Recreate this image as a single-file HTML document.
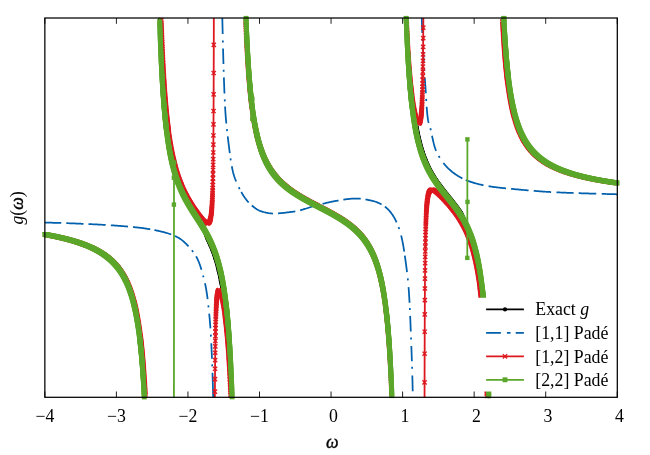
<!DOCTYPE html>
<html><head><meta charset="utf-8"><title>g(ω) Padé</title>
<style>html,body{margin:0;padding:0;background:#fff;}body{width:650px;height:455px;overflow:hidden;font-family:"Liberation Serif",serif;}svg{display:block;will-change:transform;}</style></head>
<body>
<svg width="650" height="455" viewBox="0 0 650 455">
<defs>
<clipPath id="box"><rect x="44.85" y="18.0" width="572.4499999999999" height="379.3"/></clipPath>
<marker id="mg" markerWidth="8" markerHeight="8" refX="4" refY="4" markerUnits="userSpaceOnUse"><rect x="1.5499999999999998" y="1.5499999999999998" width="4.9" height="4.9" fill="#5ba72b"/></marker>
<marker id="mr" markerWidth="8" markerHeight="8" refX="4" refY="4" markerUnits="userSpaceOnUse"><path d="M1.9,1.9L6.1,6.1M1.9,6.1L6.1,1.9" stroke="#dd181f" stroke-width="1.4" fill="none"/></marker>
<marker id="mk" markerWidth="8" markerHeight="8" refX="4" refY="4" markerUnits="userSpaceOnUse"><circle cx="4" cy="4" r="1.85" fill="#000000"/></marker>
</defs>
<rect width="650" height="455" fill="#fff"/>
<g clip-path="url(#box)"><path d="M44.85,234.43 45.28,234.51 45.71,234.58 46.14,234.66 46.57,234.74 47,234.82 47.43,234.89 47.86,234.97 48.28,235.05 48.71,235.13 49.14,235.21 49.57,235.29 50,235.38 50.43,235.46 50.86,235.54 51.29,235.63 51.72,235.71 52.15,235.79 52.58,235.88 53.01,235.96 53.44,236.05 53.87,236.14 54.29,236.23 54.72,236.31 55.15,236.4 55.58,236.49 56.01,236.58 56.44,236.67 56.87,236.77 57.3,236.86 57.73,236.95 58.16,237.05 58.59,237.14 59.02,237.24 59.45,237.33 59.88,237.43 60.3,237.53 60.73,237.62 61.16,237.72 61.59,237.82 62.02,237.92 62.45,238.03 62.88,238.13 63.31,238.23 63.74,238.34 64.17,238.44 64.6,238.55 65.03,238.65 65.46,238.76 65.89,238.87 66.31,238.98 66.74,239.09 67.17,239.2 67.6,239.31 68.03,239.42 68.46,239.54 68.89,239.65 69.32,239.77 69.75,239.89 70.18,240.01 70.61,240.12 71.04,240.24 71.47,240.37 71.9,240.49 72.33,240.61 72.75,240.74 73.18,240.86 73.61,240.99 74.04,241.12 74.47,241.25 74.9,241.38 75.33,241.51 75.76,241.64 76.19,241.78 76.62,241.91 77.05,242.05 77.48,242.19 77.91,242.33 78.34,242.47 78.76,242.61 79.19,242.76 79.62,242.9 80.05,243.05 80.48,243.2 80.91,243.35 81.34,243.5 81.77,243.65 82.2,243.81 82.63,243.96 83.06,244.12 83.49,244.28 83.92,244.44 84.35,244.61 84.77,244.77 85.2,244.94 85.63,245.11 86.06,245.28 86.49,245.45 86.92,245.63 87.35,245.8 87.78,245.98 88.21,246.16 88.64,246.35 89.07,246.53 89.5,246.72 89.93,246.91 90.36,247.1 90.79,247.29 91.21,247.49 91.64,247.69 92.07,247.89 92.5,248.09 92.93,248.3 93.36,248.51 93.79,248.72 94.22,248.94 94.58,249.12 94.94,249.3 95.29,249.48 95.65,249.67 96.01,249.86 96.37,250.05 96.72,250.24 97.08,250.44 97.44,250.64 97.8,250.84 98.15,251.04 98.51,251.25 98.87,251.45 99.23,251.66 99.59,251.87 99.94,252.09 100.3,252.31 100.66,252.53 101.02,252.75 101.37,252.97 101.73,253.2 102.09,253.43 102.45,253.67 102.81,253.91 103.16,254.15 103.52,254.39 103.88,254.64 104.24,254.89 104.59,255.14 104.95,255.4 105.31,255.66 105.67,255.92 106.03,256.19 106.38,256.46 106.74,256.73 107.1,257.01 107.46,257.29 107.81,257.58 108.17,257.87 108.53,258.17 108.89,258.47 109.25,258.77 109.6,259.08 109.96,259.39 110.32,259.71 110.68,260.03 111.03,260.36 111.39,260.69 111.75,261.03 112.11,261.38 112.46,261.73 112.75,262.01 113.04,262.3 113.32,262.59 113.61,262.88 113.9,263.18 114.18,263.49 114.47,263.79 114.75,264.1 115.04,264.42 115.33,264.74 115.61,265.07 115.9,265.4 116.19,265.73 116.47,266.07 116.76,266.41 117.04,266.76 117.33,267.12 117.62,267.48 117.9,267.84 118.19,268.21 118.47,268.59 118.76,268.97 119.05,269.36 119.33,269.76 119.62,270.16 119.91,270.57 120.19,270.98 120.48,271.4 120.76,271.83 121.05,272.27 121.34,272.71 121.62,273.16 121.84,273.5 122.05,273.85 122.27,274.2 122.48,274.56 122.7,274.92 122.91,275.28 123.13,275.66 123.34,276.03 123.56,276.41 123.77,276.8 123.98,277.19 124.2,277.59 124.41,277.99 124.63,278.4 124.84,278.82 125.06,279.24 125.27,279.67 125.49,280.1 125.7,280.54 125.92,280.99 126.13,281.44 126.35,281.9 126.56,282.37 126.77,282.84 126.99,283.33 127.2,283.82 127.42,284.31 127.63,284.82 127.85,285.34 128.06,285.86 128.28,286.39 128.49,286.93 128.71,287.48 128.92,288.04 129.06,288.42 129.21,288.8 129.35,289.19 129.49,289.58 129.64,289.97 129.78,290.37 129.92,290.78 130.07,291.19 130.21,291.6 130.35,292.02 130.5,292.45 130.64,292.88 130.78,293.32 130.92,293.76 131.07,294.2 131.21,294.66 131.35,295.12 131.5,295.58 131.64,296.05 131.78,296.53 131.93,297.01 132.07,297.5 132.21,297.99 132.36,298.5 132.5,299 132.64,299.52 132.78,300.04 132.93,300.57 133.07,301.11 133.21,301.66 133.36,302.21 133.5,302.77 133.64,303.34 133.79,303.92 133.93,304.5 134.07,305.1 134.22,305.7 134.36,306.31 134.5,306.93 134.65,307.56 134.79,308.2 134.93,308.85 135.07,309.51 135.22,310.18 135.36,310.87 135.5,311.56 135.65,312.26 135.79,312.98 135.93,313.7 136.08,314.44 136.22,315.19 136.36,315.95 136.51,316.73 136.65,317.52 136.72,317.92 136.79,318.32 136.86,318.73 136.93,319.14 137.01,319.55 137.08,319.97 137.15,320.39 137.22,320.82 137.29,321.25 137.36,321.68 137.44,322.12 137.51,322.56 137.58,323 137.65,323.45 137.72,323.9 137.79,324.36 137.87,324.82 137.94,325.29 138.01,325.76 138.08,326.23 138.15,326.71 138.22,327.19 138.29,327.68 138.37,328.17 138.44,328.67 138.51,329.17 138.58,329.68 138.65,330.19 138.72,330.71 138.8,331.23 138.87,331.76 138.94,332.29 139.01,332.83 139.08,333.38 139.15,333.93 139.22,334.48 139.3,335.04 139.37,335.61 139.44,336.18 139.51,336.76 139.58,337.34 139.65,337.93 139.73,338.53 139.8,339.13 139.87,339.74 139.94,340.36 140.01,340.98 140.08,341.61 140.15,342.25 140.23,342.89 140.3,343.54 140.37,344.2 140.44,344.87 140.51,345.54 140.58,346.22 140.66,346.91 140.73,347.61 140.8,348.31 140.87,349.03 140.94,349.75 141.01,350.48 141.08,351.22 141.16,351.96 141.23,352.72 141.3,353.49 141.37,354.26 141.44,355.05 141.51,355.84 141.59,356.64 141.66,357.46 141.73,358.28 141.8,359.12 141.87,359.96 141.94,360.82 142.01,361.69 142.09,362.57 142.16,363.46 142.23,364.36 142.3,365.27 142.37,366.2 142.44,367.14 142.52,368.09 142.59,369.05 142.66,370.03 142.73,371.02 142.8,372.03 142.87,373.05 142.95,374.08 143.02,375.13 143.09,376.19 143.16,377.27 143.23,378.37 143.3,379.48 143.37,380.6 143.45,381.75 143.52,382.91 143.59,384.09 143.66,385.28 143.73,386.5 143.8,387.73 143.88,388.99 143.95,390.26 144.02,391.55 144.09,392.87 144.16,394.2 144.23,395.56 144.3,396.94 144.38,398.34 144.45,399.77 144.52,401.22 144.59,402.69 144.66,404.19 144.73,405.72 144.81,407.27 144.88,408.85 144.95,410.46 145.02,412.1 145.09,413.77 145.16,415.46 145.23,417.19 145.31,418.95 145.38,420.75 145.45,422.57 145.52,424.44 145.59,426.33 145.66,428.27M158.76,-12.34 158.83,-9.34 158.9,-6.4 158.97,-3.54 159.04,-0.74 159.12,1.99 159.19,4.66 159.26,7.27 159.33,9.82 159.4,12.32 159.47,14.76 159.54,17.15 159.62,19.49 159.69,21.78 159.76,24.02 159.83,26.22 159.9,28.37 159.97,30.48 160.05,32.54 160.12,34.57 160.19,36.56 160.26,38.5 160.33,40.41 160.4,42.29 160.47,44.13 160.55,45.93 160.62,47.7 160.69,49.44 160.76,51.15 160.83,52.82 160.9,54.47 160.98,56.09 161.05,57.68 161.12,59.24 161.19,60.78 161.26,62.29 161.33,63.77 161.4,65.23 161.48,66.67 161.55,68.08 161.62,69.47 161.69,70.84 161.76,72.18 161.83,73.51 161.91,74.81 161.98,76.09 162.05,77.35 162.12,78.6 162.19,79.82 162.26,81.03 162.34,82.22 162.41,83.39 162.48,84.54 162.55,85.68 162.62,86.8 162.69,87.9 162.76,88.99 162.84,90.06 162.91,91.12 162.98,92.16 163.05,93.19 163.12,94.21 163.19,95.21 163.27,96.19 163.34,97.17 163.41,98.13 163.48,99.07 163.55,100.01 163.62,100.93 163.69,101.84 163.77,102.74 163.84,103.63 163.91,104.51 163.98,105.37 164.05,106.23 164.12,107.07 164.2,107.91 164.27,108.73 164.34,109.54 164.41,110.35 164.48,111.14 164.55,111.92 164.62,112.7 164.7,113.47 164.77,114.22 164.84,114.97 164.91,115.71 164.98,116.44 165.05,117.16 165.13,117.88 165.2,118.58 165.27,119.28 165.34,119.97 165.41,120.66 165.48,121.33 165.55,122 165.63,122.66 165.7,123.31 165.77,123.96 165.84,124.6 165.91,125.23 165.98,125.86 166.06,126.48 166.13,127.09 166.2,127.7 166.27,128.3 166.34,128.89 166.41,129.48 166.49,130.06 166.56,130.64 166.63,131.21 166.7,131.78 166.77,132.33 166.84,132.89 166.91,133.44 166.99,133.98 167.06,134.52 167.13,135.05 167.2,135.58 167.27,136.1 167.34,136.62 167.42,137.13 167.49,137.64 167.56,138.14 167.63,138.64 167.7,139.14 167.77,139.63 167.84,140.11 167.92,140.59 167.99,141.07 168.06,141.54 168.13,142.01 168.2,142.47 168.27,142.93 168.35,143.39 168.42,143.84 168.49,144.29 168.56,144.73 168.63,145.17 168.7,145.61 168.77,146.04 168.85,146.47 168.92,146.9 168.99,147.32 169.06,147.74 169.13,148.15 169.2,148.56 169.28,148.97 169.35,149.38 169.42,149.78 169.49,150.18 169.56,150.57 169.7,151.35 169.85,152.12 169.99,152.88 170.13,153.62 170.28,154.36 170.42,155.08 170.56,155.79 170.71,156.49 170.85,157.18 170.99,157.86 171.14,158.53 171.28,159.2 171.42,159.85 171.57,160.49 171.71,161.13 171.85,161.75 171.99,162.37 172.14,162.98 172.28,163.58 172.42,164.17 172.57,164.76 172.71,165.33 172.85,165.9 173,166.47 173.14,167.02 173.28,167.57 173.43,168.11 173.57,168.65 173.71,169.18 173.85,169.7 174,170.22 174.14,170.73 174.28,171.23 174.43,171.73 174.57,172.22 174.71,172.71 174.86,173.19 175,173.67 175.14,174.14 175.29,174.61 175.43,175.07 175.57,175.52 175.71,175.97 175.86,176.42 176,176.86 176.14,177.3 176.29,177.73 176.43,178.16 176.57,178.59 176.72,179.01 176.86,179.42 177,179.83 177.15,180.24 177.29,180.64 177.43,181.04 177.58,181.44 177.72,181.83 177.86,182.22 178,182.61 178.15,182.99 178.29,183.37 178.43,183.74 178.65,184.3 178.86,184.85 179.08,185.39 179.29,185.93 179.51,186.46 179.72,186.98 179.94,187.5 180.15,188.01 180.37,188.51 180.58,189.01 180.8,189.5 181.01,189.99 181.22,190.47 181.44,190.95 181.65,191.42 181.87,191.89 182.08,192.35 182.3,192.81 182.51,193.26 182.73,193.71 182.94,194.15 183.16,194.59 183.37,195.03 183.59,195.46 183.8,195.89 184.01,196.32 184.23,196.74 184.44,197.15 184.66,197.57 184.87,197.98 185.09,198.39 185.3,198.79 185.52,199.19 185.73,199.59 185.95,199.99 186.16,200.38 186.38,200.77 186.59,201.15 186.81,201.54 187.02,201.92 187.23,202.3 187.45,202.68 187.66,203.05 187.88,203.42 188.09,203.79 188.31,204.16 188.52,204.53 188.74,204.89 188.95,205.26 189.17,205.62 189.38,205.97 189.6,206.33 189.81,206.69 190.02,207.04 190.24,207.39 190.45,207.74 190.67,208.09 190.88,208.44 191.1,208.79 191.31,209.13 191.53,209.48 191.74,209.82 191.96,210.16 192.17,210.51 192.39,210.85 192.6,211.19 192.82,211.52 193.03,211.86 193.32,212.31 193.6,212.76 193.89,213.21 194.17,213.65 194.46,214.1 194.75,214.54 195.03,214.98 195.32,215.43 195.61,215.87 195.89,216.31 196.18,216.75 196.46,217.19 196.75,217.64 197.04,218.08 197.32,218.52 197.61,218.96 197.9,219.41 198.18,219.85 198.47,220.29 198.75,220.74 199.04,221.19 199.33,221.63 199.61,222.08 199.9,222.53 200.11,222.87 200.33,223.21 200.54,223.55 200.76,223.89 200.97,224.23 201.19,224.58 201.4,224.92 201.62,225.27 201.83,225.61 202.05,225.96 202.26,226.31 202.47,226.66 202.69,227.01 202.9,227.37 203.12,227.72 203.32,228.09 203.48,228.48 203.64,228.87 203.8,229.27 203.96,229.66 204.11,230.06 204.27,230.46 204.43,230.86 204.58,231.27 204.74,231.68 204.89,232.09 205.05,232.5 205.2,232.91 205.35,233.33 205.51,233.74 205.66,234.17 205.81,234.59 205.96,235.01 206.11,235.44 206.26,235.88 206.41,236.31 206.55,236.75 206.7,237.19 206.85,237.63 206.99,238.08 207.14,238.53 207.31,238.97 207.52,239.39 207.73,239.82 207.94,240.25 208.15,240.69 208.36,241.13 208.58,241.57 208.79,242.02 209,242.47 209.21,242.93 209.42,243.39 209.63,243.85 209.85,244.33 210.06,244.8 210.27,245.28 210.48,245.77 210.69,246.27 210.9,246.77 211.12,247.27 211.33,247.78 211.54,248.3 211.75,248.82 211.96,249.36 212.17,249.89 212.39,250.44 212.6,250.99 212.81,251.55 212.95,251.93 213.09,252.31 213.23,252.7 213.37,253.08 213.52,253.48 213.66,253.87 213.8,254.27 213.94,254.68 214.08,255.09 214.22,255.5 214.36,255.91 214.51,256.33 214.65,256.76 214.79,257.19 214.93,257.62 215.07,258.06 215.21,258.51 215.35,258.96 215.49,259.41 215.64,259.87 215.78,260.33 215.92,260.8 216.06,261.28 216.2,261.76 216.34,262.24 216.49,262.73 216.63,263.23 216.77,263.73 216.91,264.24 217.05,264.76 217.19,265.28 217.33,265.81 217.48,266.35 217.62,266.89 217.76,267.44 217.9,268 218.04,268.56 218.19,269.13 218.33,269.71 218.47,270.3 218.61,270.9 218.75,271.5 218.89,272.11 219.04,272.73 219.18,273.36 219.32,274 219.46,274.65 219.6,275.31 219.75,275.98 219.89,276.66 220.03,277.35 220.17,278.05 220.31,278.76 220.46,279.48 220.6,280.21 220.74,280.96 220.88,281.71 221.02,282.48 221.17,283.26 221.24,283.66 221.31,284.06 221.38,284.46 221.45,284.87 221.52,285.28 221.59,285.69 221.66,286.11 221.74,286.53 221.81,286.95 221.88,287.38 221.95,287.81 222.02,288.25 222.09,288.69 222.16,289.13 222.23,289.58 222.3,290.03 222.41,290.48 222.57,290.92 222.72,291.37 222.87,291.83 223.03,292.29 223.19,292.75 223.34,293.22 223.5,293.7 223.66,294.18 223.82,294.66 223.98,295.15 224.14,295.64 224.31,296.14 224.47,296.64 224.64,297.15 224.8,297.66 224.97,298.18 225.13,298.71 225.3,299.24 225.47,299.77 225.59,300.32 225.66,300.88 225.73,301.45 225.8,302.02 225.87,302.6 225.94,303.18 226.01,303.77 226.09,304.37 226.16,304.97 226.23,305.58 226.3,306.19 226.37,306.82 226.44,307.44 226.52,308.08 226.59,308.72 226.66,309.37 226.73,310.03 226.8,310.69 226.87,311.37 226.94,312.05 227.02,312.73 227.09,313.43 227.16,314.13 227.23,314.85 227.3,315.57 227.37,316.3 227.45,317.03 227.52,317.78 227.59,318.54 227.66,319.3 227.73,320.07 227.8,320.86 227.87,321.65 227.95,322.46 228.02,323.27 228.09,324.09 228.16,324.93 228.23,325.78 228.3,326.63 228.38,327.5 228.45,328.38 228.52,329.27 228.59,330.17 228.66,331.09 228.73,332.02 228.81,332.96 228.88,333.91 228.95,334.88 229.02,335.86 229.09,336.85 229.16,337.86 229.23,338.88 229.31,339.92 229.38,340.97 229.45,342.04 229.52,343.12 229.59,344.23 229.66,345.34 229.74,346.48 229.81,347.63 229.88,348.79 229.95,349.98 230.02,351.19 230.09,352.41 230.16,353.66 230.24,354.92 230.31,356.2 230.38,357.51 230.45,358.84 230.52,360.19 230.59,361.56 230.67,362.95 230.74,364.37 230.81,365.82 230.88,367.28 230.95,368.78 231.02,370.3 231.09,371.85 231.17,373.42 231.24,375.03 231.31,376.66 231.38,378.33 231.45,380.02 231.52,381.75 231.6,383.51 231.67,385.31 231.74,387.14 231.81,389.01 231.88,390.91 231.95,392.85 232.02,394.83 232.1,396.86 232.17,398.92 232.24,401.03 232.31,403.18 232.38,405.38 232.45,407.63 232.53,409.93 232.6,412.27 232.67,414.67 232.74,417.13 232.81,419.64 232.88,422.21 232.95,424.84 233.03,427.54M245.05,-13.1 245.12,-10.53 245.19,-8.02 245.26,-5.57 245.33,-3.17 245.4,-0.82 245.48,1.47 245.55,3.71 245.62,5.91 245.69,8.06 245.76,10.17 245.83,12.23 245.91,14.25 245.98,16.23 246.05,18.17 246.12,20.07 246.19,21.93 246.26,23.76 246.33,25.55 246.41,27.31 246.48,29.03 246.55,30.72 246.62,32.39 246.69,34.02 246.76,35.62 246.84,37.19 246.91,38.73 246.98,40.25 247.05,41.74 247.12,43.21 247.19,44.65 247.26,46.06 247.34,47.45 247.41,48.82 247.48,50.16 247.55,51.49 247.62,52.79 247.69,54.07 247.77,55.33 247.84,56.57 247.91,57.79 247.98,58.99 248.05,60.17 248.12,61.33 248.2,62.48 248.27,63.61 248.34,64.72 248.41,65.82 248.48,66.9 248.55,67.96 248.62,69.01 248.7,70.04 248.77,71.06 248.84,72.06 248.91,73.05 248.98,74.02 249.05,74.99 249.13,75.93 249.2,76.87 249.27,77.79 249.34,78.7 249.41,79.6 249.48,80.48 249.55,81.36 249.63,82.22 249.7,83.07 249.77,83.91 249.84,84.74 249.91,85.56 249.98,86.37 250.06,87.17 250.13,87.95 250.2,88.73 250.27,89.5 250.34,90.26 250.41,91.01 250.48,91.75 250.56,92.48 250.63,93.2 250.7,93.92 250.77,94.62 250.84,95.32 250.91,96.01 250.99,96.69 251.06,97.36 251.13,98.03 251.2,98.69 251.27,99.34 251.34,99.98 251.41,100.62 251.49,101.25 251.56,101.87 251.63,102.48 251.7,103.09 251.77,103.69 251.84,104.29 251.92,104.88 251.99,105.46 252.06,106.04 252.13,106.61 252.2,107.17 252.27,107.73 252.35,108.28 252.42,108.83 252.49,109.37 252.56,109.91 252.63,110.44 252.7,110.96 252.77,111.48 252.85,112 252.92,112.5 252.99,113.01 253.06,113.51 253.13,114 253.2,114.49 253.28,114.98 253.35,115.46 253.42,115.93 253.49,116.4 253.56,116.87 253.63,117.33 253.7,117.79 253.78,118.24 253.85,118.69 253.92,119.14 253.99,119.58 254.06,120.02 254.13,120.45 254.21,120.88 254.28,121.3 254.35,121.73 254.42,122.14 254.49,122.56 254.56,122.97 254.63,123.37 254.71,123.78 254.78,124.18 254.85,124.57 254.99,125.36 255.14,126.13 255.28,126.88 255.42,127.62 255.56,128.36 255.71,129.07 255.85,129.78 255.99,130.48 256.14,131.16 256.28,131.84 256.42,132.5 256.57,133.15 256.71,133.8 256.85,134.43 257,135.06 257.14,135.67 257.28,136.28 257.43,136.87 257.57,137.46 257.71,138.04 257.85,138.61 258,139.17 258.14,139.73 258.28,140.27 258.43,140.81 258.57,141.35 258.71,141.87 258.86,142.39 259,142.9 259.14,143.4 259.29,143.9 259.43,144.39 259.57,144.88 259.71,145.35 259.86,145.83 260,146.29 260.14,146.75 260.29,147.21 260.43,147.65 260.57,148.1 260.72,148.53 260.86,148.97 261,149.39 261.15,149.82 261.29,150.23 261.43,150.64 261.57,151.05 261.72,151.45 261.86,151.85 262,152.24 262.15,152.63 262.29,153.02 262.43,153.4 262.58,153.77 262.79,154.33 263.01,154.88 263.22,155.41 263.44,155.94 263.65,156.46 263.86,156.98 264.08,157.48 264.29,157.98 264.51,158.47 264.72,158.95 264.94,159.42 265.15,159.89 265.37,160.35 265.58,160.8 265.8,161.25 266.01,161.69 266.23,162.13 266.44,162.55 266.66,162.98 266.87,163.39 267.08,163.8 267.3,164.21 267.51,164.61 267.73,165 267.94,165.39 268.16,165.78 268.37,166.16 268.59,166.53 268.8,166.9 269.02,167.27 269.23,167.63 269.45,167.99 269.66,168.34 269.87,168.68 270.09,169.03 270.3,169.37 270.59,169.81 270.88,170.25 271.16,170.69 271.45,171.11 271.74,171.53 272.02,171.95 272.31,172.35 272.59,172.75 272.88,173.15 273.17,173.54 273.45,173.92 273.74,174.3 274.02,174.68 274.31,175.05 274.6,175.41 274.88,175.77 275.17,176.13 275.46,176.48 275.74,176.82 276.03,177.16 276.31,177.5 276.6,177.83 276.89,178.16 277.17,178.49 277.46,178.81 277.75,179.12 278.03,179.44 278.32,179.75 278.6,180.05 278.89,180.35 279.18,180.65 279.46,180.95 279.75,181.24 280.03,181.53 280.32,181.82 280.61,182.1 280.89,182.38 281.25,182.73 281.61,183.07 281.97,183.41 282.32,183.74 282.68,184.07 283.04,184.39 283.4,184.72 283.76,185.03 284.11,185.35 284.47,185.66 284.83,185.96 285.19,186.27 285.54,186.57 285.9,186.86 286.26,187.16 286.62,187.45 286.98,187.73 287.33,188.02 287.69,188.3 288.05,188.58 288.41,188.86 288.76,189.13 289.12,189.4 289.48,189.67 289.84,189.93 290.19,190.2 290.55,190.46 290.91,190.72 291.27,190.97 291.63,191.23 291.98,191.48 292.34,191.73 292.7,191.97 293.06,192.22 293.41,192.46 293.77,192.71 294.13,192.95 294.49,193.18 294.85,193.42 295.2,193.66 295.56,193.89 295.92,194.12 296.28,194.35 296.63,194.58 296.99,194.8 297.35,195.03 297.71,195.25 298.07,195.48 298.42,195.7 298.78,195.92 299.14,196.13 299.5,196.35 299.85,196.57 300.21,196.78 300.57,196.99 300.93,197.21 301.29,197.42 301.64,197.63 302,197.84 302.36,198.04 302.72,198.25 303.07,198.46 303.43,198.66 303.79,198.86 304.15,199.07 304.5,199.27 304.86,199.47 305.22,199.67 305.58,199.87 305.94,200.07 306.29,200.27 306.65,200.46 307.01,200.66 307.37,200.86 307.72,201.05 308.08,201.25 308.44,201.44 308.8,201.63 309.16,201.83 309.51,202.02 309.87,202.21 310.23,202.4 310.59,202.59 310.94,202.78 311.3,202.97 311.66,203.16 312.02,203.35 312.38,203.54 312.73,203.73 313.09,203.92 313.45,204.1 313.81,204.29 314.16,204.48 314.52,204.67 314.88,204.85 315.24,205.04 315.6,205.22 315.95,205.41 316.31,205.6 316.67,205.78 317.03,205.97 317.38,206.15 317.74,206.34 318.1,206.52 318.46,206.71 318.81,206.89 319.17,207.08 319.53,207.26 319.89,207.45 320.25,207.63 320.6,207.82 320.96,208 321.32,208.19 321.68,208.38 322.03,208.56 322.39,208.75 322.75,208.93 323.11,209.12 323.47,209.31 323.82,209.49 324.18,209.68 324.54,209.87 324.9,210.05 325.25,210.24 325.61,210.43 325.97,210.62 326.33,210.81 326.69,211 327.04,211.19 327.4,211.38 327.76,211.57 328.12,211.76 328.47,211.95 328.83,212.14 329.19,212.34 329.55,212.53 329.91,212.72 330.26,212.92 330.62,213.11 330.98,213.31 331.34,213.5 331.69,213.7 332.05,213.9 332.41,214.1 332.77,214.3 333.12,214.5 333.48,214.7 333.84,214.9 334.2,215.1 334.56,215.31 334.91,215.51 335.27,215.72 335.63,215.92 335.99,216.13 336.34,216.34 336.7,216.55 337.06,216.76 337.42,216.97 337.78,217.18 338.13,217.4 338.49,217.61 338.85,217.83 339.21,218.05 339.56,218.27 339.92,218.49 340.28,218.71 340.64,218.93 341,219.16 341.35,219.39 341.71,219.61 342.07,219.84 342.43,220.08 342.78,220.31 343.14,220.54 343.5,220.78 343.86,221.02 344.22,221.26 344.57,221.5 344.93,221.74 345.29,221.99 345.65,222.24 346,222.49 346.36,222.74 346.72,222.99 347.08,223.25 347.43,223.51 347.79,223.77 348.15,224.03 348.51,224.3 348.87,224.56 349.22,224.83 349.58,225.11 349.94,225.38 350.3,225.66 350.65,225.94 351.01,226.23 351.37,226.52 351.73,226.81 352.09,227.1 352.44,227.4 352.8,227.7 353.16,228 353.52,228.31 353.87,228.62 354.23,228.93 354.59,229.25 354.95,229.57 355.31,229.9 355.66,230.23 356.02,230.56 356.38,230.9 356.74,231.24 357.09,231.59 357.38,231.87 357.67,232.15 357.95,232.44 358.24,232.73 358.53,233.02 358.81,233.32 359.1,233.62 359.38,233.92 359.67,234.23 359.96,234.54 360.24,234.85 360.53,235.17 360.81,235.49 361.1,235.82 361.39,236.15 361.67,236.48 361.96,236.82 362.25,237.16 362.53,237.51 362.82,237.86 363.1,238.21 363.39,238.58 363.68,238.94 363.96,239.31 364.25,239.69 364.54,240.07 364.82,240.45 365.11,240.85 365.39,241.24 365.68,241.65 365.97,242.06 366.25,242.47 366.54,242.89 366.82,243.32 367.11,243.76 367.4,244.2 367.68,244.65 367.9,244.99 368.11,245.33 368.33,245.68 368.54,246.04 368.76,246.39 368.97,246.76 369.19,247.12 369.4,247.5 369.62,247.87 369.83,248.25 370.04,248.64 370.26,249.03 370.47,249.43 370.69,249.83 370.9,250.24 371.12,250.65 371.33,251.07 371.55,251.5 371.76,251.93 371.98,252.37 372.19,252.81 372.41,253.26 372.62,253.72 372.84,254.18 373.05,254.65 373.26,255.13 373.48,255.62 373.69,256.11 373.91,256.61 374.12,257.12 374.34,257.63 374.55,258.16 374.77,258.69 374.98,259.23 375.2,259.79 375.41,260.35 375.55,260.72 375.7,261.11 375.84,261.5 375.98,261.89 376.13,262.28 376.27,262.68 376.41,263.09 376.56,263.5 376.7,263.92 376.84,264.34 376.99,264.76 377.13,265.19 377.27,265.63 377.41,266.07 377.56,266.52 377.7,266.97 377.84,267.43 377.99,267.89 378.13,268.36 378.27,268.84 378.42,269.32 378.56,269.81 378.7,270.31 378.85,270.81 378.99,271.32 379.13,271.83 379.27,272.36 379.42,272.89 379.56,273.42 379.7,273.97 379.85,274.52 379.99,275.08 380.13,275.65 380.28,276.23 380.42,276.81 380.56,277.41 380.71,278.01 380.85,278.62 380.99,279.24 381.13,279.87 381.28,280.51 381.42,281.16 381.56,281.82 381.71,282.49 381.85,283.18 381.99,283.87 382.14,284.57 382.28,285.29 382.42,286.02 382.57,286.75 382.71,287.51 382.85,288.27 383,289.05 383.07,289.44 383.14,289.84 383.21,290.24 383.28,290.64 383.35,291.05 383.42,291.46 383.5,291.88 383.57,292.3 383.64,292.72 383.71,293.15 383.78,293.58 383.85,294.01 383.93,294.45 384,294.89 384.07,295.34 384.14,295.79 384.21,296.24 384.28,296.7 384.35,297.16 384.43,297.63 384.5,298.1 384.57,298.58 384.64,299.06 384.71,299.55 384.78,300.04 384.86,300.53 384.93,301.03 385,301.54 385.07,302.05 385.14,302.57 385.21,303.09 385.28,303.61 385.36,304.14 385.43,304.68 385.5,305.22 385.57,305.77 385.64,306.32 385.71,306.88 385.79,307.45 385.86,308.02 385.93,308.6 386,309.18 386.07,309.77 386.14,310.37 386.22,310.97 386.29,311.58 386.36,312.19 386.43,312.82 386.5,313.45 386.57,314.08 386.64,314.73 386.72,315.38 386.79,316.04 386.86,316.7 386.93,317.38 387,318.06 387.07,318.75 387.15,319.45 387.22,320.15 387.29,320.87 387.36,321.59 387.43,322.32 387.5,323.06 387.57,323.81 387.65,324.57 387.72,325.34 387.79,326.12 387.86,326.91 387.93,327.7 388,328.51 388.08,329.33 388.15,330.16 388.22,331 388.29,331.85 388.36,332.71 388.43,333.58 388.5,334.47 388.58,335.37 388.65,336.27 388.72,337.2 388.79,338.13 388.86,339.08 388.93,340.04 389.01,341.01 389.08,342 389.15,343 389.22,344.02 389.29,345.05 389.36,346.09 389.43,347.15 389.51,348.23 389.58,349.32 389.65,350.43 389.72,351.56 389.79,352.7 389.86,353.86 389.94,355.04 390.01,356.24 390.08,357.45 390.15,358.69 390.22,359.95 390.29,361.22 390.36,362.52 390.44,363.84 390.51,365.18 390.58,366.54 390.65,367.92 390.72,369.33 390.79,370.76 390.87,372.22 390.94,373.7 391.01,375.21 391.08,376.75 391.15,378.31 391.22,379.91 391.3,381.53 391.37,383.18 391.44,384.86 391.51,386.57 391.58,388.32 391.65,390.1 391.72,391.91 391.8,393.76 391.87,395.65 391.94,397.57 392.01,399.54 392.08,401.54 392.15,403.58 392.23,405.67 392.3,407.8 392.37,409.98 392.44,412.2 392.51,414.47 392.58,416.79 392.65,419.17 392.73,421.6 392.8,424.08 392.87,426.62 392.94,429.21M405.18,-12.28 405.25,-9.71 405.32,-7.2 405.39,-4.74 405.46,-2.34 405.53,0.01 405.61,2.31 405.68,4.56 405.75,6.76 405.82,8.91 405.89,11.02 405.96,13.09 406.03,15.12 406.11,17.1 406.18,19.05 406.25,20.96 406.32,22.83 406.39,24.66 406.46,26.46 406.54,28.23 406.61,29.96 406.68,31.66 406.75,33.33 406.82,34.97 406.89,36.57 406.96,38.16 407.04,39.71 407.11,41.23 407.18,42.73 407.25,44.2 407.32,45.65 407.39,47.08 407.47,48.48 407.54,49.85 407.61,51.21 407.68,52.54 407.75,53.85 407.82,55.14 407.89,56.4 407.97,57.65 408.04,58.88 408.11,60.09 408.18,61.28 408.25,62.46 408.32,63.61 408.4,64.75 408.47,65.87 408.54,66.97 408.61,68.06 408.68,69.13 408.75,70.19 408.82,71.23 408.9,72.26 408.97,73.27 409.04,74.27 409.11,75.25 409.18,76.22 409.25,77.18 409.33,78.12 409.4,79.05 409.47,79.97 409.54,80.88 409.61,81.77 409.68,82.66 409.76,83.53 409.83,84.39 409.9,85.24 409.97,86.07 410.04,86.9 410.11,87.72 410.18,88.52 410.26,89.32 410.33,90.11 410.4,90.89 410.47,91.65 410.54,92.41 410.61,93.16 410.69,93.9 410.76,94.63 410.83,95.36 410.9,96.07 410.97,96.78 411.04,97.47 411.11,98.16 411.19,98.85 411.26,99.52 411.33,100.19 411.4,100.85 411.47,101.5 411.54,102.14 411.62,102.78 411.76,103.4 411.94,104.01 412.12,104.62 412.29,105.21 412.47,105.8 412.65,106.39 412.82,106.97 412.99,107.54 413.17,108.1 413.34,108.66 413.51,109.22 413.67,109.76 413.84,110.3 414.01,110.84 414.17,111.37 414.34,111.89 414.5,112.41 414.64,112.93 414.71,113.45 414.78,113.97 414.85,114.48 414.92,114.98 414.99,115.48 415.06,115.98 415.14,116.47 415.21,116.95 415.28,117.44 415.35,117.91 415.42,118.39 415.49,118.85 415.56,119.32 415.63,119.78 415.71,120.23 415.78,120.68 415.85,121.13 415.92,121.57 415.99,122.01 416.06,122.45 416.13,122.88 416.2,123.31 416.27,123.73 416.35,124.15 416.42,124.57 416.49,124.98 416.56,125.39 416.63,125.79 416.7,126.2 416.77,126.59 416.84,126.99 416.99,127.77 417.13,128.54 417.27,129.29 417.41,130.04 417.55,130.77 417.7,131.49 417.84,132.19 417.98,132.89 418.12,133.58 418.26,134.25 418.41,134.92 418.55,135.57 418.69,136.22 418.83,136.85 418.97,137.48 419.12,138.1 419.26,138.71 419.4,139.31 419.54,139.9 419.68,140.48 419.82,141.05 419.97,141.62 420.11,142.18 420.25,142.73 420.39,143.28 420.53,143.81 420.67,144.34 420.82,144.87 420.96,145.38 421.1,145.89 421.24,146.4 421.38,146.89 421.52,147.38 421.67,147.87 421.81,148.35 421.95,148.82 422.09,149.29 422.23,149.75 422.37,150.21 422.51,150.66 422.66,151.1 422.8,151.54 422.94,151.98 423.08,152.41 423.22,152.84 423.36,153.26 423.5,153.67 423.64,154.08 423.79,154.49 423.93,154.9 424.07,155.29 424.21,155.69 424.35,156.08 424.49,156.46 424.63,156.85 424.77,157.23 424.91,157.6 425.13,158.16 425.34,158.7 425.55,159.24 425.76,159.77 425.97,160.29 426.18,160.81 426.39,161.32 426.61,161.82 426.82,162.32 427.03,162.81 427.24,163.29 427.45,163.76 427.66,164.23 427.87,164.7 428.09,165.16 428.3,165.61 428.51,166.05 428.72,166.5 428.93,166.93 429.14,167.36 429.35,167.79 429.56,168.21 429.77,168.63 429.99,169.04 430.2,169.45 430.41,169.85 430.62,170.25 430.83,170.65 431.04,171.04 431.25,171.43 431.46,171.81 431.67,172.19 431.89,172.57 432.1,172.94 432.31,173.31 432.52,173.67 432.73,174.03 432.94,174.39 433.15,174.75 433.36,175.1 433.58,175.45 433.79,175.8 434,176.14 434.21,176.49 434.49,176.94 434.77,177.38 435.05,177.83 435.34,178.26 435.62,178.7 435.9,179.13 436.18,179.55 436.46,179.97 436.75,180.39 437.03,180.81 437.31,181.22 437.59,181.63 437.88,182.03 438.16,182.43 438.44,182.83 438.72,183.23 439.01,183.62 439.29,184.01 439.57,184.4 439.86,184.79 440.14,185.17 440.42,185.55 440.71,185.93 440.99,186.31 441.27,186.68 441.56,187.06 441.84,187.43 442.12,187.8 442.41,188.17 442.69,188.54 442.98,188.9 443.26,189.27 443.54,189.63 443.83,189.99 444.11,190.35 444.4,190.71 444.68,191.07 444.97,191.43 445.25,191.79 445.54,192.15 445.82,192.5 446.11,192.86 446.39,193.21 446.68,193.57 446.96,193.92 447.25,194.28 447.54,194.63 447.82,194.99 448.11,195.34 448.39,195.7 448.68,196.05 448.97,196.4 449.25,196.76 449.54,197.11 449.83,197.47 450.11,197.83 450.4,198.18 450.69,198.54 450.97,198.9 451.26,199.26 451.55,199.62 451.84,199.98 452.12,200.34 452.41,200.7 452.7,201.06 452.99,201.43 453.27,201.8 453.56,202.16 453.85,202.53 454.14,202.9 454.43,203.28 454.72,203.65 455,204.03 455.29,204.4 455.58,204.78 455.87,205.17 456.16,205.55 456.45,205.94 456.74,206.32 457.03,206.72 457.32,207.11 457.61,207.51 457.9,207.9 458.18,208.31 458.47,208.71 458.76,209.12 459.05,209.53 459.34,209.94 459.63,210.36 459.92,210.78 460.21,211.21 460.5,211.64 460.79,212.07 461.08,212.51 461.37,212.95 461.56,213.3 461.73,213.67 461.9,214.04 462.06,214.41 462.23,214.78 462.4,215.16 462.56,215.54 462.73,215.92 462.9,216.31 463.06,216.7 463.22,217.09 463.39,217.48 463.55,217.88 463.71,218.28 463.87,218.68 464.03,219.09 464.19,219.5 464.35,219.91 464.51,220.33 464.66,220.75 464.82,221.17 464.97,221.6 465.13,222.03 465.28,222.47 465.43,222.91 465.59,223.35 465.74,223.8 465.92,224.23 466.14,224.66 466.35,225.08 466.57,225.52 466.78,225.95 467,226.4 467.21,226.84 467.42,227.3 467.64,227.76 467.85,228.22 468.07,228.69 468.28,229.17 468.5,229.65 468.71,230.14 468.93,230.63 469.14,231.14 469.36,231.65 469.57,232.16 469.79,232.68 470,233.21 470.21,233.75 470.43,234.3 470.64,234.85 470.86,235.41 471,235.79 471.14,236.17 471.29,236.56 471.43,236.95 471.57,237.34 471.72,237.74 471.86,238.14 472,238.55 472.15,238.96 472.29,239.38 472.43,239.8 472.58,240.22 472.72,240.65 472.86,241.09 473.01,241.53 473.15,241.97 473.29,242.42 473.43,242.88 473.58,243.34 473.72,243.8 473.86,244.27 474.01,244.75 474.15,245.23 474.29,245.72 474.44,246.21 474.58,246.71 474.72,247.22 474.87,247.73 475.01,248.25 475.15,248.77 475.29,249.31 475.44,249.85 475.58,250.39 475.72,250.95 475.87,251.51 476.01,252.08 476.15,252.65 476.3,253.24 476.44,253.83 476.58,254.43 476.73,255.04 476.87,255.66 477.01,256.29 477.16,256.92 477.3,257.57 477.44,258.22 477.58,258.89 477.73,259.56 477.87,260.25 478.01,260.94 478.16,261.65 478.3,262.37 478.44,263.1 478.59,263.84 478.73,264.59 478.87,265.36 479.02,266.13 479.09,266.53 479.16,266.92 479.23,267.32 479.3,267.73 479.37,268.13 479.44,268.54 479.52,268.96 479.59,269.38 479.66,269.8 479.73,270.22 479.8,270.65 479.87,271.08 479.95,271.52 480.02,271.96 480.09,272.4 480.16,272.85 480.23,273.3 480.3,273.76 480.37,274.22 480.45,274.68 480.52,275.15 480.59,275.62 480.66,276.1 480.73,276.58 480.8,277.07 480.88,277.56 480.95,278.06 481.02,278.56 481.09,279.06 481.16,279.57 481.23,280.09 481.31,280.61 481.38,281.13 481.45,281.66 481.52,282.2 481.59,282.74 481.66,283.28 481.73,283.84 481.81,284.39 481.88,284.96 481.95,285.52 482.02,286.1 482.09,286.68 482.16,287.27 482.24,287.86 482.31,288.46 482.38,289.06 482.45,289.68 482.52,290.29 482.59,290.92 482.66,291.55 482.74,292.19 482.81,292.84 482.88,293.49 482.95,294.15 483.02,294.82 483.09,295.49 483.17,296.18 483.24,296.87 483.31,297.57 483.38,298.27 483.45,298.99 483.52,299.71 483.59,300.45 483.67,301.19 483.74,301.94 483.81,302.69 483.88,303.46 483.95,304.24 484.02,305.03 484.1,305.82 484.17,306.63 484.24,307.45 484.31,308.27 484.38,309.11 484.45,309.96 484.52,310.82 484.6,311.69 484.67,312.57 484.74,313.46 484.81,314.37 484.88,315.29 484.95,316.21 485.03,317.16 485.1,318.11 485.17,319.08 485.24,320.06 485.31,321.05 485.38,322.06 485.45,323.09 485.53,324.12 485.6,325.18 485.67,326.24 485.74,327.33 485.81,328.43 485.88,329.54 485.96,330.67 486.03,331.82 486.1,332.99 486.17,334.17 486.24,335.38 486.31,336.6 486.39,337.84 486.46,339.1 486.53,340.38 486.6,341.68 486.67,343 486.74,344.34 486.81,345.71 486.89,347.1 486.96,348.51 487.03,349.94 487.1,351.4 487.17,352.88 487.24,354.39 487.32,355.93 487.39,357.49 487.46,359.08 487.53,360.7 487.6,362.35 487.67,364.03 487.74,365.74 487.82,367.49 487.89,369.26 487.96,371.07 488.03,372.91 488.1,374.79 488.17,376.71 488.25,378.66 488.32,380.66 488.39,382.69 488.46,384.77 488.53,386.89 488.6,389.05 488.67,391.26 488.75,393.51 488.82,395.81 488.89,398.17 488.96,400.57 489.03,403.03 489.1,405.55 489.18,408.12 489.25,410.75 489.32,413.45 489.39,416.2 489.46,419.03 489.53,421.92 489.6,424.88 489.68,427.91M502.48,-13.68 502.56,-11.68 502.63,-9.72 502.7,-7.8 502.77,-5.91 502.84,-4.06 502.91,-2.25 502.98,-0.47 503.06,1.28 503.13,3 503.2,4.68 503.27,6.34 503.34,7.96 503.41,9.56 503.49,11.12 503.56,12.66 503.63,14.18 503.7,15.66 503.77,17.13 503.84,18.56 503.91,19.98 503.99,21.37 504.06,22.73 504.13,24.08 504.2,25.4 504.27,26.7 504.34,27.99 504.42,29.25 504.49,30.49 504.56,31.71 504.63,32.91 504.7,34.1 504.77,35.27 504.84,36.41 504.92,37.55 504.99,38.66 505.06,39.76 505.13,40.84 505.2,41.91 505.27,42.96 505.35,44 505.42,45.02 505.49,46.03 505.56,47.03 505.63,48.01 505.7,48.97 505.78,49.93 505.85,50.87 505.92,51.79 505.99,52.71 506.06,53.61 506.13,54.5 506.2,55.38 506.28,56.25 506.35,57.11 506.42,57.95 506.49,58.79 506.56,59.61 506.63,60.43 506.71,61.23 506.78,62.03 506.85,62.81 506.92,63.58 506.99,64.35 507.06,65.11 507.13,65.85 507.21,66.59 507.28,67.32 507.35,68.04 507.42,68.75 507.49,69.45 507.56,70.15 507.64,70.84 507.71,71.52 507.78,72.19 507.85,72.85 507.92,73.51 507.99,74.16 508.06,74.8 508.14,75.44 508.21,76.06 508.28,76.68 508.35,77.3 508.42,77.91 508.49,78.51 508.57,79.1 508.64,79.69 508.71,80.27 508.78,80.85 508.85,81.42 508.92,81.98 508.99,82.54 509.07,83.09 509.14,83.64 509.21,84.18 509.28,84.71 509.35,85.24 509.42,85.77 509.5,86.29 509.57,86.8 509.64,87.31 509.71,87.82 509.78,88.32 509.85,88.81 509.93,89.3 510,89.79 510.07,90.27 510.14,90.74 510.21,91.21 510.28,91.68 510.35,92.14 510.43,92.6 510.5,93.06 510.57,93.51 510.64,93.95 510.71,94.39 510.78,94.83 510.86,95.26 510.93,95.69 511,96.12 511.07,96.54 511.14,96.96 511.21,97.37 511.28,97.78 511.36,98.19 511.43,98.59 511.5,98.99 511.57,99.39 511.71,100.17 511.86,100.94 512,101.7 512.14,102.44 512.29,103.18 512.43,103.9 512.57,104.6 512.72,105.3 512.86,105.99 513,106.66 513.14,107.32 513.29,107.98 513.43,108.62 513.57,109.25 513.72,109.88 513.86,110.49 514,111.1 514.15,111.69 514.29,112.28 514.43,112.86 514.58,113.43 514.72,113.99 514.86,114.55 515.01,115.09 515.15,115.63 515.29,116.16 515.43,116.69 515.58,117.2 515.72,117.71 515.86,118.21 516.01,118.71 516.15,119.2 516.29,119.68 516.44,120.16 516.58,120.63 516.72,121.09 516.87,121.55 517.01,122 517.15,122.45 517.29,122.89 517.44,123.32 517.58,123.75 517.72,124.18 517.87,124.6 518.01,125.01 518.15,125.42 518.3,125.83 518.44,126.22 518.58,126.62 518.73,127.01 518.87,127.39 519.01,127.78 519.15,128.15 519.37,128.71 519.58,129.26 519.8,129.79 520.01,130.32 520.23,130.84 520.44,131.35 520.66,131.86 520.87,132.35 521.09,132.84 521.3,133.32 521.52,133.79 521.73,134.25 521.95,134.71 522.16,135.16 522.37,135.6 522.59,136.04 522.8,136.47 523.02,136.89 523.23,137.31 523.45,137.72 523.66,138.13 523.88,138.53 524.09,138.92 524.31,139.31 524.52,139.69 524.74,140.07 524.95,140.44 525.17,140.81 525.38,141.17 525.59,141.53 525.81,141.88 526.02,142.23 526.24,142.58 526.45,142.91 526.74,143.36 527.03,143.8 527.31,144.23 527.6,144.65 527.88,145.07 528.17,145.48 528.46,145.88 528.74,146.27 529.03,146.66 529.32,147.05 529.6,147.42 529.89,147.8 530.17,148.16 530.46,148.52 530.75,148.88 531.03,149.23 531.32,149.57 531.6,149.91 531.89,150.24 532.18,150.57 532.46,150.9 532.75,151.22 533.04,151.53 533.32,151.84 533.61,152.15 533.89,152.45 534.18,152.75 534.47,153.04 534.75,153.33 535.04,153.62 535.33,153.9 535.68,154.25 536.04,154.59 536.4,154.93 536.76,155.26 537.11,155.59 537.47,155.91 537.83,156.22 538.19,156.53 538.55,156.84 538.9,157.14 539.26,157.44 539.62,157.73 539.98,158.02 540.33,158.31 540.69,158.59 541.05,158.86 541.41,159.13 541.76,159.4 542.12,159.67 542.48,159.93 542.84,160.19 543.2,160.44 543.55,160.69 543.91,160.94 544.27,161.18 544.63,161.42 544.98,161.66 545.34,161.89 545.7,162.12 546.06,162.35 546.42,162.58 546.77,162.8 547.13,163.02 547.49,163.24 547.85,163.45 548.2,163.66 548.56,163.87 548.92,164.08 549.28,164.28 549.64,164.49 549.99,164.69 550.35,164.88 550.71,165.08 551.07,165.27 551.42,165.46 551.78,165.65 552.14,165.84 552.5,166.02 552.86,166.2 553.21,166.38 553.64,166.59 554.07,166.81 554.5,167.01 554.93,167.22 555.36,167.42 555.79,167.62 556.22,167.82 556.65,168.01 557.08,168.21 557.51,168.4 557.94,168.58 558.36,168.77 558.79,168.95 559.22,169.13 559.65,169.31 560.08,169.49 560.51,169.67 560.94,169.84 561.37,170.01 561.8,170.18 562.23,170.35 562.66,170.51 563.09,170.68 563.52,170.84 563.95,171 564.37,171.15 564.8,171.31 565.23,171.47 565.66,171.62 566.09,171.77 566.52,171.92 566.95,172.07 567.38,172.22 567.81,172.36 568.24,172.5 568.67,172.65 569.1,172.79 569.53,172.93 569.96,173.06 570.38,173.2 570.81,173.34 571.24,173.47 571.67,173.6 572.1,173.73 572.53,173.86 572.96,173.99 573.39,174.12 573.82,174.25 574.25,174.37 574.68,174.5 575.11,174.62 575.54,174.74 575.97,174.86 576.39,174.98 576.82,175.1 577.25,175.22 577.68,175.33 578.11,175.45 578.54,175.56 578.97,175.68 579.4,175.79 579.83,175.9 580.26,176.01 580.69,176.12 581.12,176.23 581.55,176.34 581.98,176.44 582.41,176.55 582.83,176.65 583.26,176.76 583.69,176.86 584.12,176.96 584.55,177.06 584.98,177.17 585.41,177.26 585.84,177.36 586.27,177.46 586.7,177.56 587.13,177.66 587.56,177.75 587.99,177.85 588.42,177.94 588.84,178.03 589.27,178.13 589.7,178.22 590.13,178.31 590.56,178.4 590.99,178.49 591.42,178.58 591.85,178.67 592.28,178.76 592.71,178.85 593.14,178.93 593.57,179.02 594,179.1 594.43,179.19 594.85,179.27 595.28,179.36 595.71,179.44 596.14,179.52 596.57,179.6 597,179.69 597.43,179.77 597.86,179.85 598.29,179.93 598.72,180 599.15,180.08 599.58,180.16 600.01,180.24 600.44,180.31 600.87,180.39 601.29,180.47 601.72,180.54 602.15,180.62 602.58,180.69 603.01,180.76 603.44,180.84 603.87,180.91 604.3,180.98 604.73,181.05 605.16,181.13 605.59,181.2 606.02,181.27 606.45,181.34 606.88,181.41 607.3,181.48 607.73,181.54 608.16,181.61 608.59,181.68 609.02,181.75 609.45,181.81 609.88,181.88 610.31,181.95 610.74,182.01 611.17,182.08 611.6,182.14 612.03,182.21 612.46,182.27 612.89,182.34 613.31,182.4 613.74,182.46 614.17,182.52 614.6,182.59 615.03,182.65 615.46,182.71 615.89,182.77 616.32,182.83 616.75,182.89 617.18,182.95 617.25,182.96" fill="none" stroke="#000000" stroke-width="1.6" stroke-linejoin="round"/></g>
<polyline points="44.85,234.43 45.78,234.6 46.71,234.76 47.64,234.93 48.57,235.11 49.5,235.28 50.43,235.46 51.36,235.64 52.29,235.82 53.22,236.01 54.15,236.2 55.08,236.39 56.01,236.58 56.94,236.78 57.87,236.98 58.8,237.19 59.73,237.4 60.66,237.61 61.59,237.82 62.52,238.04 63.45,238.27 64.38,238.49 65.31,238.72 66.24,238.96 67.17,239.2 68.1,239.44 69.03,239.69 69.96,239.95 70.89,240.2 71.82,240.47 72.75,240.74 73.68,241.01 74.61,241.29 75.54,241.58 76.48,241.87 77.33,242.14 78.19,242.42 79.05,242.71 79.91,243 80.77,243.3 81.63,243.6 82.49,243.91 83.34,244.23 84.2,244.55 85.06,244.88 85.92,245.22 86.78,245.57 87.64,245.92 88.5,246.28 89.35,246.66 90.21,247.04 91.07,247.42 91.93,247.82 92.79,248.23 93.65,248.65 94.51,249.08 95.36,249.52 96.22,249.97 97.08,250.44 97.87,250.88 98.66,251.33 99.44,251.79 100.23,252.26 101.02,252.75 101.8,253.25 102.59,253.76 103.38,254.29 104.16,254.84 104.95,255.4 105.74,255.97 106.53,256.57 107.24,257.12 107.96,257.7 108.67,258.29 109.39,258.89 110.1,259.52 110.82,260.16 111.53,260.83 112.25,261.51 112.89,262.15 113.54,262.81 114.18,263.49 114.83,264.18 115.47,264.9 116.11,265.65 116.76,266.41 117.33,267.12 117.9,267.84 118.47,268.59 119.05,269.36 119.62,270.16 120.19,270.98 120.76,271.83 121.27,272.6 121.77,273.39 122.27,274.2 122.77,275.04 123.27,275.91 123.77,276.8 124.27,277.72 124.7,278.54 125.13,279.38 125.56,280.25 125.99,281.14 126.42,282.06 126.85,283 127.28,283.98 127.63,284.82 127.99,285.68 128.35,286.57 128.71,287.48 129.06,288.42 129.42,289.38 129.78,290.37 130.14,291.4 130.5,292.45 130.78,293.32 131.07,294.2 131.35,295.12 131.64,296.05 131.93,297.01 132.21,297.99 132.5,299 132.78,300.04 133.07,301.11 133.36,302.21 133.64,303.34 133.93,304.5 134.14,305.4 134.36,306.31 134.57,307.25 134.79,308.2 135,309.18 135.22,310.18 135.43,311.21 135.65,312.26 135.86,313.34 136.08,314.44 136.29,315.57 136.51,316.73 136.72,317.92 136.93,319.14 137.15,320.39 137.36,321.68 137.58,323 137.72,323.9 137.87,324.82 138.01,325.76 138.15,326.71 138.29,327.68 138.44,328.67 138.58,329.68 138.72,330.71 138.87,331.76 139.01,332.83 139.15,333.93 139.3,335.04 139.44,336.18 139.58,337.34 139.73,338.53 139.87,339.74 140.01,340.98 140.15,342.25 140.3,343.54 140.44,344.87 140.58,346.22 140.73,347.61 140.87,349.03 141.01,350.48 141.16,351.96 141.3,353.49 141.44,355.05 141.59,356.64 141.73,358.28 141.87,359.96 142.01,361.69 142.16,363.46 142.23,364.36 142.3,365.27 142.37,366.2 142.44,367.14 142.52,368.09 142.59,369.05 142.66,370.03 142.73,371.02 142.8,372.03 142.87,373.05 142.95,374.08 143.02,375.13 143.09,376.19 143.16,377.27 143.23,378.37 143.3,379.48 143.37,380.6 143.45,381.75 143.52,382.91 143.59,384.09 143.66,385.28 143.73,386.5 143.8,387.73 143.88,388.99 143.95,390.26 144.02,391.55 144.09,392.87 144.16,394.2 144.23,395.56 144.3,396.94" fill="none" stroke="none" marker-start="url(#mk)" marker-mid="url(#mk)" marker-end="url(#mk)"/>
<polyline points="159.62,19.49 159.69,21.78 159.76,24.02 159.83,26.22 159.9,28.37 159.97,30.48 160.05,32.54 160.12,34.57 160.19,36.56 160.26,38.5 160.33,40.41 160.4,42.29 160.47,44.13 160.55,45.93 160.62,47.7 160.69,49.44 160.76,51.15 160.83,52.82 160.9,54.47 160.98,56.09 161.05,57.68 161.12,59.24 161.19,60.78 161.26,62.29 161.33,63.77 161.4,65.23 161.48,66.67 161.55,68.08 161.62,69.47 161.69,70.84 161.76,72.18 161.83,73.51 161.91,74.81 161.98,76.09 162.05,77.35 162.12,78.6 162.19,79.82 162.26,81.03 162.34,82.22 162.41,83.39 162.48,84.54 162.55,85.68 162.62,86.8 162.69,87.9 162.76,88.99 162.84,90.06 162.91,91.12 162.98,92.16 163.05,93.19 163.12,94.21 163.19,95.21 163.27,96.19 163.34,97.17 163.41,98.13 163.48,99.07 163.55,100.01 163.62,100.93 163.69,101.84 163.77,102.74 163.91,104.51 164.05,106.23 164.2,107.91 164.34,109.54 164.48,111.14 164.62,112.7 164.77,114.22 164.91,115.71 165.05,117.16 165.2,118.58 165.34,119.97 165.48,121.33 165.63,122.66 165.77,123.96 165.91,125.23 166.06,126.48 166.2,127.7 166.34,128.89 166.49,130.06 166.63,131.21 166.77,132.33 166.91,133.44 167.06,134.52 167.2,135.58 167.34,136.62 167.49,137.64 167.63,138.64 167.77,139.63 167.92,140.59 168.06,141.54 168.2,142.47 168.35,143.39 168.49,144.29 168.7,145.61 168.92,146.9 169.13,148.15 169.35,149.38 169.56,150.57 169.78,151.74 169.99,152.88 170.21,153.99 170.42,155.08 170.63,156.14 170.85,157.18 171.06,158.2 171.28,159.2 171.49,160.17 171.71,161.13 171.92,162.06 172.14,162.98 172.35,163.88 172.57,164.76 172.85,165.9 173.14,167.02 173.43,168.11 173.71,169.18 174,170.22 174.28,171.23 174.57,172.22 174.86,173.19 175.14,174.14 175.43,175.07 175.71,175.97 176,176.86 176.29,177.73 176.65,178.8 177,179.83 177.36,180.85 177.72,181.83 178.08,182.8 178.43,183.74 178.79,184.67 179.15,185.57 179.51,186.46 179.86,187.33 180.22,188.18 180.58,189.01 181.01,189.99 181.44,190.95 181.87,191.89 182.3,192.81 182.73,193.71 183.16,194.59 183.59,195.46 184.01,196.32 184.44,197.15 184.87,197.98 185.3,198.79 185.73,199.59 186.23,200.51 186.73,201.41 187.23,202.3 187.74,203.18 188.24,204.04 188.74,204.89 189.24,205.74 189.74,206.57 190.24,207.39 190.74,208.21 191.24,209.02 191.74,209.82 192.24,210.62 192.74,211.41 193.24,212.2 193.75,212.98 194.25,213.76 194.75,214.54 195.25,215.32 195.75,216.09 196.25,216.86 196.75,217.64 197.25,218.41 197.75,219.18 198.25,219.96 198.75,220.74 199.25,221.52 199.76,222.31 200.26,223.1 200.76,223.89 201.26,224.69 201.76,225.5 202.26,226.31 202.76,227.13 203.26,227.96 203.64,228.87 204.01,229.79 204.37,230.73 204.74,231.68 205.1,232.63 205.46,233.6 205.81,234.59 206.11,235.44 206.41,236.31 206.7,237.19 206.99,238.08 207.31,238.97 207.73,239.82 208.15,240.69 208.58,241.57 209,242.47 209.42,243.39 209.85,244.33 210.27,245.28 210.69,246.27 211.05,247.1 211.4,247.95 211.75,248.82 212.1,249.71 212.46,250.62 212.81,251.55 213.16,252.5 213.52,253.48 213.87,254.47 214.22,255.5 214.58,256.55 214.86,257.41 215.14,258.28 215.42,259.18 215.71,260.1 215.99,261.04 216.27,262 216.56,262.98 216.84,263.99 217.12,265.02 217.41,266.08 217.69,267.16 217.97,268.28 218.26,269.42 218.47,270.3 218.68,271.2 218.89,272.11 219.11,273.05 219.32,274 219.53,274.98 219.75,275.98 219.96,277 220.17,278.05 220.38,279.12 220.6,280.21 220.81,281.33 221.02,282.48 221.24,283.66 221.45,284.87 221.66,286.11 221.88,287.38 222.09,288.69 222.23,289.58 222.41,290.48 222.72,291.37 223.03,292.29 223.34,293.22 223.66,294.18 223.98,295.15 224.31,296.14 224.64,297.15 224.97,298.18 225.3,299.24 225.59,300.32 225.73,301.45 225.87,302.6 226.01,303.77 226.16,304.97 226.3,306.19 226.44,307.44 226.59,308.72 226.73,310.03 226.87,311.37 227.02,312.73 227.16,314.13 227.3,315.57 227.45,317.03 227.59,318.54 227.73,320.07 227.87,321.65 228.02,323.27 228.16,324.93 228.3,326.63 228.45,328.38 228.59,330.17 228.66,331.09 228.73,332.02 228.81,332.96 228.88,333.91 228.95,334.88 229.02,335.86 229.09,336.85 229.16,337.86 229.23,338.88 229.31,339.92 229.38,340.97 229.45,342.04 229.52,343.12 229.59,344.23 229.66,345.34 229.74,346.48 229.81,347.63 229.88,348.79 229.95,349.98 230.02,351.19 230.09,352.41 230.16,353.66 230.24,354.92 230.31,356.2 230.38,357.51 230.45,358.84 230.52,360.19 230.59,361.56 230.67,362.95 230.74,364.37 230.81,365.82 230.88,367.28 230.95,368.78 231.02,370.3 231.09,371.85 231.17,373.42 231.24,375.03 231.31,376.66 231.38,378.33 231.45,380.02 231.52,381.75 231.6,383.51 231.67,385.31 231.74,387.14 231.81,389.01 231.88,390.91 231.95,392.85 232.02,394.83 232.1,396.86" fill="none" stroke="none" marker-start="url(#mk)" marker-mid="url(#mk)" marker-end="url(#mk)"/>
<polyline points="246.05,18.17 246.12,20.07 246.19,21.93 246.26,23.76 246.33,25.55 246.41,27.31 246.48,29.03 246.55,30.72 246.62,32.39 246.69,34.02 246.76,35.62 246.84,37.19 246.91,38.73 246.98,40.25 247.05,41.74 247.12,43.21 247.19,44.65 247.26,46.06 247.34,47.45 247.41,48.82 247.48,50.16 247.55,51.49 247.62,52.79 247.69,54.07 247.77,55.33 247.84,56.57 247.91,57.79 247.98,58.99 248.05,60.17 248.12,61.33 248.2,62.48 248.27,63.61 248.34,64.72 248.41,65.82 248.48,66.9 248.55,67.96 248.62,69.01 248.7,70.04 248.77,71.06 248.84,72.06 248.91,73.05 248.98,74.02 249.05,74.99 249.13,75.93 249.2,76.87 249.27,77.79 249.34,78.7 249.41,79.6 249.55,81.36 249.7,83.07 249.84,84.74 249.98,86.37 250.13,87.95 250.27,89.5 250.41,91.01 250.56,92.48 250.7,93.92 250.84,95.32 250.99,96.69 251.13,98.03 251.27,99.34 251.41,100.62 251.56,101.87 251.7,103.09 251.84,104.29 251.99,105.46 252.13,106.61 252.27,107.73 252.42,108.83 252.56,109.91 252.7,110.96 252.85,112 252.99,113.01 253.13,114 253.28,114.98 253.42,115.93 253.56,116.87 253.7,117.79 253.85,118.69 254.06,120.02 254.28,121.3 254.49,122.56 254.71,123.78 254.92,124.97 255.14,126.13 255.35,127.25 255.56,128.36 255.78,129.43 255.99,130.48 256.21,131.5 256.42,132.5 256.64,133.48 256.85,134.43 257.07,135.36 257.28,136.28 257.5,137.17 257.78,138.33 258.07,139.45 258.36,140.55 258.64,141.61 258.93,142.65 259.21,143.65 259.5,144.63 259.79,145.59 260.07,146.52 260.36,147.43 260.64,148.32 260.93,149.18 261.29,150.23 261.65,151.25 262,152.24 262.36,153.21 262.72,154.14 263.08,155.06 263.44,155.94 263.79,156.81 264.15,157.65 264.58,158.63 265.01,159.58 265.44,160.5 265.87,161.4 266.3,162.27 266.73,163.12 267.16,163.94 267.59,164.74 268.09,165.65 268.59,166.53 269.09,167.39 269.59,168.22 270.09,169.03 270.59,169.81 271.09,170.58 271.66,171.43 272.24,172.25 272.81,173.05 273.38,173.83 273.95,174.59 274.53,175.32 275.1,176.04 275.67,176.74 276.31,177.5 276.96,178.24 277.6,178.96 278.25,179.67 278.89,180.35 279.53,181.02 280.18,181.67 280.82,182.31 281.54,183 282.25,183.67 282.97,184.33 283.68,184.97 284.4,185.6 285.11,186.21 285.83,186.8 286.55,187.39 287.26,187.96 287.98,188.52 288.69,189.07 289.48,189.67 290.27,190.25 291.05,190.82 291.84,191.38 292.63,191.93 293.41,192.46 294.2,192.99 294.99,193.52 295.78,194.03 296.56,194.53 297.35,195.03 298.14,195.52 298.92,196 299.71,196.48 300.5,196.95 301.29,197.42 302.07,197.88 302.86,198.33 303.65,198.78 304.43,199.23 305.22,199.67 306.01,200.11 306.87,200.58 307.72,201.05 308.58,201.52 309.44,201.98 310.3,202.44 311.16,202.9 312.02,203.35 312.88,203.8 313.73,204.25 314.59,204.7 315.45,205.15 316.31,205.6 317.17,206.04 318.03,206.49 318.89,206.93 319.75,207.37 320.6,207.82 321.46,208.26 322.32,208.71 323.18,209.16 324.04,209.6 324.9,210.05 325.76,210.51 326.61,210.96 327.47,211.42 328.33,211.87 329.19,212.34 330.05,212.8 330.91,213.27 331.77,213.74 332.55,214.18 333.34,214.62 334.13,215.06 334.91,215.51 335.7,215.96 336.49,216.42 337.27,216.89 338.06,217.36 338.85,217.83 339.64,218.31 340.42,218.8 341.21,219.3 342,219.8 342.78,220.31 343.57,220.83 344.36,221.35 345.15,221.89 345.93,222.44 346.72,222.99 347.51,223.56 348.29,224.14 349.08,224.73 349.8,225.27 350.51,225.83 351.23,226.4 351.94,226.98 352.66,227.58 353.37,228.18 354.09,228.81 354.8,229.44 355.52,230.09 356.24,230.76 356.95,231.45 357.6,232.08 358.24,232.73 358.88,233.39 359.53,234.07 360.17,234.77 360.81,235.49 361.46,236.23 362.1,236.99 362.75,237.77 363.32,238.48 363.89,239.22 364.46,239.97 365.04,240.75 365.61,241.55 366.18,242.37 366.75,243.21 367.25,243.98 367.76,244.76 368.26,245.56 368.76,246.39 369.26,247.25 369.76,248.13 370.26,249.03 370.69,249.83 371.12,250.65 371.55,251.5 371.98,252.37 372.41,253.26 372.84,254.18 373.26,255.13 373.69,256.11 374.05,256.95 374.41,257.81 374.77,258.69 375.12,259.6 375.48,260.53 375.84,261.5 376.2,262.48 376.56,263.5 376.91,264.55 377.2,265.41 377.49,266.29 377.77,267.2 378.06,268.13 378.34,269.08 378.63,270.06 378.92,271.06 379.2,272.09 379.49,273.15 379.78,274.24 380.06,275.37 380.35,276.52 380.56,277.41 380.78,278.31 380.99,279.24 381.21,280.19 381.42,281.16 381.64,282.16 381.85,283.18 382.07,284.22 382.28,285.29 382.49,286.38 382.71,287.51 382.92,288.66 383.14,289.84 383.35,291.05 383.57,292.3 383.78,293.58 384,294.89 384.14,295.79 384.28,296.7 384.43,297.63 384.57,298.58 384.71,299.55 384.86,300.53 385,301.54 385.14,302.57 385.28,303.61 385.43,304.68 385.57,305.77 385.71,306.88 385.86,308.02 386,309.18 386.14,310.37 386.29,311.58 386.43,312.82 386.57,314.08 386.72,315.38 386.86,316.7 387,318.06 387.15,319.45 387.29,320.87 387.43,322.32 387.57,323.81 387.72,325.34 387.86,326.91 388,328.51 388.15,330.16 388.29,331.85 388.43,333.58 388.58,335.37 388.65,336.27 388.72,337.2 388.79,338.13 388.86,339.08 388.93,340.04 389.01,341.01 389.08,342 389.15,343 389.22,344.02 389.29,345.05 389.36,346.09 389.43,347.15 389.51,348.23 389.58,349.32 389.65,350.43 389.72,351.56 389.79,352.7 389.86,353.86 389.94,355.04 390.01,356.24 390.08,357.45 390.15,358.69 390.22,359.95 390.29,361.22 390.36,362.52 390.44,363.84 390.51,365.18 390.58,366.54 390.65,367.92 390.72,369.33 390.79,370.76 390.87,372.22 390.94,373.7 391.01,375.21 391.08,376.75 391.15,378.31 391.22,379.91 391.3,381.53 391.37,383.18 391.44,384.86 391.51,386.57 391.58,388.32 391.65,390.1 391.72,391.91 391.8,393.76 391.87,395.65" fill="none" stroke="none" marker-start="url(#mk)" marker-mid="url(#mk)" marker-end="url(#mk)"/>
<polyline points="406.18,19.05 406.25,20.96 406.32,22.83 406.39,24.66 406.46,26.46 406.54,28.23 406.61,29.96 406.68,31.66 406.75,33.33 406.82,34.97 406.89,36.57 406.96,38.16 407.04,39.71 407.11,41.23 407.18,42.73 407.25,44.2 407.32,45.65 407.39,47.08 407.47,48.48 407.54,49.85 407.61,51.21 407.68,52.54 407.75,53.85 407.82,55.14 407.89,56.4 407.97,57.65 408.04,58.88 408.11,60.09 408.18,61.28 408.25,62.46 408.32,63.61 408.4,64.75 408.47,65.87 408.54,66.97 408.61,68.06 408.68,69.13 408.75,70.19 408.82,71.23 408.9,72.26 408.97,73.27 409.04,74.27 409.11,75.25 409.18,76.22 409.25,77.18 409.33,78.12 409.4,79.05 409.47,79.97 409.54,80.88 409.68,82.66 409.83,84.39 409.97,86.07 410.11,87.72 410.26,89.32 410.4,90.89 410.54,92.41 410.69,93.9 410.83,95.36 410.97,96.78 411.11,98.16 411.26,99.52 411.4,100.85 411.54,102.14 411.76,103.4 412.12,104.62 412.47,105.8 412.82,106.97 413.17,108.1 413.51,109.22 413.84,110.3 414.17,111.37 414.5,112.41 414.71,113.45 414.85,114.48 414.99,115.48 415.14,116.47 415.28,117.44 415.42,118.39 415.56,119.32 415.71,120.23 415.85,121.13 416.06,122.45 416.27,123.73 416.49,124.98 416.7,126.2 416.91,127.38 417.13,128.54 417.34,129.67 417.55,130.77 417.77,131.84 417.98,132.89 418.19,133.92 418.41,134.92 418.62,135.9 418.83,136.85 419.04,137.79 419.26,138.71 419.47,139.6 419.68,140.48 419.97,141.62 420.25,142.73 420.53,143.81 420.82,144.87 421.1,145.89 421.38,146.89 421.67,147.87 421.95,148.82 422.23,149.75 422.51,150.66 422.8,151.54 423.08,152.41 423.43,153.47 423.79,154.49 424.14,155.49 424.49,156.46 424.84,157.41 425.2,158.34 425.55,159.24 425.9,160.12 426.25,160.98 426.61,161.82 427.03,162.81 427.45,163.76 427.87,164.7 428.3,165.61 428.72,166.5 429.14,167.36 429.56,168.21 429.99,169.04 430.41,169.85 430.9,170.78 431.39,171.68 431.89,172.57 432.38,173.43 432.87,174.27 433.36,175.1 433.86,175.91 434.35,176.71 434.84,177.49 435.34,178.26 435.83,179.02 436.39,179.87 436.96,180.7 437.52,181.52 438.09,182.33 438.65,183.13 439.22,183.91 439.79,184.69 440.35,185.46 440.92,186.21 441.49,186.96 442.05,187.71 442.62,188.44 443.19,189.18 443.76,189.9 444.33,190.62 444.9,191.34 445.47,192.06 446.04,192.77 446.61,193.48 447.18,194.19 447.75,194.9 448.32,195.61 448.89,196.32 449.47,197.03 450.04,197.74 450.62,198.45 451.19,199.17 451.76,199.89 452.34,200.61 452.91,201.34 453.49,202.07 454.07,202.81 454.64,203.56 455.22,204.31 455.8,205.07 456.38,205.84 456.95,206.62 457.53,207.41 458.11,208.21 458.69,209.02 459.27,209.84 459.85,210.68 460.36,211.42 460.87,212.18 461.37,212.95 461.78,213.79 462.18,214.66 462.56,215.54 462.95,216.44 463.33,217.35 463.71,218.28 464.08,219.23 464.45,220.19 464.82,221.17 465.13,222.03 465.43,222.91 465.74,223.8 466.14,224.66 466.57,225.52 467,226.4 467.42,227.3 467.85,228.22 468.28,229.17 468.71,230.14 469.07,230.97 469.43,231.82 469.79,232.68 470.14,233.57 470.5,234.48 470.86,235.41 471.22,236.36 471.57,237.34 471.93,238.35 472.29,239.38 472.65,240.44 472.93,241.31 473.22,242.2 473.51,243.1 473.79,244.04 474.08,244.99 474.36,245.96 474.65,246.96 474.94,247.99 475.22,249.04 475.51,250.12 475.8,251.23 476.08,252.36 476.37,253.53 476.58,254.43 476.8,255.35 477.01,256.29 477.23,257.24 477.44,258.22 477.66,259.22 477.87,260.25 478.09,261.3 478.3,262.37 478.51,263.47 478.73,264.59 478.94,265.74 479.16,266.92 479.37,268.13 479.59,269.38 479.8,270.65 480.02,271.96 480.16,272.85 480.3,273.76 480.45,274.68 480.59,275.62 480.73,276.58 480.88,277.56 481.02,278.56 481.16,279.57 481.31,280.61 481.45,281.66 481.59,282.74 481.73,283.84 481.88,284.96 482.02,286.1 482.16,287.27 482.31,288.46 482.45,289.68 482.59,290.92 482.74,292.19 482.88,293.49 483.02,294.82 483.17,296.18 483.31,297.57 483.45,298.99 483.59,300.45 483.74,301.94 483.88,303.46 484.02,305.03 484.17,306.63 484.31,308.27 484.45,309.96 484.6,311.69 484.74,313.46 484.81,314.37 484.88,315.29 484.95,316.21 485.03,317.16 485.1,318.11 485.17,319.08 485.24,320.06 485.31,321.05 485.38,322.06 485.45,323.09 485.53,324.12 485.6,325.18 485.67,326.24 485.74,327.33 485.81,328.43 485.88,329.54 485.96,330.67 486.03,331.82 486.1,332.99 486.17,334.17 486.24,335.38 486.31,336.6 486.39,337.84 486.46,339.1 486.53,340.38 486.6,341.68 486.67,343 486.74,344.34 486.81,345.71 486.89,347.1 486.96,348.51 487.03,349.94 487.1,351.4 487.17,352.88 487.24,354.39 487.32,355.93 487.39,357.49 487.46,359.08 487.53,360.7 487.6,362.35 487.67,364.03 487.74,365.74 487.82,367.49 487.89,369.26 487.96,371.07 488.03,372.91 488.1,374.79 488.17,376.71 488.25,378.66 488.32,380.66 488.39,382.69 488.46,384.77 488.53,386.89 488.6,389.05 488.67,391.26 488.75,393.51 488.82,395.81" fill="none" stroke="none" marker-start="url(#mk)" marker-mid="url(#mk)" marker-end="url(#mk)"/>
<polyline points="503.84,18.56 503.91,19.98 503.99,21.37 504.06,22.73 504.13,24.08 504.2,25.4 504.27,26.7 504.34,27.99 504.42,29.25 504.49,30.49 504.56,31.71 504.63,32.91 504.7,34.1 504.77,35.27 504.84,36.41 504.92,37.55 504.99,38.66 505.06,39.76 505.13,40.84 505.2,41.91 505.27,42.96 505.35,44 505.42,45.02 505.49,46.03 505.56,47.03 505.63,48.01 505.7,48.97 505.78,49.93 505.85,50.87 505.92,51.79 505.99,52.71 506.06,53.61 506.2,55.38 506.35,57.11 506.49,58.79 506.63,60.43 506.78,62.03 506.92,63.58 507.06,65.11 507.21,66.59 507.35,68.04 507.49,69.45 507.64,70.84 507.78,72.19 507.92,73.51 508.06,74.8 508.21,76.06 508.35,77.3 508.49,78.51 508.64,79.69 508.78,80.85 508.92,81.98 509.07,83.09 509.21,84.18 509.35,85.24 509.5,86.29 509.64,87.31 509.78,88.32 509.93,89.3 510.07,90.27 510.21,91.21 510.35,92.14 510.5,93.06 510.64,93.95 510.86,95.26 511.07,96.54 511.28,97.78 511.5,98.99 511.71,100.17 511.93,101.32 512.14,102.44 512.36,103.54 512.57,104.6 512.79,105.64 513,106.66 513.22,107.65 513.43,108.62 513.65,109.57 513.86,110.49 514.07,111.4 514.29,112.28 514.58,113.43 514.86,114.55 515.15,115.63 515.43,116.69 515.72,117.71 516.01,118.71 516.29,119.68 516.58,120.63 516.87,121.55 517.15,122.45 517.44,123.32 517.72,124.18 518.08,125.22 518.44,126.22 518.8,127.2 519.15,128.15 519.51,129.07 519.87,129.97 520.23,130.84 520.59,131.69 521.02,132.68 521.44,133.63 521.87,134.56 522.3,135.46 522.73,136.33 523.16,137.17 523.59,137.99 524.02,138.79 524.52,139.69 525.02,140.57 525.52,141.41 526.02,142.23 526.52,143.03 527.03,143.8 527.53,144.55 528.1,145.37 528.67,146.18 529.24,146.95 529.82,147.7 530.39,148.43 530.96,149.14 531.6,149.91 532.25,150.65 532.89,151.37 533.54,152.07 534.18,152.75 534.82,153.41 535.47,154.04 536.18,154.73 536.9,155.39 537.61,156.03 538.33,156.66 539.05,157.26 539.76,157.85 540.48,158.42 541.19,158.97 541.98,159.56 542.77,160.13 543.55,160.69 544.34,161.23 545.13,161.75 545.91,162.26 546.7,162.76 547.49,163.24 548.28,163.71 549.06,164.16 549.85,164.61 550.71,165.08 551.57,165.54 552.43,165.98 553.28,166.42 554.14,166.84 555,167.25 555.86,167.65 556.72,168.05 557.58,168.43 558.44,168.8 559.29,169.16 560.15,169.52 561.01,169.87 561.87,170.21 562.73,170.54 563.59,170.86 564.45,171.18 565.3,171.49 566.16,171.8 567.02,172.09 567.88,172.38 568.74,172.67 569.6,172.95 570.46,173.22 571.39,173.52 572.32,173.8 573.25,174.08 574.18,174.35 575.11,174.62 576.04,174.88 576.97,175.14 577.9,175.39 578.83,175.64 579.76,175.88 580.69,176.12 581.62,176.35 582.55,176.58 583.48,176.81 584.41,177.03 585.34,177.25 586.27,177.46 587.2,177.67 588.13,177.88 589.06,178.08 589.99,178.28 590.92,178.48 591.85,178.67 592.78,178.86 593.71,179.05 594.64,179.23 595.57,179.41 596.5,179.59 597.43,179.77 598.36,179.94 599.29,180.11 600.22,180.28 601.15,180.44 602.08,180.6 603.01,180.76 603.94,180.92 604.87,181.08 605.8,181.23 606.73,181.38 607.66,181.53 608.59,181.68 609.52,181.83 610.45,181.97 611.38,182.11 612.31,182.25 613.24,182.39 614.17,182.52 615.1,182.66 616.03,182.79 616.96,182.92" fill="none" stroke="none" marker-start="url(#mk)" marker-mid="url(#mk)" marker-end="url(#mk)"/>
<g clip-path="url(#box)"><path d="M44.9,222.6 45.7,222.61 46.5,222.63 47.3,222.64 48.1,222.66 48.9,222.67 49.7,222.69 50.5,222.71 51.3,222.73 52.1,222.74 52.9,222.76 53.7,222.78 54.5,222.8 55.3,222.82 56.1,222.84 56.9,222.87 57.7,222.89 58.5,222.91 59.3,222.94 60.1,222.96 60.9,222.98 61.3,223M66.3,223.16 67.1,223.19 67.9,223.22 68.7,223.25 69.5,223.28 70.3,223.31 71.1,223.34 71.89,223.37 72.69,223.4 73.49,223.43 74.29,223.46 75.09,223.49 75.89,223.52 76.69,223.56 77.49,223.59 78.29,223.62 79.09,223.66 79.89,223.69 80.69,223.72 81.49,223.76 82.28,223.79 83.08,223.83 83.48,223.84M88.48,224.07 89.27,224.1 90.07,224.14 90.87,224.18 91.67,224.21 92.47,224.25 93.27,224.29 94.07,224.33 94.87,224.37 95.67,224.41 96.47,224.45 97.27,224.49 98.07,224.53 98.87,224.57 99.67,224.62 100.47,224.66 101.27,224.7 102.07,224.75 102.87,224.79 103.67,224.84 104.47,224.88 105.27,224.93 105.67,224.95M110.87,225.27 111.67,225.33 112.47,225.38 113.26,225.43 114.06,225.49 114.86,225.54 115.66,225.6 116.46,225.66 117.26,225.71 118.06,225.77 118.86,225.83 119.66,225.89 120.45,225.95 121.25,226.01 122.05,226.08 122.85,226.14 123.64,226.21 124.44,226.27 125.24,226.34 126.04,226.41 126.83,226.47 127.63,226.54 128.03,226.58M133,227.04 133.79,227.12 134.59,227.2 135.38,227.28 136.17,227.36 136.97,227.44 137.76,227.52 138.55,227.61 139.34,227.69 140.14,227.78 140.93,227.88 141.72,227.98 142.52,228.08 143.31,228.19 144.11,228.3 144.9,228.41 145.7,228.53 146.49,228.65 147.28,228.77 148.08,228.9 148.87,229.03 149.66,229.17 150.26,229.27M154.4,230.05 155.19,230.21 155.98,230.37 156.76,230.54 157.54,230.7 158.32,230.88 159.1,231.05 159.88,231.23 160.65,231.41 161.43,231.59 162.2,231.78 162.97,231.97 163.73,232.16 164.51,232.36 165.28,232.57 166.06,232.79 166.84,233.02 167.61,233.26 168.39,233.51 169.16,233.76 169.93,234.02 170.7,234.3 171.27,234.5M174.81,235.95 175.53,236.27 176.25,236.61 176.94,236.96 177.63,237.31 178.31,237.68 178.98,238.07 179.64,238.5 180.3,238.94 180.96,239.41 181.6,239.89 182.24,240.39 182.87,240.91 183.5,241.44 184.11,241.99 184.72,242.54 185.31,243.1 185.89,243.66 186.46,244.23 187.02,244.8 187.57,245.36 188.11,245.93 188.51,246.37M191.92,250.34L193.15,251.96M196.06,256.33 196.46,257.02 196.84,257.72 197.21,258.41 197.55,259.11 197.89,259.82 198.21,260.54 198.52,261.26 198.82,262 199.11,262.75 199.39,263.5 199.67,264.26 199.93,265.03 200.19,265.79 200.44,266.56 200.69,267.33 200.93,268.1 201.16,268.87 201.39,269.64 201.45,269.83M203.03,275.40L203.55,277.34M204.96,283.19 205.13,283.97 205.3,284.75 205.47,285.54 205.62,286.32 205.78,287.11 205.93,287.89 206.07,288.68 206.21,289.46 206.34,290.25 206.47,291.04 206.6,291.82 206.72,292.61 206.84,293.4 206.96,294.19 207.07,294.99 207.18,295.78 207.29,296.57 207.39,297.37 207.49,298.16 207.6,298.96 207.62,299.15M208.33,305.32L208.54,307.31M209.19,313.68 209.26,314.47 209.34,315.27 209.42,316.07 209.49,316.86 209.56,317.66 209.64,318.46 209.71,319.25 209.78,320.05 209.85,320.85 209.92,321.65 209.99,322.44 210.05,323.24 210.12,324.04 210.18,324.84 210.24,325.63 210.3,326.43 210.36,327.23 210.42,328.03 210.45,328.43M210.83,334.61L210.94,336.61M211.28,343.2 211.32,343.99 211.36,344.79 211.39,345.59 211.43,346.39 211.47,347.19 211.51,347.99 211.54,348.79 211.58,349.59 211.61,350.39 211.65,351.19 211.68,351.98 211.72,352.78 211.75,353.58 211.79,354.38 211.82,355.18 211.85,355.98 211.89,356.78 211.92,357.58 211.95,358.38 211.97,358.78M212.18,364.38L212.25,366.38M212.48,372.77 212.5,373.57 212.53,374.37 212.56,375.17 212.58,375.97 212.61,376.77 212.63,377.57 212.66,378.37 212.68,379.17 212.71,379.97 212.73,380.77 212.76,381.57 212.78,382.37 212.81,383.17 212.83,383.97 212.85,384.77 212.88,385.57 212.9,386.37 212.92,387.17 212.95,387.97 212.97,388.77 212.99,389.57 213.02,390.37 213.04,391.17 213.06,391.97 213.08,392.77 213.11,393.57 213.13,394.37 213.15,395.17 213.17,395.97 213.19,396.77 213.22,397.57 213.24,398.37 213.24,398.57M222.25,16 222.27,16.8 222.29,17.6 222.31,18.4 222.33,19.2 222.35,20 222.37,20.8 222.39,21.6 222.41,22.4 222.43,23.2 222.45,24 222.47,24.8 222.49,25.6 222.51,26.4 222.53,27.2 222.55,28 222.57,28.8 222.59,29.6 222.61,30.4 222.63,31.2 222.65,32 222.67,32.8 222.69,33.6 222.69,34M222.85,40.40L222.90,42.40M223.05,48.6 223.07,49.4 223.09,50.2 223.11,51 223.13,51.8 223.15,52.6 223.17,53.4 223.19,54.2 223.22,55 223.24,55.8 223.26,56.6 223.28,57.4 223.3,58.2 223.32,59 223.34,59.8 223.37,60.6 223.39,61.4 223.41,62.2 223.43,63 223.46,63.8 223.46,64M223.63,69.80L223.69,71.80M223.87,77.4 223.9,78.2 223.93,79 223.96,79.8 223.98,80.6 224.01,81.4 224.04,82.2 224.07,83 224.1,83.8 224.13,84.6 224.16,85.39 224.19,86.19 224.22,86.99 224.25,87.79 224.28,88.59 224.31,89.39 224.34,90.19 224.37,90.99 224.4,91.79 224.44,92.59 224.47,93.38 224.48,93.58M224.73,99.37L224.82,101.37M225.08,106.55 225.12,107.35 225.16,108.15 225.21,108.95 225.25,109.74 225.3,110.54 225.35,111.34 225.4,112.14 225.46,112.93 225.51,113.73 225.57,114.53 225.63,115.33 225.69,116.13 225.76,116.92 225.82,117.72 225.89,118.52 225.95,119.32 226.02,120.11 226.1,120.91 226.17,121.71 226.24,122.5 226.32,123.3 226.34,123.5M226.90,129.08L227.11,131.07M227.73,136.44 227.82,137.24 227.91,138.03 228.01,138.83 228.1,139.62 228.2,140.42 228.3,141.21 228.4,142 228.49,142.8 228.59,143.59 228.69,144.39 228.79,145.18 228.89,145.97 228.99,146.77 229.09,147.56 229.19,148.35 229.29,149.15 229.39,149.94 229.49,150.73 229.6,151.53 229.7,152.32 229.8,153.12M230.50,158.30L230.80,160.29M231.79,166.23 231.94,167.01 232.09,167.79 232.24,168.57 232.41,169.35 232.57,170.12 232.74,170.89 232.92,171.66 233.1,172.43 233.3,173.19 233.51,173.96 233.73,174.72 233.96,175.48 234.2,176.25 234.46,177.01 234.72,177.77 234.99,178.53 235.28,179.29 235.57,180.04 235.87,180.79 236.18,181.54M238.78,187.24L239.67,189.02M241.25,191.98 241.65,192.68 242.05,193.38 242.47,194.08 242.89,194.77 243.33,195.46 243.77,196.15 244.23,196.83 244.69,197.51 245.17,198.17 245.65,198.83 246.14,199.48 246.64,200.11 247.15,200.73 247.66,201.34 248.18,201.93 248.72,202.5M251.84,205.48 252.46,206.01 253.1,206.54 253.74,207.06 254.41,207.57 255.08,208.06 255.76,208.53 256.45,208.98 257.14,209.41 257.85,209.82 258.56,210.19 259.27,210.53 259.99,210.84 260.7,211.1 261.43,211.34 262.16,211.57 262.91,211.79 263.68,212.02 264.45,212.23 265.24,212.44 266.03,212.64 266.83,212.82 267.63,212.98 268.44,213.13 269.24,213.25 270.05,213.36 270.85,213.43 271.65,213.48 272.44,213.5 273.04,213.5M278.01,213.32 278.81,213.27 279.61,213.21 280.41,213.15 281.21,213.08 282.02,213.01 282.82,212.93 283.62,212.85 284.42,212.76 285.22,212.68 286.02,212.58 286.82,212.49 287.62,212.39 288.42,212.29 289.21,212.19 290.01,212.08 290.8,211.98 291.59,211.87 292.38,211.76 293.17,211.66 293.96,211.55 294.74,211.44 295.33,211.34M300.18,210.3 300.95,210.09 301.72,209.87 302.49,209.65 303.26,209.43 304.03,209.19 304.8,208.95 305.56,208.71 306.33,208.47 307.1,208.22 307.87,207.98 308.63,207.73 309.4,207.48 310.17,207.24 310.94,206.99 311.7,206.75 312.47,206.52 313.24,206.29 314.01,206.07 314.79,205.85 315.56,205.64 316.33,205.44 317.11,205.25 317.89,205.05 318.66,204.86 318.86,204.81M322.55,203.87 323.32,203.67 324.1,203.48 324.88,203.29 325.66,203.1 326.44,202.91 327.22,202.72 328,202.54 328.78,202.36 329.56,202.18 330.34,202.01 331.12,201.85 331.9,201.68 332.69,201.53 333.47,201.38 334.26,201.23 335.04,201.09 335.83,200.96 336.62,200.83 337.4,200.7 338.19,200.57 338.59,200.51M343.35,199.72 344.14,199.59 344.94,199.47 345.73,199.35 346.53,199.24 347.32,199.13 348.12,199.03 348.92,198.93 349.71,198.84 350.51,198.76 351.31,198.69 352.1,198.63 352.9,198.58 353.69,198.55 354.49,198.52 355.28,198.5 356.07,198.5 356.87,198.51 357.67,198.54 358.47,198.58 359.27,198.64 360.07,198.7 360.68,198.76M365.49,199.44 366.29,199.58 367.09,199.72 367.88,199.88 368.66,200.04 369.45,200.2 370.22,200.37 371,200.54 371.76,200.71 372.52,200.89 373.28,201.07 374.04,201.27 374.8,201.5 375.57,201.75 376.33,202.02 377.1,202.32 377.86,202.64 378.62,202.98 379.37,203.33 380.11,203.7 380.84,204.09 381.56,204.49M384.89,206.62 385.49,207.07 386.07,207.53 386.66,208.03 387.23,208.55 387.8,209.09 388.36,209.66 388.91,210.25 389.46,210.86 389.99,211.49 390.51,212.14 391.02,212.79 391.52,213.46 392.01,214.14 392.48,214.82 392.94,215.51 393.38,216.21 393.81,216.9 394.22,217.6 394.61,218.29 394.98,218.98 395.34,219.67 395.69,220.36 396.03,221.06 396.36,221.78 396.61,222.31M398.57,227.15L399.24,229.07M401.12,235.47 401.31,236.25 401.5,237.02 401.68,237.79 401.85,238.56 402.02,239.34 402.19,240.11 402.35,240.89 402.51,241.67 402.66,242.46 402.81,243.24 402.96,244.03 403.11,244.81 403.25,245.6 403.39,246.39 403.52,247.18 403.66,247.97 403.79,248.77 403.92,249.56 404.04,250.35 404.17,251.15 404.23,251.54M404.84,255.72 404.95,256.51 405.07,257.31 405.18,258.1 405.29,258.9 405.39,259.69 405.5,260.48 405.61,261.27 405.72,262.07 405.82,262.86 405.93,263.65 406.04,264.44 406.14,265.24 406.25,266.03 406.35,266.82 406.45,267.62 406.56,268.41 406.66,269.2 406.76,270 406.86,270.79 406.96,271.59 407.03,272.18M407.74,278.35L407.95,280.34M408.56,287.11 408.62,287.91 408.68,288.7 408.73,289.5 408.79,290.3 408.84,291.1 408.9,291.89 408.95,292.69 409,293.49 409.05,294.29 409.1,295.08 409.15,295.88 409.2,296.68 409.24,297.48 409.29,298.28 409.33,299.07 409.38,299.87 409.42,300.67 409.47,301.47 409.51,302.27 409.53,302.67M409.81,308.06L409.90,310.06M410.16,315.86 410.2,316.66 410.23,317.46 410.27,318.25 410.3,319.05 410.33,319.85 410.37,320.65 410.4,321.45 410.43,322.25 410.46,323.05 410.49,323.85 410.53,324.65 410.56,325.45 410.59,326.25 410.62,327.05 410.65,327.85 410.68,328.65 410.71,329.45 410.74,330.25 410.77,331.05 410.79,331.45M411.02,337.45L411.09,339.45M411.34,346.04 411.37,346.84 411.4,347.64 411.43,348.44 411.46,349.24 411.49,350.04 411.52,350.84 411.55,351.64 411.57,352.44 411.6,353.24 411.63,354.04 411.66,354.84 411.69,355.64 411.72,356.43 411.74,357.23 411.77,358.03 411.8,358.83 411.83,359.63 411.85,360.43 411.88,361.23M412.06,366.83L412.13,368.83M412.32,375.43 412.34,376.23 412.37,377.03 412.39,377.83 412.41,378.62 412.43,379.42 412.45,380.22 412.47,381.02 412.49,381.82 412.51,382.62 412.53,383.42 412.55,384.22 412.57,385.02 412.59,385.82 412.61,386.62 412.62,387.42 412.64,388.22 412.66,389.02 412.68,389.82 412.69,390.62 412.7,391.22M421.76,16 421.78,16.8 421.79,17.6 421.81,18.4 421.83,19.2 421.85,20 421.86,20.8 421.88,21.6 421.91,22.4 421.93,23.2 421.95,23.99 421.97,24.79 422,25.59 422.02,26.39 422.05,27.19 422.08,27.99 422.11,28.79 422.13,29.59 422.16,30.39 422.19,31.19 422.22,31.99 422.25,32.79 422.26,32.99M422.52,38.98L422.61,40.98M422.94,47.57 422.99,48.37 423.03,49.17 423.07,49.97 423.12,50.77 423.16,51.57 423.21,52.37 423.25,53.17 423.3,53.97 423.35,54.76 423.39,55.56 423.44,56.36 423.49,57.16 423.53,57.96 423.58,58.76 423.63,59.56 423.68,60.36 423.73,61.15 423.78,61.95 423.83,62.75 423.84,62.95M424.22,68.94L424.35,70.94M424.79,77.53 424.85,78.32 424.9,79.12 424.95,79.92 425.01,80.72 425.06,81.52 425.11,82.32 425.17,83.11 425.22,83.91 425.28,84.71 425.33,85.51 425.38,86.31 425.44,87.1 425.49,87.9 425.55,88.7 425.6,89.5 425.65,90.3 425.71,91.09 425.76,91.89 425.81,92.69 425.85,93.29M426.18,98.92L426.29,100.93M426.66,106.76 426.72,107.57 426.78,108.37 426.84,109.17 426.91,109.97 426.98,110.77 427.05,111.56 427.12,112.36 427.2,113.15 427.28,113.94 427.36,114.74 427.45,115.52 427.55,116.31 427.64,117.1 427.74,117.88 427.85,118.66 427.96,119.44 428.08,120.22 428.2,120.99 428.37,121.76 428.63,122.51 428.77,122.89M430.38,128.28L430.84,130.24M432.02,135.78 432.19,136.58 432.35,137.37 432.52,138.16 432.69,138.95 432.86,139.73 433.04,140.52 433.22,141.3 433.4,142.08 433.59,142.85 433.79,143.62 433.99,144.39 434.2,145.15 434.42,145.91 434.65,146.66 434.88,147.41 435.13,148.15 435.38,148.88 435.65,149.61 435.94,150.34 436.17,150.89M438.69,155.94L439.73,157.70M443.41,162.99 443.89,163.61 444.37,164.21 444.87,164.81 445.38,165.41 445.91,166 446.45,166.58 447,167.16 447.57,167.74 448.15,168.31 448.74,168.87 449.33,169.42 449.94,169.97 450.56,170.51 451.18,171.04 451.81,171.56 452.44,172.07 453.08,172.57 453.72,173.05 454.37,173.53 455.02,173.99 455.67,174.44 456.32,174.88 456.98,175.31 457.64,175.73 458.32,176.15 459,176.56 459.7,176.96 460.4,177.36 461.11,177.75 461.82,178.13 462.36,178.41M465.66,179.97 466.4,180.28 467.14,180.58 467.88,180.87 468.62,181.14 469.36,181.4 470.11,181.65 470.86,181.9 471.62,182.14 472.38,182.38 473.14,182.62 473.91,182.85 474.68,183.08 475.45,183.3 476.22,183.52 477,183.73 477.78,183.93 478.56,184.14 479.34,184.33 480.12,184.52 480.91,184.71 481.7,184.89 482.48,185.06 483.27,185.23 483.47,185.27M488.58,186.21 489.37,186.34 490.15,186.46 490.94,186.57 491.73,186.69 492.52,186.8 493.31,186.91 494.1,187.01 494.89,187.11 495.69,187.21 496.48,187.31 497.28,187.41 498.07,187.5 498.87,187.59 499.66,187.68 500.46,187.77 501.26,187.85 502.05,187.94 502.85,188.02 503.65,188.1 504.45,188.18 505.25,188.26 506.04,188.34M511.03,188.81 511.83,188.89 512.63,188.96 513.42,189.04 514.22,189.11 515.01,189.19 515.81,189.27 516.61,189.34 517.4,189.41 518.2,189.49 519,189.56 519.79,189.64 520.59,189.71 521.39,189.78 522.18,189.86 522.98,189.93 523.78,190 524.57,190.08 525.37,190.15 526.17,190.22 526.97,190.29 527.76,190.36 528.56,190.43M533.74,190.87 534.54,190.93 535.34,190.99 536.14,191.06 536.94,191.12 537.73,191.18 538.53,191.24 539.33,191.3 540.13,191.36 540.93,191.42 541.72,191.48 542.52,191.53 543.32,191.59 544.12,191.64 544.92,191.69 545.71,191.75 546.51,191.8 547.31,191.85 548.11,191.89 548.91,191.94 549.71,191.99 550.5,192.03 551.1,192.06M556.49,192.33 557.29,192.36 558.09,192.4 558.89,192.43 559.69,192.47 560.49,192.5 561.29,192.54 562.08,192.57 562.88,192.6 563.68,192.64 564.48,192.67 565.28,192.7 566.08,192.73 566.88,192.76 567.68,192.8 568.48,192.83 569.28,192.86 570.08,192.89 570.88,192.92 571.68,192.94 572.47,192.97 573.27,193 573.67,193.02M578.67,193.19 579.47,193.21 580.27,193.24 581.07,193.26 581.87,193.29 582.67,193.31 583.47,193.34 584.27,193.36 585.07,193.39 585.87,193.41 586.67,193.44 587.47,193.46 588.27,193.48 589.07,193.51 589.87,193.53 590.67,193.56 591.47,193.58 592.27,193.6 593.07,193.62 593.87,193.65 594.67,193.67 595.47,193.69 596.27,193.72M601.67,193.86 602.47,193.89 603.27,193.91 604.07,193.93 604.87,193.95 605.67,193.97 606.47,194 607.27,194.02 608.07,194.04 608.87,194.06 609.67,194.08 610.47,194.11 611.27,194.13 612.07,194.15 612.86,194.17 613.66,194.19 614.46,194.22 615.26,194.24 616.06,194.26 616.86,194.28 617.66,194.31 618.46,194.33 619.06,194.35" fill="none" stroke="#0060ad" stroke-width="1.75" stroke-linejoin="round"/></g>
<g clip-path="url(#box)"><path d="M44.85,234.51 45.28,234.59 45.71,234.67 46.14,234.74 46.57,234.82 47,234.9 47.43,234.98 47.86,235.06 48.28,235.13 48.71,235.21 49.14,235.29 49.57,235.38 50,235.46 50.43,235.54 50.86,235.62 51.29,235.71 51.72,235.79 52.15,235.87 52.58,235.96 53.01,236.04 53.44,236.13 53.87,236.22 54.29,236.31 54.72,236.39 55.15,236.48 55.58,236.57 56.01,236.66 56.44,236.75 56.87,236.84 57.3,236.94 57.73,237.03 58.16,237.12 58.59,237.22 59.02,237.31 59.45,237.41 59.88,237.5 60.3,237.6 60.73,237.7 61.16,237.8 61.59,237.9 62.02,238 62.45,238.1 62.88,238.2 63.31,238.3 63.74,238.41 64.17,238.51 64.6,238.62 65.03,238.72 65.46,238.83 65.89,238.94 66.31,239.05 66.74,239.16 67.17,239.27 67.6,239.38 68.03,239.49 68.46,239.6 68.89,239.72 69.32,239.83 69.75,239.95 70.18,240.07 70.61,240.19 71.04,240.31 71.47,240.43 71.9,240.55 72.33,240.67 72.75,240.8 73.18,240.92 73.61,241.05 74.04,241.17 74.47,241.3 74.9,241.43 75.33,241.56 75.76,241.7 76.19,241.83 76.62,241.96 77.05,242.1 77.48,242.24 77.91,242.38 78.34,242.52 78.76,242.66 79.19,242.8 79.62,242.94 80.05,243.09 80.48,243.24 80.91,243.39 81.34,243.54 81.77,243.69 82.2,243.84 82.63,244 83.06,244.15 83.49,244.31 83.92,244.47 84.35,244.63 84.77,244.8 85.2,244.96 85.63,245.13 86.06,245.3 86.49,245.47 86.92,245.64 87.35,245.81 87.78,245.99 88.21,246.17 88.64,246.35 89.07,246.53 89.5,246.72 89.93,246.9 90.36,247.09 90.79,247.28 91.21,247.48 91.64,247.67 92.07,247.87 92.5,248.07 92.93,248.28 93.36,248.48 93.79,248.69 94.22,248.9 94.65,249.12 95.01,249.3 95.36,249.48 95.72,249.66 96.08,249.85 96.44,250.04 96.8,250.23 97.15,250.42 97.51,250.61 97.87,250.81 98.23,251.01 98.58,251.21 98.94,251.41 99.3,251.62 99.66,251.83 100.02,252.04 100.37,252.25 100.73,252.47 101.09,252.69 101.45,252.91 101.8,253.13 102.16,253.36 102.52,253.59 102.88,253.82 103.23,254.05 103.59,254.29 103.95,254.53 104.31,254.78 104.67,255.03 105.02,255.28 105.38,255.53 105.74,255.79 106.1,256.05 106.45,256.31 106.81,256.58 107.17,256.85 107.53,257.13 107.89,257.41 108.24,257.69 108.6,257.98 108.96,258.27 109.32,258.57 109.67,258.87 110.03,259.17 110.39,259.48 110.75,259.79 111.11,260.11 111.46,260.44 111.82,260.76 112.18,261.1 112.54,261.44 112.89,261.78 113.25,262.13 113.54,262.41 113.82,262.7 114.11,262.99 114.4,263.29 114.68,263.58 114.97,263.89 115.26,264.19 115.54,264.5 115.83,264.82 116.11,265.14 116.4,265.46 116.69,265.79 116.97,266.13 117.26,266.46 117.54,266.81 117.83,267.16 118.12,267.51 118.4,267.87 118.69,268.23 118.98,268.6 119.26,268.98 119.55,269.36 119.83,269.74 120.12,270.13 120.41,270.53 120.69,270.94 120.98,271.35 121.27,271.77 121.55,272.19 121.84,272.63 122.12,273.06 122.41,273.51 122.62,273.85 122.84,274.2 123.05,274.54 123.27,274.9 123.48,275.26 123.7,275.62 123.91,275.99 124.13,276.36 124.34,276.74 124.56,277.12 124.77,277.51 124.99,277.9 125.2,278.3 125.42,278.7 125.63,279.11 125.84,279.53 126.06,279.95 126.27,280.38 126.49,280.81 126.7,281.25 126.92,281.7 127.13,282.15 127.35,282.61 127.56,283.08 127.78,283.56 127.99,284.04 128.21,284.53 128.42,285.02 128.64,285.53 128.85,286.04 129.06,286.56 129.28,287.09 129.49,287.63 129.71,288.18 129.92,288.74 130.07,289.12 130.21,289.5 130.35,289.88 130.5,290.27 130.64,290.67 130.78,291.06 130.92,291.47 131.07,291.88 131.21,292.29 131.35,292.71 131.5,293.13 131.64,293.56 131.78,293.99 131.93,294.43 132.07,294.88 132.21,295.32 132.36,295.78 132.5,296.24 132.64,296.71 132.78,297.18 132.93,297.66 133.07,298.14 133.21,298.64 133.36,299.13 133.5,299.64 133.64,300.15 133.79,300.67 133.93,301.19 134.07,301.73 134.22,302.26 134.36,302.81 134.5,303.37 134.65,303.93 134.79,304.5 134.93,305.08 135.07,305.66 135.22,306.26 135.36,306.86 135.5,307.48 135.65,308.1 135.79,308.73 135.93,309.37 136.08,310.02 136.22,310.68 136.36,311.35 136.51,312.03 136.65,312.73 136.79,313.43 136.93,314.14 137.08,314.87 137.22,315.61 137.36,316.36 137.51,317.12 137.65,317.89 137.79,318.68 137.87,319.08 137.94,319.48 138.01,319.89 138.08,320.3 138.15,320.71 138.22,321.12 138.29,321.54 138.37,321.97 138.44,322.39 138.51,322.83 138.58,323.26 138.65,323.7 138.72,324.14 138.8,324.59 138.87,325.04 138.94,325.49 139.01,325.95 139.08,326.41 139.15,326.88 139.22,327.35 139.3,327.83 139.37,328.31 139.44,328.79 139.51,329.28 139.58,329.78 139.65,330.28 139.73,330.78 139.8,331.29 139.87,331.8 139.94,332.32 140.01,332.84 140.08,333.37 140.15,333.91 140.23,334.45 140.3,334.99 140.37,335.54 140.44,336.1 140.51,336.66 140.58,337.22 140.66,337.8 140.73,338.37 140.8,338.96 140.87,339.55 140.94,340.15 141.01,340.75 141.08,341.36 141.16,341.97 141.23,342.6 141.3,343.23 141.37,343.86 141.44,344.51 141.51,345.16 141.59,345.81 141.66,346.48 141.73,347.15 141.8,347.83 141.87,348.51 141.94,349.21 142.01,349.91 142.09,350.62 142.16,351.34 142.23,352.07 142.3,352.8 142.37,353.55 142.44,354.3 142.52,355.06 142.59,355.84 142.66,356.62 142.73,357.41 142.8,358.21 142.87,359.02 142.95,359.83 143.02,360.66 143.09,361.5 143.16,362.35 143.23,363.22 143.3,364.09 143.37,364.97 143.45,365.87 143.52,366.77 143.59,367.69 143.66,368.62 143.73,369.57 143.8,370.52 143.88,371.49 143.95,372.47 144.02,373.47 144.09,374.48 144.16,375.5 144.23,376.53 144.3,377.59 144.38,378.65 144.45,379.73 144.52,380.83 144.59,381.94 144.66,383.07 144.73,384.22 144.81,385.38 144.88,386.56 144.95,387.76 145.02,388.98 145.09,390.21 145.16,391.46 145.23,392.74 145.31,394.03 145.38,395.34 145.45,396.68 145.52,398.03 145.59,399.41 145.66,400.81 145.74,402.23 145.81,403.68 145.88,405.15 145.95,406.65 146.02,408.17 146.09,409.71 146.16,411.29 146.24,412.89 146.31,414.52 146.38,416.18 146.45,417.86 146.52,419.58 146.59,421.33 146.67,423.11 146.74,424.93 146.81,426.78 146.88,428.66M160.4,-12.69 160.47,-9.79 160.55,-6.95 160.62,-4.17 160.69,-1.46 160.76,1.19 160.83,3.78 160.9,6.32 160.98,8.8 161.05,11.23 161.12,13.61 161.19,15.93 161.26,18.21 161.33,20.45 161.4,22.64 161.48,24.78 161.55,26.88 161.62,28.95 161.69,30.97 161.76,32.95 161.83,34.89 161.91,36.8 161.98,38.68 162.05,40.51 162.12,42.32 162.19,44.09 162.26,45.83 162.34,47.54 162.41,49.22 162.48,50.87 162.55,52.49 162.62,54.08 162.69,55.65 162.76,57.19 162.84,58.7 162.91,60.19 162.98,61.66 163.05,63.1 163.12,64.51 163.19,65.91 163.27,67.28 163.34,68.63 163.41,69.96 163.48,71.27 163.55,72.56 163.62,73.83 163.69,75.08 163.77,76.31 163.84,77.53 163.91,78.72 163.98,79.9 164.05,81.06 164.12,82.21 164.2,83.33 164.27,84.44 164.34,85.54 164.41,86.62 164.48,87.69 164.55,88.74 164.62,89.77 164.7,90.8 164.77,91.81 164.84,92.8 164.91,93.78 164.98,94.75 165.05,95.71 165.13,96.65 165.2,97.58 165.27,98.5 165.34,99.41 165.41,100.31 165.48,101.19 165.55,102.07 165.63,102.93 165.7,103.78 165.77,104.63 165.84,105.46 165.91,106.28 165.98,107.09 166.06,107.89 166.13,108.69 166.2,109.47 166.27,110.24 166.34,111.01 166.41,111.77 166.49,112.51 166.56,113.25 166.63,113.98 166.7,114.71 166.77,115.42 166.84,116.13 166.91,116.83 166.99,117.52 167.06,118.2 167.13,118.88 167.2,119.55 167.27,120.21 167.34,120.86 167.42,121.51 167.49,122.15 167.56,122.79 167.63,123.41 167.7,124.03 167.77,124.65 167.84,125.26 167.92,125.86 167.99,126.46 168.06,127.05 168.13,127.63 168.2,128.21 168.27,128.78 168.35,129.35 168.42,129.91 168.49,130.47 168.56,131.02 168.63,131.56 168.7,132.1 168.77,132.64 168.85,133.17 168.92,133.69 168.99,134.21 169.06,134.73 169.13,135.24 169.2,135.75 169.28,136.25 169.35,136.74 169.42,137.24 169.49,137.72 169.56,138.21 169.63,138.69 169.7,139.16 169.78,139.63 169.85,140.1 169.92,140.56 169.99,141.02 170.06,141.47 170.13,141.92 170.21,142.37 170.28,142.81 170.35,143.25 170.42,143.69 170.49,144.12 170.56,144.55 170.63,144.97 170.71,145.4 170.78,145.81 170.85,146.23 170.92,146.64 170.99,147.05 171.06,147.45 171.14,147.85 171.21,148.25 171.28,148.65 171.42,149.43 171.57,150.19 171.71,150.95 171.85,151.7 171.99,152.43 172.14,153.15 172.28,153.86 172.42,154.57 172.57,155.26 172.71,155.94 172.85,156.61 173,157.27 173.14,157.93 173.28,158.57 173.43,159.21 173.57,159.83 173.71,160.45 173.85,161.06 174,161.66 174.14,162.26 174.28,162.84 174.43,163.42 174.57,163.99 174.71,164.56 174.86,165.12 175,165.67 175.14,166.21 175.29,166.75 175.43,167.28 175.57,167.8 175.71,168.32 175.86,168.83 176,169.34 176.14,169.84 176.29,170.33 176.43,170.82 176.57,171.3 176.72,171.78 176.86,172.25 177,172.72 177.15,173.18 177.29,173.64 177.43,174.09 177.58,174.54 177.72,174.98 177.86,175.42 178,175.86 178.15,176.29 178.29,176.71 178.43,177.13 178.58,177.55 178.72,177.96 178.86,178.37 179.01,178.78 179.15,179.18 179.29,179.57 179.44,179.97 179.58,180.36 179.72,180.74 179.86,181.13 180.01,181.5 180.15,181.88 180.37,182.44 180.58,182.99 180.8,183.53 181.01,184.07 181.22,184.6 181.44,185.12 181.65,185.63 181.87,186.14 182.08,186.65 182.3,187.15 182.51,187.64 182.73,188.12 182.94,188.61 183.16,189.08 183.37,189.55 183.59,190.02 183.8,190.48 184.01,190.93 184.23,191.38 184.44,191.83 184.66,192.27 184.87,192.71 185.09,193.14 185.3,193.57 185.52,193.99 185.73,194.41 185.95,194.83 186.16,195.24 186.38,195.65 186.59,196.06 186.81,196.46 187.02,196.86 187.23,197.26 187.45,197.65 187.66,198.04 187.88,198.42 188.09,198.8 188.31,199.18 188.52,199.56 188.74,199.93 188.95,200.31 189.17,200.67 189.38,201.04 189.6,201.4 189.81,201.76 190.02,202.12 190.24,202.48 190.45,202.83 190.67,203.18 190.88,203.53 191.1,203.87 191.31,204.22 191.53,204.56 191.74,204.9 191.96,205.24 192.24,205.68 192.53,206.13 192.82,206.57 193.1,207.01 193.39,207.44 193.67,207.87 193.96,208.3 194.25,208.72 194.53,209.14 194.82,209.56 195.11,209.98 195.39,210.39 195.68,210.8 195.96,211.2 196.25,211.61 196.54,212.01 196.82,212.41 197.11,212.8 197.39,213.2 197.68,213.59 197.97,213.97 198.25,214.36 198.54,214.74 198.83,215.12 199.11,215.49 199.4,215.86 199.68,216.23 199.97,216.6 200.26,216.96 200.54,217.32 200.83,217.67 201.12,218.02 201.4,218.36 201.69,218.7 201.97,219.04 202.26,219.36 202.55,219.69 202.83,220 203.12,220.31 203.4,220.61 203.69,220.9 203.98,221.18 204.33,221.52 204.69,221.84 205.05,222.14 205.41,222.41 205.77,222.66 206.12,222.88 206.55,223.09 206.98,223.23 207.41,223.3 207.84,223.27 208.27,223.12 208.63,222.89 208.99,222.53 209.27,222.13 209.49,221.76 209.7,221.31 209.92,220.77 210.06,220.35 210.2,219.89 210.35,219.36 210.49,218.78 210.63,218.12 210.77,217.38 210.85,216.98 210.92,216.55 210.99,216.1 211.06,215.62 211.13,215.11 211.2,214.57 211.28,214 211.35,213.39 211.42,212.74 211.49,212.04 211.56,211.3 211.63,210.51 211.7,209.67 211.78,208.77 211.85,207.8 211.92,206.77 211.99,205.65 212.06,204.45 212.13,203.16 212.21,201.77 212.28,200.26 212.35,198.62 212.42,196.84 212.49,194.89 212.56,192.77 212.63,190.44 212.71,187.87 212.78,185.03 212.85,181.88 212.92,178.37 212.99,174.43 213.06,169.98 213.14,164.93 213.21,159.15 213.28,152.47 213.35,144.68 213.42,135.47 213.49,124.45 213.56,111.02 213.64,94.33 213.71,73.02 213.78,44.91 213.85,6.19 213.92,-50.52M214.71,452.05 214.78,426.6 214.85,407.06 214.92,391.62 215,379.11 215.07,368.78 215.14,360.12 215.21,352.76 215.28,346.44 215.35,340.95 215.43,336.15 215.5,331.92 215.57,328.17 215.64,324.82 215.71,321.82 215.78,319.13 215.85,316.69 215.93,314.47 216,312.46 216.07,310.63 216.14,308.95 216.21,307.41 216.28,305.99 216.36,304.69 216.43,303.5 216.5,302.39 216.57,301.37 216.64,300.42 216.71,299.55 216.78,298.74 216.86,297.99 216.93,297.29 217,296.64 217.07,296.04 217.14,295.49 217.21,294.98 217.29,294.5 217.36,294.06 217.43,293.65 217.57,292.92 217.71,292.31 217.86,291.79 218,291.36 218.22,290.86 218.43,290.51 218.79,290.23 219.22,290.28 219.58,290.6 219.86,291.01 220.08,291.4 220.29,291.85 220.51,292.36 220.65,292.74 220.79,293.14 220.93,293.57 221.08,294.02 221.22,294.49 221.36,294.99 221.51,295.5 221.65,296.05 221.79,296.61 221.94,297.19 222.08,297.8 222.22,298.43 222.37,299.08 222.51,299.75 222.65,300.44 222.79,301.16 222.94,301.9 223.08,302.65 223.22,303.44 223.3,303.84 223.37,304.24 223.44,304.65 223.51,305.07 223.58,305.49 223.65,305.92 223.73,306.35 223.8,306.79 223.87,307.23 223.94,307.69 224.01,308.14 224.08,308.61 224.15,309.08 224.23,309.55 224.3,310.03 224.37,310.52 224.44,311.02 224.51,311.52 224.58,312.03 224.66,312.54 224.73,313.06 224.8,313.59 224.87,314.12 224.94,314.67 225.01,315.21 225.08,315.77 225.16,316.33 225.23,316.9 225.3,317.48 225.37,318.07 225.44,318.66 225.51,319.26 225.59,319.87 225.66,320.48 225.73,321.11 225.8,321.74 225.87,322.38 225.94,323.03 226.01,323.68 226.09,324.35 226.16,325.02 226.23,325.71 226.3,326.4 226.37,327.1 226.44,327.81 226.52,328.53 226.59,329.26 226.66,330 226.73,330.75 226.8,331.51 226.87,332.28 226.94,333.06 227.02,333.86 227.09,334.66 227.16,335.47 227.23,336.3 227.3,337.13 227.37,337.98 227.45,338.84 227.52,339.71 227.59,340.6 227.66,341.49 227.73,342.4 227.8,343.33 227.87,344.26 227.95,345.21 228.02,346.18 228.09,347.15 228.16,348.15 228.23,349.15 228.3,350.18 228.38,351.21 228.45,352.27 228.52,353.34 228.59,354.42 228.66,355.53 228.73,356.65 228.81,357.78 228.88,358.94 228.95,360.11 229.02,361.31 229.09,362.52 229.16,363.75 229.23,365 229.31,366.27 229.38,367.57 229.45,368.88 229.52,370.22 229.59,371.58 229.66,372.96 229.74,374.37 229.81,375.8 229.88,377.25 229.95,378.74 230.02,380.25 230.09,381.78 230.16,383.34 230.24,384.94 230.31,386.56 230.38,388.21 230.45,389.89 230.52,391.6 230.59,393.35 230.67,395.13 230.74,396.94 230.81,398.79 230.88,400.68 230.95,402.61 231.02,404.57 231.09,406.57 231.17,408.62 231.24,410.7 231.31,412.84 231.38,415.01 231.45,417.23 231.52,419.51 231.6,421.83 231.67,424.2 231.74,426.62 231.81,429.1M244.55,-12.26 244.62,-9.81 244.69,-7.41 244.76,-5.07 244.83,-2.77 244.9,-0.52 244.98,1.68 245.05,3.84 245.12,5.95 245.19,8.02 245.26,10.04 245.33,12.03 245.4,13.98 245.48,15.89 245.55,17.77 245.62,19.61 245.69,21.41 245.76,23.18 245.83,24.92 245.91,26.62 245.98,28.3 246.05,29.94 246.12,31.56 246.19,33.14 246.26,34.7 246.33,36.23 246.41,37.74 246.48,39.22 246.55,40.67 246.62,42.1 246.69,43.51 246.76,44.89 246.84,46.26 246.91,47.59 246.98,48.91 247.05,50.21 247.12,51.48 247.19,52.74 247.26,53.98 247.34,55.19 247.41,56.39 247.48,57.57 247.55,58.74 247.62,59.88 247.69,61.01 247.77,62.12 247.84,63.22 247.91,64.3 247.98,65.36 248.05,66.41 248.12,67.44 248.2,68.46 248.27,69.47 248.34,70.46 248.41,71.44 248.48,72.4 248.55,73.35 248.62,74.29 248.7,75.22 248.77,76.13 248.84,77.03 248.91,77.92 248.98,78.8 249.05,79.67 249.13,80.52 249.2,81.37 249.27,82.2 249.34,83.02 249.41,83.84 249.48,84.64 249.55,85.43 249.63,86.22 249.7,86.99 249.77,87.75 249.84,88.51 249.91,89.26 249.98,89.99 250.06,90.72 250.13,91.44 250.2,92.15 250.27,92.86 250.34,93.55 250.41,94.24 250.48,94.92 250.56,95.59 250.63,96.26 250.7,96.91 250.77,97.56 250.84,98.21 250.91,98.84 250.99,99.47 251.06,100.09 251.13,100.71 251.2,101.31 251.27,101.92 251.34,102.51 251.41,103.1 251.49,103.68 251.56,104.26 251.63,104.83 251.7,105.4 251.77,105.95 251.84,106.51 251.92,107.06 251.99,107.6 252.06,108.14 252.13,108.67 252.2,109.19 252.27,109.71 252.35,110.23 252.42,110.74 252.49,111.25 252.56,111.75 252.63,112.24 252.7,112.74 252.77,113.22 252.85,113.7 252.92,114.18 252.99,114.66 253.06,115.12 253.13,115.59 253.2,116.05 253.28,116.5 253.35,116.96 253.42,117.4 253.49,117.85 253.56,118.29 253.63,118.72 253.7,119.15 253.78,119.58 253.85,120.01 253.92,120.43 253.99,120.84 254.06,121.26 254.13,121.67 254.21,122.07 254.28,122.47 254.35,122.87 254.42,123.27 254.56,124.05 254.71,124.82 254.85,125.57 254.99,126.32 255.14,127.05 255.28,127.77 255.42,128.47 255.56,129.17 255.71,129.86 255.85,130.53 255.99,131.2 256.14,131.85 256.28,132.5 256.42,133.13 256.57,133.76 256.71,134.37 256.85,134.98 257,135.58 257.14,136.17 257.28,136.75 257.43,137.32 257.57,137.89 257.71,138.44 257.85,138.99 258,139.54 258.14,140.07 258.28,140.6 258.43,141.12 258.57,141.63 258.71,142.14 258.86,142.64 259,143.13 259.14,143.62 259.29,144.1 259.43,144.57 259.57,145.04 259.71,145.51 259.86,145.96 260,146.42 260.14,146.86 260.29,147.3 260.43,147.74 260.57,148.17 260.72,148.59 260.86,149.01 261,149.43 261.15,149.84 261.29,150.24 261.43,150.64 261.57,151.04 261.72,151.43 261.86,151.82 262,152.2 262.15,152.58 262.29,152.96 262.51,153.51 262.72,154.06 262.93,154.59 263.15,155.12 263.36,155.64 263.58,156.15 263.79,156.66 264.01,157.15 264.22,157.64 264.44,158.12 264.65,158.6 264.87,159.07 265.08,159.53 265.3,159.98 265.51,160.43 265.72,160.87 265.94,161.3 266.15,161.73 266.37,162.16 266.58,162.57 266.8,162.98 267.01,163.39 267.23,163.79 267.44,164.19 267.66,164.58 267.87,164.96 268.09,165.34 268.3,165.72 268.52,166.09 268.73,166.46 268.94,166.82 269.16,167.18 269.37,167.53 269.59,167.88 269.8,168.22 270.02,168.56 270.3,169.01 270.59,169.45 270.88,169.89 271.16,170.31 271.45,170.74 271.74,171.15 272.02,171.56 272.31,171.96 272.59,172.36 272.88,172.75 273.17,173.14 273.45,173.52 273.74,173.9 274.02,174.27 274.31,174.63 274.6,175 274.88,175.35 275.17,175.7 275.46,176.05 275.74,176.39 276.03,176.73 276.31,177.07 276.6,177.4 276.89,177.73 277.17,178.05 277.46,178.37 277.75,178.68 278.03,178.99 278.32,179.3 278.6,179.61 278.89,179.91 279.18,180.2 279.46,180.5 279.75,180.79 280.03,181.08 280.32,181.36 280.61,181.65 280.97,181.99 281.32,182.34 281.68,182.68 282.04,183.01 282.4,183.34 282.75,183.67 283.11,183.99 283.47,184.31 283.83,184.63 284.18,184.94 284.54,185.25 284.9,185.56 285.26,185.86 285.62,186.16 285.97,186.45 286.33,186.74 286.69,187.03 287.05,187.32 287.4,187.6 287.76,187.88 288.12,188.16 288.48,188.44 288.84,188.71 289.19,188.98 289.55,189.25 289.91,189.51 290.27,189.77 290.62,190.03 290.98,190.29 291.34,190.55 291.7,190.8 292.06,191.05 292.41,191.3 292.77,191.55 293.13,191.79 293.49,192.04 293.84,192.28 294.2,192.52 294.56,192.76 294.92,192.99 295.28,193.23 295.63,193.46 295.99,193.69 296.35,193.92 296.71,194.15 297.06,194.37 297.42,194.6 297.78,194.82 298.14,195.04 298.49,195.26 298.85,195.48 299.21,195.7 299.57,195.92 299.93,196.13 300.28,196.35 300.64,196.56 301,196.77 301.36,196.98 301.71,197.19 302.07,197.4 302.43,197.61 302.79,197.82 303.15,198.02 303.5,198.23 303.86,198.43 304.22,198.63 304.58,198.84 304.93,199.04 305.29,199.24 305.65,199.44 306.01,199.64 306.37,199.83 306.72,200.03 307.08,200.23 307.44,200.42 307.8,200.62 308.15,200.81 308.51,201.01 308.87,201.2 309.23,201.39 309.59,201.59 309.94,201.78 310.3,201.97 310.66,202.16 311.02,202.35 311.37,202.54 311.73,202.73 312.09,202.92 312.45,203.11 312.8,203.3 313.16,203.48 313.52,203.67 313.88,203.86 314.24,204.05 314.59,204.23 314.95,204.42 315.31,204.61 315.67,204.79 316.02,204.98 316.38,205.17 316.74,205.35 317.1,205.54 317.46,205.72 317.81,205.91 318.17,206.09 318.53,206.28 318.89,206.46 319.24,206.65 319.6,206.84 319.96,207.02 320.32,207.21 320.68,207.39 321.03,207.58 321.39,207.76 321.75,207.95 322.11,208.13 322.46,208.32 322.82,208.51 323.18,208.69 323.54,208.88 323.89,209.07 324.25,209.25 324.61,209.44 324.97,209.63 325.33,209.82 325.68,210.01 326.04,210.2 326.4,210.38 326.76,210.57 327.11,210.76 327.47,210.95 327.83,211.15 328.19,211.34 328.55,211.53 328.9,211.72 329.26,211.91 329.62,212.11 329.98,212.3 330.33,212.5 330.69,212.69 331.05,212.89 331.41,213.09 331.77,213.28 332.12,213.48 332.48,213.68 332.84,213.88 333.2,214.08 333.55,214.28 333.91,214.48 334.27,214.69 334.63,214.89 334.99,215.1 335.34,215.3 335.7,215.51 336.06,215.72 336.42,215.93 336.77,216.14 337.13,216.35 337.49,216.56 337.85,216.78 338.2,216.99 338.56,217.21 338.92,217.42 339.28,217.64 339.64,217.86 339.99,218.08 340.35,218.31 340.71,218.53 341.07,218.76 341.42,218.98 341.78,219.21 342.14,219.44 342.5,219.68 342.86,219.91 343.21,220.14 343.57,220.38 343.93,220.62 344.29,220.86 344.64,221.1 345,221.35 345.36,221.6 345.72,221.84 346.08,222.1 346.43,222.35 346.79,222.6 347.15,222.86 347.51,223.12 347.86,223.38 348.22,223.65 348.58,223.92 348.94,224.18 349.3,224.46 349.65,224.73 350.01,225.01 350.37,225.29 350.73,225.57 351.08,225.86 351.44,226.15 351.8,226.44 352.16,226.74 352.51,227.04 352.87,227.34 353.23,227.64 353.59,227.95 353.95,228.27 354.3,228.58 354.66,228.9 355.02,229.23 355.38,229.55 355.73,229.89 356.09,230.22 356.45,230.56 356.81,230.91 357.09,231.19 357.38,231.47 357.67,231.76 357.95,232.05 358.24,232.34 358.53,232.63 358.81,232.93 359.1,233.23 359.38,233.54 359.67,233.85 359.96,234.16 360.24,234.48 360.53,234.8 360.81,235.12 361.1,235.45 361.39,235.78 361.67,236.12 361.96,236.46 362.25,236.8 362.53,237.15 362.82,237.51 363.1,237.87 363.39,238.23 363.68,238.6 363.96,238.97 364.25,239.35 364.54,239.74 364.82,240.13 365.11,240.52 365.39,240.92 365.68,241.33 365.97,241.75 366.25,242.16 366.54,242.59 366.82,243.02 367.11,243.46 367.4,243.91 367.61,244.25 367.83,244.59 368.04,244.94 368.26,245.29 368.47,245.65 368.69,246.01 368.9,246.38 369.11,246.75 369.33,247.12 369.54,247.5 369.76,247.89 369.97,248.28 370.19,248.67 370.4,249.08 370.62,249.48 370.83,249.89 371.05,250.31 371.26,250.73 371.48,251.16 371.69,251.6 371.91,252.04 372.12,252.49 372.33,252.94 372.55,253.41 372.76,253.88 372.98,254.35 373.19,254.83 373.41,255.32 373.62,255.82 373.84,256.33 374.05,256.84 374.27,257.37 374.48,257.9 374.7,258.44 374.91,258.98 375.12,259.54 375.27,259.92 375.41,260.3 375.55,260.69 375.7,261.08 375.84,261.47 375.98,261.87 376.13,262.27 376.27,262.68 376.41,263.1 376.56,263.52 376.7,263.94 376.84,264.37 376.99,264.8 377.13,265.24 377.27,265.69 377.41,266.14 377.56,266.59 377.7,267.05 377.84,267.52 377.99,268 378.13,268.48 378.27,268.96 378.42,269.46 378.56,269.96 378.7,270.46 378.85,270.97 378.99,271.49 379.13,272.02 379.27,272.56 379.42,273.1 379.56,273.65 379.7,274.21 379.85,274.77 379.99,275.34 380.13,275.93 380.28,276.52 380.42,277.12 380.56,277.72 380.71,278.34 380.85,278.97 380.99,279.61 381.13,280.25 381.28,280.91 381.42,281.57 381.56,282.25 381.71,282.94 381.85,283.64 381.99,284.35 382.14,285.07 382.28,285.81 382.42,286.55 382.57,287.31 382.71,288.08 382.85,288.87 382.92,289.27 383,289.67 383.07,290.07 383.14,290.48 383.21,290.89 383.28,291.31 383.35,291.73 383.42,292.15 383.5,292.58 383.57,293.01 383.64,293.45 383.71,293.88 383.78,294.33 383.85,294.77 383.93,295.22 384,295.68 384.07,296.14 384.14,296.6 384.21,297.07 384.28,297.54 384.35,298.02 384.43,298.5 384.5,298.99 384.57,299.48 384.64,299.98 384.71,300.48 384.78,300.98 384.86,301.49 384.93,302.01 385,302.53 385.07,303.06 385.14,303.59 385.21,304.13 385.28,304.67 385.36,305.22 385.43,305.77 385.5,306.33 385.57,306.89 385.64,307.47 385.71,308.04 385.79,308.63 385.86,309.22 385.93,309.81 386,310.42 386.07,311.03 386.14,311.64 386.22,312.26 386.29,312.89 386.36,313.53 386.43,314.17 386.5,314.83 386.57,315.48 386.64,316.15 386.72,316.82 386.79,317.51 386.86,318.2 386.93,318.89 387,319.6 387.07,320.31 387.15,321.04 387.22,321.77 387.29,322.51 387.36,323.26 387.43,324.02 387.5,324.78 387.57,325.56 387.65,326.35 387.72,327.14 387.79,327.95 387.86,328.77 387.93,329.6 388,330.44 388.08,331.28 388.15,332.14 388.22,333.02 388.29,333.9 388.36,334.8 388.43,335.7 388.5,336.62 388.58,337.55 388.65,338.5 388.72,339.46 388.79,340.43 388.86,341.41 388.93,342.41 389.01,343.42 389.08,344.45 389.15,345.5 389.22,346.55 389.29,347.63 389.36,348.71 389.43,349.82 389.51,350.94 389.58,352.08 389.65,353.24 389.72,354.41 389.79,355.6 389.86,356.81 389.94,358.04 390.01,359.29 390.08,360.56 390.15,361.85 390.22,363.16 390.29,364.5 390.36,365.85 390.44,367.23 390.51,368.63 390.58,370.05 390.65,371.5 390.72,372.97 390.79,374.47 390.87,376 390.94,377.55 391.01,379.13 391.08,380.74 391.15,382.38 391.22,384.05 391.3,385.75 391.37,387.48 391.44,389.24 391.51,391.04 391.58,392.88 391.65,394.74 391.72,396.65 391.8,398.59 391.87,400.58 391.94,402.6 392.01,404.66 392.08,406.77 392.15,408.92 392.23,411.12 392.3,413.36 392.37,415.66 392.44,418 392.51,420.4 392.58,422.84 392.65,425.35 392.73,427.91M405.39,-12.15 405.46,-9.78 405.53,-7.46 405.61,-5.19 405.68,-2.97 405.75,-0.8 405.82,1.33 405.89,3.42 405.96,5.46 406.03,7.46 406.11,9.42 406.18,11.34 406.25,13.23 406.32,15.07 406.39,16.88 406.46,18.66 406.54,20.4 406.61,22.11 406.68,23.79 406.75,25.44 406.82,27.05 406.89,28.64 406.96,30.2 407.04,31.73 407.11,33.23 407.18,34.71 407.25,36.16 407.32,37.59 407.39,38.99 407.47,40.37 407.54,41.72 407.61,43.05 407.68,44.36 407.75,45.65 407.82,46.92 407.89,48.16 407.97,49.39 408.04,50.6 408.11,51.78 408.18,52.95 408.25,54.1 408.32,55.23 408.4,56.35 408.47,57.45 408.54,58.53 408.61,59.59 408.68,60.64 408.75,61.67 408.82,62.69 408.9,63.69 408.97,64.68 409.04,65.65 409.11,66.61 409.18,67.55 409.25,68.48 409.33,69.4 409.4,70.3 409.47,71.2 409.54,72.07 409.61,72.94 409.68,73.8 409.76,74.64 409.83,75.47 409.9,76.29 409.97,77.1 410.04,77.89 410.11,78.68 410.18,79.46 410.26,80.22 410.33,80.98 410.4,81.72 410.47,82.46 410.54,83.18 410.61,83.9 410.69,84.61 410.76,85.3 410.83,85.99 410.9,86.67 410.97,87.34 411.04,88 411.11,88.66 411.19,89.3 411.26,89.94 411.33,90.57 411.4,91.19 411.47,91.8 411.54,92.4 411.62,93 411.69,93.59 411.76,94.17 411.83,94.75 411.9,95.31 411.97,95.87 412.04,96.43 412.12,96.97 412.19,97.51 412.26,98.05 412.33,98.57 412.4,99.09 412.47,99.6 412.55,100.11 412.62,100.61 412.69,101.1 412.76,101.59 412.83,102.07 412.9,102.55 412.97,103.02 413.05,103.48 413.12,103.94 413.19,104.39 413.26,104.84 413.33,105.28 413.4,105.71 413.48,106.14 413.55,106.57 413.62,106.98 413.69,107.4 413.76,107.8 413.83,108.21 413.9,108.6 414.05,109.38 414.19,110.14 414.33,110.87 414.48,111.59 414.62,112.29 414.76,112.96 414.91,113.62 415.05,114.26 415.19,114.87 415.34,115.47 415.48,116.05 415.62,116.61 415.77,117.15 415.91,117.67 416.05,118.17 416.19,118.66 416.34,119.12 416.48,119.56 416.62,119.98 416.77,120.38 416.91,120.76 417.12,121.29 417.34,121.77 417.55,122.2 417.77,122.58 418.05,122.98 418.34,123.28 418.7,123.48 419.13,123.42 419.49,123.09 419.7,122.74 419.92,122.26 420.06,121.86 420.2,121.39 420.34,120.84 420.49,120.2 420.63,119.46 420.7,119.05 420.77,118.61 420.85,118.14 420.92,117.64 420.99,117.1 421.06,116.52 421.13,115.91 421.2,115.25 421.27,114.54 421.35,113.79 421.42,112.98 421.49,112.11 421.56,111.18 421.63,110.19 421.7,109.11 421.78,107.96 421.85,106.72 421.92,105.38 421.99,103.94 422.06,102.37 422.13,100.68 422.2,98.84 422.28,96.84 422.35,94.65 422.42,92.26 422.49,89.63 422.56,86.74 422.63,83.54 422.71,79.99 422.78,76.03 422.85,71.58 422.92,66.57 422.99,60.87 423.06,54.36 423.13,46.83 423.21,38.05 423.28,27.68 423.35,15.27 423.42,0.16 423.49,-18.63M424.42,476.75 424.49,421.22 424.57,382.39 424.64,353.73 424.71,331.73 424.78,314.31 424.85,300.18 424.92,288.51 425,278.71 425.07,270.36 425.14,263.18 425.21,256.93 425.28,251.46 425.35,246.62 425.42,242.32 425.5,238.47 425.57,235.01 425.64,231.88 425.71,229.04 425.78,226.46 425.85,224.1 425.93,221.93 426,219.94 426.07,218.11 426.14,216.41 426.21,214.84 426.28,213.38 426.35,212.02 426.43,210.75 426.5,209.57 426.57,208.46 426.64,207.43 426.71,206.46 426.78,205.55 426.86,204.69 426.93,203.88 427,203.12 427.07,202.41 427.14,201.73 427.21,201.09 427.28,200.49 427.36,199.92 427.43,199.37 427.5,198.86 427.57,198.38 427.64,197.91 427.71,197.48 427.79,197.06 427.86,196.67 428,195.94 428.14,195.28 428.29,194.68 428.43,194.14 428.57,193.65 428.72,193.2 428.86,192.8 429.07,192.26 429.29,191.8 429.5,191.41 429.79,190.97 430.08,190.62 430.43,190.28 430.79,190.04 431.22,189.86 431.65,189.77 432.08,189.76 432.51,189.81 432.94,189.92 433.37,190.07 433.8,190.26 434.15,190.45 434.51,190.65 434.87,190.88 435.23,191.11 435.58,191.37 435.94,191.63 436.3,191.91 436.66,192.19 437.02,192.48 437.37,192.79 437.73,193.1 438.09,193.41 438.45,193.73 438.8,194.06 439.16,194.39 439.52,194.73 439.88,195.07 440.24,195.42 440.59,195.77 440.88,196.05 441.17,196.33 441.45,196.62 441.74,196.91 442.02,197.2 442.31,197.49 442.6,197.78 442.88,198.08 443.17,198.37 443.46,198.67 443.74,198.97 444.03,199.27 444.31,199.58 444.6,199.88 444.89,200.19 445.17,200.5 445.46,200.81 445.74,201.12 446.03,201.43 446.32,201.74 446.6,202.06 446.89,202.38 447.18,202.7 447.46,203.02 447.75,203.34 448.03,203.66 448.32,203.99 448.61,204.32 448.89,204.65 449.18,204.98 449.47,205.31 449.75,205.65 450.04,205.99 450.32,206.33 450.61,206.67 450.9,207.01 451.18,207.36 451.47,207.71 451.75,208.06 452.04,208.41 452.33,208.77 452.61,209.13 452.9,209.49 453.19,209.85 453.47,210.22 453.76,210.59 454.04,210.96 454.33,211.34 454.62,211.72 454.9,212.1 455.19,212.49 455.48,212.87 455.76,213.27 456.05,213.66 456.33,214.06 456.62,214.47 456.91,214.87 457.19,215.29 457.48,215.7 457.77,216.12 458.05,216.55 458.34,216.97 458.62,217.41 458.91,217.85 459.2,218.29 459.48,218.74 459.7,219.08 459.91,219.42 460.13,219.77 460.34,220.12 460.56,220.47 460.77,220.82 460.98,221.18 461.2,221.54 461.41,221.91 461.63,222.28 461.84,222.65 462.06,223.03 462.27,223.41 462.49,223.8 462.7,224.18 462.92,224.58 463.13,224.97 463.35,225.38 463.56,225.78 463.78,226.19 463.99,226.61 464.2,227.03 464.42,227.45 464.63,227.88 464.85,228.32 465.06,228.76 465.28,229.2 465.49,229.65 465.71,230.11 465.92,230.57 466.14,231.04 466.35,231.52 466.57,232 466.78,232.48 467,232.98 467.21,233.48 467.42,233.98 467.64,234.5 467.85,235.02 468.07,235.55 468.28,236.09 468.5,236.63 468.71,237.18 468.93,237.74 469.07,238.12 469.21,238.5 469.36,238.89 469.5,239.28 469.64,239.67 469.79,240.07 469.93,240.47 470.07,240.88 470.21,241.29 470.36,241.71 470.5,242.13 470.64,242.55 470.79,242.98 470.93,243.42 471.07,243.86 471.22,244.3 471.36,244.75 471.5,245.21 471.65,245.67 471.79,246.13 471.93,246.6 472.08,247.08 472.22,247.56 472.36,248.05 472.5,248.54 472.65,249.04 472.79,249.55 472.93,250.06 473.08,250.58 473.22,251.11 473.36,251.64 473.51,252.18 473.65,252.73 473.79,253.28 473.94,253.84 474.08,254.41 474.22,254.99 474.36,255.57 474.51,256.17 474.65,256.77 474.79,257.38 474.94,258 475.08,258.62 475.22,259.26 475.37,259.9 475.51,260.56 475.65,261.22 475.8,261.9 475.94,262.58 476.08,263.28 476.22,263.99 476.37,264.7 476.51,265.43 476.65,266.17 476.8,266.92 476.94,267.69 477.08,268.46 477.23,269.25 477.3,269.65 477.37,270.06 477.44,270.46 477.51,270.87 477.58,271.29 477.66,271.7 477.73,272.12 477.8,272.55 477.87,272.97 477.94,273.41 478.01,273.84 478.09,274.28 478.16,274.72 478.23,275.17 478.3,275.62 478.37,276.07 478.44,276.53 478.51,277 478.59,277.46 478.66,277.93 478.73,278.41 478.8,278.89 478.87,279.38 478.94,279.86 479.02,280.36 479.09,280.86 479.16,281.36 479.23,281.87 479.3,282.38 479.37,282.9 479.44,283.42 479.52,283.95 479.59,284.48 479.66,285.02 479.73,285.56 479.8,286.11 479.87,286.67 479.95,287.23 480.02,287.79 480.09,288.36 480.16,288.94 480.23,289.53 480.3,290.12 480.37,290.71 480.45,291.31 480.52,291.92 480.59,292.54 480.66,293.16 480.73,293.78 480.8,294.42 480.88,295.06 480.95,295.71 481.02,296.36 481.09,297.03 481.16,297.7 481.23,298.38 481.31,299.06 481.38,299.75 481.45,300.45 481.52,301.16 481.59,301.88 481.66,302.61 481.73,303.34 481.81,304.08 481.88,304.83 481.95,305.6 482.02,306.36 482.09,307.14 482.16,307.93 482.24,308.73 482.31,309.54 482.38,310.36 482.45,311.18 482.52,312.02 482.59,312.87 482.66,313.73 482.74,314.6 482.81,315.48 482.88,316.38 482.95,317.28 483.02,318.2 483.09,319.13 483.17,320.07 483.24,321.02 483.31,321.99 483.38,322.97 483.45,323.96 483.52,324.97 483.59,325.99 483.67,327.03 483.74,328.08 483.81,329.14 483.88,330.23 483.95,331.32 484.02,332.43 484.1,333.56 484.17,334.71 484.24,335.87 484.31,337.05 484.38,338.25 484.45,339.47 484.52,340.7 484.6,341.95 484.67,343.23 484.74,344.52 484.81,345.84 484.88,347.17 484.95,348.53 485.03,349.91 485.1,351.31 485.17,352.74 485.24,354.18 485.31,355.66 485.38,357.16 485.45,358.68 485.53,360.23 485.6,361.81 485.67,363.42 485.74,365.05 485.81,366.71 485.88,368.41 485.96,370.13 486.03,371.89 486.1,373.68 486.17,375.5 486.24,377.36 486.31,379.26 486.39,381.19 486.46,383.15 486.53,385.16 486.6,387.21 486.67,389.3 486.74,391.43 486.81,393.61 486.89,395.83 486.96,398.09 487.03,400.41 487.1,402.78 487.17,405.19 487.24,407.67 487.32,410.19 487.39,412.77 487.46,415.42 487.53,418.12 487.6,420.88 487.67,423.72 487.74,426.62 487.82,429.58M500.98,-13.12 501.05,-11.17 501.12,-9.26 501.2,-7.39 501.27,-5.56 501.34,-3.75 501.41,-1.98 501.48,-0.25 501.55,1.46 501.63,3.13 501.7,4.78 501.77,6.4 501.84,7.98 501.91,9.54 501.98,11.08 502.05,12.58 502.13,14.07 502.2,15.52 502.27,16.96 502.34,18.37 502.41,19.75 502.48,21.12 502.56,22.46 502.63,23.78 502.7,25.08 502.77,26.36 502.84,27.62 502.91,28.86 502.98,30.08 503.06,31.28 503.13,32.47 503.2,33.63 503.27,34.78 503.34,35.92 503.41,37.03 503.49,38.13 503.56,39.22 503.63,40.29 503.7,41.34 503.77,42.38 503.84,43.4 503.91,44.41 503.99,45.41 504.06,46.39 504.13,47.36 504.2,48.32 504.27,49.26 504.34,50.19 504.42,51.11 504.49,52.01 504.56,52.91 504.63,53.79 504.7,54.66 504.77,55.52 504.84,56.37 504.92,57.21 504.99,58.04 505.06,58.86 505.13,59.66 505.2,60.46 505.27,61.25 505.35,62.03 505.42,62.8 505.49,63.56 505.56,64.31 505.63,65.05 505.7,65.78 505.78,66.51 505.85,67.22 505.92,67.93 505.99,68.63 506.06,69.32 506.13,70.01 506.2,70.68 506.28,71.35 506.35,72.01 506.42,72.67 506.49,73.31 506.56,73.95 506.63,74.58 506.71,75.21 506.78,75.83 506.85,76.44 506.92,77.05 506.99,77.64 507.06,78.24 507.13,78.82 507.21,79.4 507.28,79.98 507.35,80.55 507.42,81.11 507.49,81.67 507.56,82.22 507.64,82.76 507.71,83.3 507.78,83.84 507.85,84.37 507.92,84.89 507.99,85.41 508.06,85.93 508.14,86.44 508.21,86.94 508.28,87.44 508.35,87.93 508.42,88.42 508.49,88.91 508.57,89.39 508.64,89.86 508.71,90.34 508.78,90.8 508.85,91.27 508.92,91.72 508.99,92.18 509.07,92.63 509.14,93.07 509.21,93.52 509.28,93.95 509.35,94.39 509.42,94.82 509.5,95.25 509.57,95.67 509.64,96.09 509.71,96.5 509.78,96.91 509.85,97.32 509.93,97.73 510,98.13 510.07,98.52 510.14,98.92 510.28,99.7 510.43,100.46 510.57,101.21 510.71,101.95 510.86,102.68 511,103.4 511.14,104.1 511.28,104.8 511.43,105.48 511.57,106.15 511.71,106.81 511.86,107.47 512,108.11 512.14,108.74 512.29,109.36 512.43,109.97 512.57,110.58 512.72,111.17 512.86,111.76 513,112.34 513.14,112.91 513.29,113.47 513.43,114.02 513.57,114.57 513.72,115.11 513.86,115.64 514,116.16 514.15,116.68 514.29,117.19 514.43,117.69 514.58,118.18 514.72,118.67 514.86,119.16 515.01,119.63 515.15,120.1 515.29,120.57 515.43,121.03 515.58,121.48 515.72,121.93 515.86,122.37 516.01,122.8 516.15,123.23 516.29,123.66 516.44,124.08 516.58,124.49 516.72,124.9 516.87,125.31 517.01,125.71 517.15,126.11 517.29,126.5 517.44,126.88 517.58,127.27 517.72,127.64 517.94,128.2 518.15,128.75 518.37,129.29 518.58,129.82 518.8,130.34 519.01,130.86 519.23,131.36 519.44,131.86 519.66,132.35 519.87,132.83 520.09,133.3 520.3,133.77 520.51,134.23 520.73,134.68 520.94,135.13 521.16,135.57 521.37,136 521.59,136.43 521.8,136.85 522.02,137.26 522.23,137.67 522.45,138.07 522.66,138.47 522.88,138.86 523.09,139.24 523.3,139.62 523.52,140 523.73,140.37 523.95,140.73 524.16,141.09 524.38,141.45 524.59,141.8 524.81,142.14 525.02,142.48 525.31,142.93 525.59,143.37 525.88,143.81 526.17,144.23 526.45,144.65 526.74,145.06 527.03,145.47 527.31,145.87 527.6,146.26 527.88,146.65 528.17,147.03 528.46,147.4 528.74,147.77 529.03,148.13 529.32,148.49 529.6,148.84 529.89,149.19 530.17,149.53 530.46,149.87 530.75,150.2 531.03,150.53 531.32,150.85 531.6,151.17 531.89,151.48 532.18,151.79 532.46,152.1 532.75,152.4 533.04,152.7 533.32,152.99 533.61,153.28 533.89,153.56 534.18,153.84 534.54,154.19 534.9,154.53 535.25,154.87 535.61,155.2 535.97,155.52 536.33,155.84 536.68,156.16 537.04,156.47 537.4,156.77 537.76,157.07 538.12,157.37 538.47,157.66 538.83,157.95 539.19,158.23 539.55,158.51 539.9,158.79 540.26,159.06 540.62,159.33 540.98,159.59 541.34,159.85 541.69,160.11 542.05,160.36 542.41,160.61 542.77,160.86 543.12,161.11 543.48,161.35 543.84,161.58 544.2,161.82 544.56,162.05 544.91,162.28 545.27,162.5 545.63,162.72 545.99,162.94 546.34,163.16 546.7,163.38 547.06,163.59 547.42,163.8 547.77,164 548.13,164.21 548.49,164.41 548.85,164.61 549.21,164.81 549.56,165 549.92,165.2 550.28,165.39 550.64,165.57 550.99,165.76 551.35,165.94 551.71,166.13 552.07,166.31 552.5,166.52 552.93,166.73 553.36,166.94 553.79,167.15 554.21,167.35 554.64,167.55 555.07,167.75 555.5,167.94 555.93,168.13 556.36,168.33 556.79,168.51 557.22,168.7 557.65,168.88 558.08,169.06 558.51,169.24 558.94,169.42 559.37,169.6 559.8,169.77 560.22,169.94 560.65,170.11 561.08,170.28 561.51,170.44 561.94,170.61 562.37,170.77 562.8,170.93 563.23,171.09 563.66,171.25 564.09,171.4 564.52,171.55 564.95,171.71 565.38,171.86 565.81,172.01 566.23,172.15 566.66,172.3 567.09,172.44 567.52,172.58 567.95,172.73 568.38,172.87 568.81,173 569.24,173.14 569.67,173.28 570.1,173.41 570.53,173.54 570.96,173.68 571.39,173.81 571.82,173.94 572.25,174.06 572.67,174.19 573.1,174.32 573.53,174.44 573.96,174.56 574.39,174.69 574.82,174.81 575.25,174.93 575.68,175.05 576.11,175.16 576.54,175.28 576.97,175.4 577.4,175.51 577.83,175.62 578.26,175.74 578.68,175.85 579.11,175.96 579.54,176.07 579.97,176.18 580.4,176.28 580.83,176.39 581.26,176.5 581.69,176.6 582.12,176.71 582.55,176.81 582.98,176.91 583.41,177.01 583.84,177.12 584.27,177.22 584.69,177.31 585.12,177.41 585.55,177.51 585.98,177.61 586.41,177.7 586.84,177.8 587.27,177.89 587.7,177.99 588.13,178.08 588.56,178.17 588.99,178.27 589.42,178.36 589.85,178.45 590.28,178.54 590.7,178.63 591.13,178.71 591.56,178.8 591.99,178.89 592.42,178.97 592.85,179.06 593.28,179.15 593.71,179.23 594.14,179.31 594.57,179.4 595,179.48 595.43,179.56 595.86,179.64 596.29,179.72 596.72,179.8 597.14,179.88 597.57,179.96 598,180.04 598.43,180.12 598.86,180.2 599.29,180.27 599.72,180.35 600.15,180.43 600.58,180.5 601.01,180.58 601.44,180.65 601.87,180.73 602.3,180.8 602.73,180.87 603.15,180.94 603.58,181.02 604.01,181.09 604.44,181.16 604.87,181.23 605.3,181.3 605.73,181.37 606.16,181.44 606.59,181.51 607.02,181.58 607.45,181.64 607.88,181.71 608.31,181.78 608.74,181.85 609.16,181.91 609.59,181.98 610.02,182.04 610.45,182.11 610.88,182.17 611.31,182.24 611.74,182.3 612.17,182.36 612.6,182.43 613.03,182.49 613.46,182.55 613.89,182.62 614.32,182.68 614.75,182.74 615.18,182.8 615.6,182.86 616.03,182.92 616.46,182.98 616.89,183.04 617.25,183.09" fill="none" stroke="#dd181f" stroke-width="1.8" stroke-linejoin="round"/></g>
<polyline points="44.85,234.51 45.42,234.62 45.99,234.72 46.57,234.82 47.14,234.92 47.71,235.03 48.28,235.13 48.86,235.24 49.43,235.35 50,235.46 50.57,235.57 51.15,235.68 51.72,235.79 52.29,235.9 52.86,236.02 53.44,236.13 54.01,236.25 54.58,236.36 55.15,236.48 55.73,236.6 56.3,236.72 56.87,236.84 57.44,236.97 58.02,237.09 58.59,237.22 59.16,237.34 59.73,237.47 60.3,237.6 60.88,237.73 61.45,237.86 62.02,238 62.59,238.13 63.17,238.27 63.74,238.41 64.31,238.55 64.88,238.69 65.46,238.83 66.03,238.97 66.6,239.12 67.17,239.27 67.75,239.42 68.32,239.57 68.89,239.72 69.46,239.87 70.04,240.03 70.61,240.19 71.18,240.35 71.75,240.51 72.33,240.67 72.9,240.84 73.47,241.01 74.04,241.17 74.61,241.35 75.19,241.52 75.76,241.7 76.33,241.87 76.9,242.05 77.48,242.24 78.05,242.42 78.62,242.61 79.19,242.8 79.77,242.99 80.34,243.19 80.91,243.39 81.48,243.59 82.06,243.79 82.63,244 83.2,244.21 83.77,244.42 84.35,244.63 84.92,244.85 85.49,245.07 86.06,245.3 86.64,245.52 87.21,245.76 87.78,245.99 88.35,246.23 88.92,246.47 89.5,246.72 90.07,246.97 90.64,247.22 91.21,247.48 91.72,247.71 92.22,247.94 92.72,248.17 93.22,248.41 93.72,248.66 94.22,248.9 94.72,249.15 95.22,249.4 95.72,249.66 96.22,249.92 96.72,250.19 97.22,250.46 97.73,250.73 98.23,251.01 98.73,251.29 99.23,251.58 99.73,251.87 100.23,252.17 100.73,252.47 101.23,252.77 101.73,253.09 102.23,253.4 102.73,253.73 103.23,254.05 103.74,254.39 104.24,254.73 104.74,255.08 105.24,255.43 105.74,255.79 106.24,256.15 106.74,256.53 107.24,256.91 107.74,257.3 108.24,257.69 108.67,258.04 109.1,258.39 109.53,258.75 109.96,259.11 110.39,259.48 110.82,259.86 111.25,260.24 111.68,260.63 112.11,261.03 112.54,261.44 112.97,261.85 113.39,262.27 113.82,262.7 114.25,263.14 114.68,263.58 115.11,264.04 115.54,264.5 115.97,264.98 116.4,265.46 116.83,265.96 117.19,266.38 117.54,266.81 117.9,267.24 118.26,267.69 118.62,268.14 118.98,268.6 119.33,269.07 119.69,269.55 120.05,270.04 120.41,270.53 120.76,271.04 121.12,271.56 121.48,272.09 121.84,272.63 122.2,273.18 122.55,273.74 122.91,274.31 123.27,274.9 123.56,275.38 123.84,275.86 124.13,276.36 124.41,276.86 124.7,277.38 124.99,277.9 125.27,278.43 125.56,278.97 125.84,279.53 126.13,280.09 126.42,280.67 126.7,281.25 126.99,281.85 127.28,282.46 127.56,283.08 127.85,283.71 128.13,284.36 128.42,285.02 128.71,285.7 128.92,286.22 129.14,286.74 129.35,287.27 129.57,287.82 129.78,288.37 129.99,288.93 130.21,289.5 130.42,290.08 130.64,290.67 130.85,291.27 131.07,291.88 131.28,292.5 131.5,293.13 131.71,293.77 131.93,294.43 132.14,295.1 132.36,295.78 132.57,296.47 132.78,297.18 133,297.9 133.21,298.64 133.43,299.39 133.64,300.15 133.86,300.93 134.07,301.73 134.22,302.26 134.36,302.81 134.5,303.37 134.65,303.93 134.79,304.5 134.93,305.08 135.07,305.66 135.22,306.26 135.36,306.86 135.5,307.48 135.65,308.1 135.79,308.73 135.93,309.37 136.08,310.02 136.22,310.68 136.36,311.35 136.51,312.03 136.65,312.73 136.79,313.43 136.93,314.14 137.08,314.87 137.22,315.61 137.36,316.36 137.51,317.12 137.65,317.89 137.79,318.68 137.94,319.48 138.08,320.3 138.22,321.12 138.37,321.97 138.51,322.83 138.65,323.7 138.8,324.59 138.94,325.49 139.08,326.41 139.22,327.35 139.37,328.31 139.51,329.28 139.65,330.28 139.8,331.29 139.94,332.32 140.08,333.37 140.23,334.45 140.37,335.54 140.44,336.1 140.51,336.66 140.58,337.22 140.66,337.8 140.73,338.37 140.8,338.96 140.87,339.55 140.94,340.15 141.01,340.75 141.08,341.36 141.16,341.97 141.23,342.6 141.3,343.23 141.37,343.86 141.44,344.51 141.51,345.16 141.59,345.81 141.66,346.48 141.73,347.15 141.8,347.83 141.87,348.51 141.94,349.21 142.01,349.91 142.09,350.62 142.16,351.34 142.23,352.07 142.3,352.8 142.37,353.55 142.44,354.3 142.52,355.06 142.59,355.84 142.66,356.62 142.73,357.41 142.8,358.21 142.87,359.02 142.95,359.83 143.02,360.66 143.09,361.5 143.16,362.35 143.23,363.22 143.3,364.09 143.37,364.97 143.45,365.87 143.52,366.77 143.59,367.69 143.66,368.62 143.73,369.57 143.8,370.52 143.88,371.49 143.95,372.47 144.02,373.47 144.09,374.48 144.16,375.5 144.23,376.53 144.3,377.59 144.38,378.65 144.45,379.73 144.52,380.83 144.59,381.94 144.66,383.07 144.73,384.22 144.81,385.38 144.88,386.56 144.95,387.76 145.02,388.98 145.09,390.21 145.16,391.46 145.23,392.74 145.31,394.03 145.38,395.34" fill="none" stroke="none" marker-start="url(#mr)" marker-mid="url(#mr)" marker-end="url(#mr)"/>
<polyline points="161.33,20.45 161.4,22.64 161.48,24.78 161.55,26.88 161.62,28.95 161.69,30.97 161.76,32.95 161.83,34.89 161.91,36.8 161.98,38.68 162.05,40.51 162.12,42.32 162.19,44.09 162.26,45.83 162.34,47.54 162.41,49.22 162.48,50.87 162.55,52.49 162.62,54.08 162.69,55.65 162.76,57.19 162.84,58.7 162.91,60.19 162.98,61.66 163.05,63.1 163.12,64.51 163.19,65.91 163.27,67.28 163.34,68.63 163.41,69.96 163.48,71.27 163.55,72.56 163.62,73.83 163.69,75.08 163.77,76.31 163.84,77.53 163.91,78.72 163.98,79.9 164.05,81.06 164.12,82.21 164.2,83.33 164.27,84.44 164.34,85.54 164.41,86.62 164.48,87.69 164.55,88.74 164.62,89.77 164.7,90.8 164.77,91.81 164.84,92.8 164.91,93.78 164.98,94.75 165.05,95.71 165.13,96.65 165.2,97.58 165.27,98.5 165.34,99.41 165.41,100.31 165.48,101.19 165.55,102.07 165.63,102.93 165.7,103.78 165.77,104.63 165.84,105.46 165.91,106.28 165.98,107.09 166.06,107.89 166.13,108.69 166.2,109.47 166.27,110.24 166.34,111.01 166.41,111.77 166.49,112.51 166.56,113.25 166.63,113.98 166.7,114.71 166.77,115.42 166.84,116.13 166.91,116.83 166.99,117.52 167.06,118.2 167.13,118.88 167.2,119.55 167.27,120.21 167.34,120.86 167.42,121.51 167.49,122.15 167.56,122.79 167.63,123.41 167.7,124.03 167.77,124.65 167.84,125.26 167.92,125.86 167.99,126.46 168.06,127.05 168.13,127.63 168.2,128.21 168.27,128.78 168.35,129.35 168.42,129.91 168.49,130.47 168.56,131.02 168.63,131.56 168.77,132.64 168.92,133.69 169.06,134.73 169.2,135.75 169.35,136.74 169.49,137.72 169.63,138.69 169.78,139.63 169.92,140.56 170.06,141.47 170.21,142.37 170.35,143.25 170.49,144.12 170.63,144.97 170.78,145.81 170.92,146.64 171.06,147.45 171.21,148.25 171.35,149.04 171.49,149.81 171.64,150.57 171.78,151.32 171.92,152.06 172.07,152.79 172.21,153.51 172.35,154.22 172.5,154.91 172.64,155.6 172.78,156.28 172.92,156.94 173.07,157.6 173.21,158.25 173.35,158.89 173.5,159.52 173.64,160.14 173.78,160.76 173.93,161.36 174.07,161.96 174.21,162.55 174.36,163.13 174.5,163.71 174.64,164.28 174.78,164.84 174.93,165.39 175.07,165.94 175.21,166.48 175.36,167.01 175.57,167.8 175.79,168.58 176,169.34 176.22,170.08 176.43,170.82 176.65,171.54 176.86,172.25 177.07,172.95 177.29,173.64 177.5,174.32 177.72,174.98 177.93,175.64 178.15,176.29 178.36,176.92 178.58,177.55 178.79,178.17 179.01,178.78 179.22,179.38 179.44,179.97 179.65,180.55 179.86,181.13 180.08,181.69 180.29,182.25 180.51,182.8 180.72,183.35 180.94,183.89 181.15,184.42 181.37,184.94 181.58,185.46 181.8,185.97 182.08,186.65 182.37,187.31 182.66,187.96 182.94,188.61 183.23,189.24 183.51,189.86 183.8,190.48 184.09,191.08 184.37,191.68 184.66,192.27 184.94,192.85 185.23,193.43 185.52,193.99 185.8,194.55 186.09,195.11 186.38,195.65 186.66,196.19 186.95,196.73 187.23,197.26 187.52,197.78 187.81,198.29 188.09,198.8 188.38,199.31 188.67,199.81 188.95,200.31 189.24,200.8 189.52,201.28 189.81,201.76 190.1,202.24 190.38,202.71 190.74,203.3 191.1,203.87 191.46,204.45 191.81,205.01 192.17,205.57 192.53,206.13 192.89,206.68 193.24,207.22 193.6,207.76 193.96,208.3 194.32,208.83 194.68,209.35 195.03,209.87 195.39,210.39 195.75,210.9 196.11,211.41 196.46,211.91 196.82,212.41 197.18,212.9 197.54,213.39 197.9,213.88 198.25,214.36 198.61,214.83 198.97,215.31 199.33,215.77 199.68,216.23 200.04,216.69 200.4,217.14 200.76,217.58 201.12,218.02 201.47,218.45 201.83,218.87 202.26,219.36 202.69,219.85 203.12,220.31 203.55,220.76 203.98,221.18 204.41,221.59 204.84,221.96 205.27,222.31 205.77,222.66 206.27,222.95 206.84,223.19 207.41,223.3 207.98,223.23 208.48,223 208.91,222.61 209.27,222.13 209.56,221.62 209.84,220.96 210.06,220.35 210.27,219.63 210.42,219.08 210.56,218.46 210.7,217.76 210.85,216.98 210.99,216.1 211.13,215.11 211.28,214 211.35,213.39 211.42,212.74 211.49,212.04 211.56,211.3 211.63,210.51 211.7,209.67 211.78,208.77 211.85,207.8 211.92,206.77 211.99,205.65 212.06,204.45 212.13,203.16 212.21,201.77 212.28,200.26 212.35,198.62 212.42,196.84 212.49,194.89 212.56,192.77 212.63,190.44 212.71,187.87 212.78,185.03 212.85,181.88 212.92,178.37 212.99,174.43 213.06,169.98 213.14,164.93 213.21,159.15 213.28,152.47 213.35,144.68 213.42,135.47 213.49,124.45 213.56,111.02 213.64,94.33 213.71,73.02 213.78,44.91" fill="none" stroke="none" marker-start="url(#mr)" marker-mid="url(#mr)" marker-end="url(#mr)"/>
<polyline points="214.92,391.62 215,379.11 215.07,368.78 215.14,360.12 215.21,352.76 215.28,346.44 215.35,340.95 215.43,336.15 215.5,331.92 215.57,328.17 215.64,324.82 215.71,321.82 215.78,319.13 215.85,316.69 215.93,314.47 216,312.46 216.07,310.63 216.14,308.95 216.21,307.41 216.28,305.99 216.36,304.69 216.43,303.5 216.5,302.39 216.57,301.37 216.64,300.42 216.71,299.55 216.78,298.74 216.86,297.99 216.93,297.29 217,296.64 217.07,296.04 217.14,295.49 217.29,294.5 217.43,293.65 217.57,292.92 217.71,292.31 217.93,291.56 218.14,291.01 218.43,290.51 218.93,290.2 219.43,290.44 219.79,290.89 220.08,291.4 220.36,292.01 220.58,292.55 220.79,293.14 221.01,293.79 221.22,294.49 221.44,295.24 221.65,296.05 221.79,296.61 221.94,297.19 222.08,297.8 222.22,298.43 222.37,299.08 222.51,299.75 222.65,300.44 222.79,301.16 222.94,301.9 223.08,302.65 223.22,303.44 223.37,304.24 223.51,305.07 223.65,305.92 223.8,306.79 223.94,307.69 224.08,308.61 224.23,309.55 224.37,310.52 224.51,311.52 224.66,312.54 224.8,313.59 224.94,314.67 225.01,315.21 225.08,315.77 225.16,316.33 225.23,316.9 225.3,317.48 225.37,318.07 225.44,318.66 225.51,319.26 225.59,319.87 225.66,320.48 225.73,321.11 225.8,321.74 225.87,322.38 225.94,323.03 226.01,323.68 226.09,324.35 226.16,325.02 226.23,325.71 226.3,326.4 226.37,327.1 226.44,327.81 226.52,328.53 226.59,329.26 226.66,330 226.73,330.75 226.8,331.51 226.87,332.28 226.94,333.06 227.02,333.86 227.09,334.66 227.16,335.47 227.23,336.3 227.3,337.13 227.37,337.98 227.45,338.84 227.52,339.71 227.59,340.6 227.66,341.49 227.73,342.4 227.8,343.33 227.87,344.26 227.95,345.21 228.02,346.18 228.09,347.15 228.16,348.15 228.23,349.15 228.3,350.18 228.38,351.21 228.45,352.27 228.52,353.34 228.59,354.42 228.66,355.53 228.73,356.65 228.81,357.78 228.88,358.94 228.95,360.11 229.02,361.31 229.09,362.52 229.16,363.75 229.23,365 229.31,366.27 229.38,367.57 229.45,368.88 229.52,370.22 229.59,371.58 229.66,372.96 229.74,374.37 229.81,375.8 229.88,377.25 229.95,378.74 230.02,380.25 230.09,381.78 230.16,383.34 230.24,384.94 230.31,386.56 230.38,388.21 230.45,389.89 230.52,391.6 230.59,393.35 230.67,395.13" fill="none" stroke="none" marker-start="url(#mr)" marker-mid="url(#mr)" marker-end="url(#mr)"/>
<polyline points="245.69,21.41 245.76,23.18 245.83,24.92 245.91,26.62 245.98,28.3 246.05,29.94 246.12,31.56 246.19,33.14 246.26,34.7 246.33,36.23 246.41,37.74 246.48,39.22 246.55,40.67 246.62,42.1 246.69,43.51 246.76,44.89 246.84,46.26 246.91,47.59 246.98,48.91 247.05,50.21 247.12,51.48 247.19,52.74 247.26,53.98 247.34,55.19 247.41,56.39 247.48,57.57 247.55,58.74 247.62,59.88 247.69,61.01 247.77,62.12 247.84,63.22 247.91,64.3 247.98,65.36 248.05,66.41 248.12,67.44 248.2,68.46 248.27,69.47 248.34,70.46 248.41,71.44 248.48,72.4 248.55,73.35 248.62,74.29 248.7,75.22 248.77,76.13 248.84,77.03 248.91,77.92 248.98,78.8 249.05,79.67 249.13,80.52 249.2,81.37 249.27,82.2 249.34,83.02 249.41,83.84 249.48,84.64 249.55,85.43 249.63,86.22 249.7,86.99 249.77,87.75 249.84,88.51 249.91,89.26 249.98,89.99 250.06,90.72 250.13,91.44 250.2,92.15 250.27,92.86 250.34,93.55 250.41,94.24 250.48,94.92 250.56,95.59 250.63,96.26 250.7,96.91 250.77,97.56 250.84,98.21 250.91,98.84 250.99,99.47 251.06,100.09 251.13,100.71 251.2,101.31 251.27,101.92 251.34,102.51 251.41,103.1 251.49,103.68 251.56,104.26 251.63,104.83 251.7,105.4 251.77,105.95 251.84,106.51 251.92,107.06 252.06,108.14 252.2,109.19 252.35,110.23 252.49,111.25 252.63,112.24 252.77,113.22 252.92,114.18 253.06,115.12 253.2,116.05 253.35,116.96 253.49,117.85 253.63,118.72 253.78,119.58 253.92,120.43 254.06,121.26 254.21,122.07 254.35,122.87 254.49,123.66 254.63,124.44 254.78,125.2 254.92,125.95 255.06,126.68 255.21,127.41 255.35,128.12 255.49,128.82 255.64,129.52 255.78,130.2 255.92,130.87 256.07,131.53 256.21,132.17 256.35,132.81 256.49,133.44 256.64,134.07 256.78,134.68 256.92,135.28 257.07,135.87 257.21,136.46 257.35,137.04 257.5,137.61 257.64,138.17 257.78,138.72 257.93,139.27 258.07,139.8 258.28,140.6 258.5,141.38 258.71,142.14 258.93,142.89 259.14,143.62 259.36,144.34 259.57,145.04 259.79,145.74 260,146.42 260.22,147.08 260.43,147.74 260.64,148.38 260.86,149.01 261.07,149.63 261.29,150.24 261.5,150.84 261.72,151.43 261.93,152.01 262.15,152.58 262.36,153.14 262.58,153.69 262.79,154.24 263.01,154.77 263.22,155.3 263.44,155.81 263.65,156.32 263.94,156.99 264.22,157.64 264.51,158.28 264.79,158.91 265.08,159.53 265.37,160.13 265.65,160.72 265.94,161.3 266.23,161.87 266.51,162.43 266.8,162.98 267.08,163.53 267.37,164.06 267.66,164.58 267.94,165.09 268.23,165.59 268.52,166.09 268.8,166.58 269.09,167.06 269.37,167.53 269.73,168.11 270.09,168.68 270.45,169.23 270.8,169.78 271.16,170.31 271.52,170.84 271.88,171.36 272.24,171.86 272.59,172.36 272.95,172.85 273.31,173.33 273.67,173.8 274.02,174.27 274.38,174.73 274.74,175.17 275.1,175.62 275.46,176.05 275.81,176.48 276.17,176.9 276.6,177.4 277.03,177.89 277.46,178.37 277.89,178.84 278.32,179.3 278.75,179.76 279.18,180.2 279.61,180.64 280.03,181.08 280.46,181.5 280.89,181.92 281.32,182.34 281.75,182.74 282.18,183.15 282.61,183.54 283.04,183.93 283.47,184.31 283.9,184.69 284.33,185.07 284.76,185.43 285.19,185.8 285.62,186.16 286.05,186.51 286.47,186.86 286.9,187.21 287.4,187.6 287.91,187.99 288.41,188.38 288.91,188.76 289.41,189.14 289.91,189.51 290.41,189.88 290.91,190.24 291.41,190.6 291.91,190.95 292.41,191.3 292.91,191.65 293.41,191.99 293.92,192.33 294.42,192.66 294.92,192.99 295.42,193.32 295.92,193.64 296.42,193.96 296.92,194.28 297.42,194.6 297.92,194.91 298.42,195.22 298.92,195.53 299.42,195.83 299.93,196.13 300.43,196.43 300.93,196.73 301.43,197.03 301.93,197.32 302.43,197.61 302.93,197.9 303.43,198.19 303.93,198.47 304.43,198.76 304.93,199.04 305.44,199.32 305.94,199.6 306.44,199.87 306.94,200.15 307.44,200.42 307.94,200.7 308.44,200.97 308.94,201.24 309.44,201.51 309.94,201.78 310.44,202.05 310.94,202.31 311.45,202.58 311.95,202.84 312.45,203.11 312.95,203.37 313.45,203.64 313.95,203.9 314.45,204.16 314.95,204.42 315.45,204.68 315.95,204.94 316.45,205.2 316.95,205.46 317.46,205.72 317.96,205.98 318.46,206.24 318.96,206.5 319.46,206.76 319.96,207.02 320.46,207.28 320.96,207.54 321.46,207.8 321.96,208.06 322.46,208.32 322.96,208.58 323.47,208.84 323.97,209.1 324.47,209.37 324.97,209.63 325.47,209.89 325.97,210.16 326.47,210.42 326.97,210.69 327.47,210.95 327.97,211.22 328.47,211.49 328.98,211.76 329.48,212.03 329.98,212.3 330.48,212.58 330.98,212.85 331.48,213.12 331.98,213.4 332.48,213.68 332.98,213.96 333.48,214.24 333.98,214.53 334.48,214.81 334.99,215.1 335.49,215.39 335.99,215.68 336.49,215.97 336.99,216.26 337.49,216.56 337.99,216.86 338.49,217.16 338.99,217.47 339.49,217.77 339.99,218.08 340.49,218.4 341,218.71 341.5,219.03 342,219.35 342.5,219.68 343,220 343.5,220.33 344,220.67 344.5,221.01 345,221.35 345.5,221.7 346,222.05 346.5,222.4 347.01,222.76 347.51,223.12 348.01,223.49 348.51,223.86 349.01,224.24 349.51,224.62 350.01,225.01 350.51,225.4 351.01,225.8 351.44,226.15 351.87,226.5 352.3,226.86 352.73,227.22 353.16,227.58 353.59,227.95 354.02,228.33 354.45,228.71 354.88,229.1 355.31,229.49 355.73,229.89 356.16,230.29 356.59,230.7 357.02,231.12 357.45,231.54 357.88,231.97 358.31,232.41 358.74,232.86 359.17,233.31 359.6,233.77 360.03,234.24 360.46,234.72 360.89,235.2 361.32,235.7 361.67,236.12 362.03,236.54 362.39,236.98 362.75,237.42 363.1,237.87 363.46,238.32 363.82,238.79 364.18,239.26 364.54,239.74 364.89,240.23 365.25,240.72 365.61,241.23 365.97,241.75 366.32,242.27 366.68,242.81 367.04,243.35 367.4,243.91 367.76,244.48 368.11,245.06 368.4,245.53 368.69,246.01 368.97,246.5 369.26,247 369.54,247.5 369.83,248.02 370.12,248.54 370.4,249.08 370.69,249.62 370.97,250.17 371.26,250.73 371.55,251.31 371.83,251.89 372.12,252.49 372.41,253.1 372.69,253.72 372.98,254.35 373.26,255 373.55,255.66 373.84,256.33 374.05,256.84 374.27,257.37 374.48,257.9 374.7,258.44 374.91,258.98 375.12,259.54 375.34,260.11 375.55,260.69 375.77,261.27 375.98,261.87 376.2,262.48 376.41,263.1 376.63,263.73 376.84,264.37 377.06,265.02 377.27,265.69 377.49,266.36 377.7,267.05 377.92,267.76 378.13,268.48 378.34,269.21 378.56,269.96 378.77,270.72 378.99,271.49 379.2,272.29 379.35,272.83 379.49,273.37 379.63,273.93 379.78,274.49 379.92,275.06 380.06,275.63 380.2,276.22 380.35,276.82 380.49,277.42 380.63,278.03 380.78,278.65 380.92,279.29 381.06,279.93 381.21,280.58 381.35,281.24 381.49,281.91 381.64,282.59 381.78,283.29 381.92,283.99 382.07,284.71 382.21,285.44 382.35,286.18 382.49,286.93 382.64,287.7 382.78,288.48 382.92,289.27 383.07,290.07 383.21,290.89 383.35,291.73 383.5,292.58 383.64,293.45 383.78,294.33 383.93,295.22 384.07,296.14 384.21,297.07 384.35,298.02 384.5,298.99 384.64,299.98 384.78,300.98 384.93,302.01 385.07,303.06 385.21,304.13 385.36,305.22 385.43,305.77 385.5,306.33 385.57,306.89 385.64,307.47 385.71,308.04 385.79,308.63 385.86,309.22 385.93,309.81 386,310.42 386.07,311.03 386.14,311.64 386.22,312.26 386.29,312.89 386.36,313.53 386.43,314.17 386.5,314.83 386.57,315.48 386.64,316.15 386.72,316.82 386.79,317.51 386.86,318.2 386.93,318.89 387,319.6 387.07,320.31 387.15,321.04 387.22,321.77 387.29,322.51 387.36,323.26 387.43,324.02 387.5,324.78 387.57,325.56 387.65,326.35 387.72,327.14 387.79,327.95 387.86,328.77 387.93,329.6 388,330.44 388.08,331.28 388.15,332.14 388.22,333.02 388.29,333.9 388.36,334.8 388.43,335.7 388.5,336.62 388.58,337.55 388.65,338.5 388.72,339.46 388.79,340.43 388.86,341.41 388.93,342.41 389.01,343.42 389.08,344.45 389.15,345.5 389.22,346.55 389.29,347.63 389.36,348.71 389.43,349.82 389.51,350.94 389.58,352.08 389.65,353.24 389.72,354.41 389.79,355.6 389.86,356.81 389.94,358.04 390.01,359.29 390.08,360.56 390.15,361.85 390.22,363.16 390.29,364.5 390.36,365.85 390.44,367.23 390.51,368.63 390.58,370.05 390.65,371.5 390.72,372.97 390.79,374.47 390.87,376 390.94,377.55 391.01,379.13 391.08,380.74 391.15,382.38 391.22,384.05 391.3,385.75 391.37,387.48 391.44,389.24 391.51,391.04 391.58,392.88 391.65,394.74" fill="none" stroke="none" marker-start="url(#mr)" marker-mid="url(#mr)" marker-end="url(#mr)"/>
<polyline points="406.54,20.4 406.61,22.11 406.68,23.79 406.75,25.44 406.82,27.05 406.89,28.64 406.96,30.2 407.04,31.73 407.11,33.23 407.18,34.71 407.25,36.16 407.32,37.59 407.39,38.99 407.47,40.37 407.54,41.72 407.61,43.05 407.68,44.36 407.75,45.65 407.82,46.92 407.89,48.16 407.97,49.39 408.04,50.6 408.11,51.78 408.18,52.95 408.25,54.1 408.32,55.23 408.4,56.35 408.47,57.45 408.54,58.53 408.61,59.59 408.68,60.64 408.75,61.67 408.82,62.69 408.9,63.69 408.97,64.68 409.04,65.65 409.11,66.61 409.18,67.55 409.25,68.48 409.33,69.4 409.4,70.3 409.47,71.2 409.54,72.07 409.61,72.94 409.68,73.8 409.76,74.64 409.83,75.47 409.9,76.29 409.97,77.1 410.04,77.89 410.11,78.68 410.18,79.46 410.26,80.22 410.33,80.98 410.4,81.72 410.47,82.46 410.54,83.18 410.61,83.9 410.69,84.61 410.76,85.3 410.83,85.99 410.9,86.67 410.97,87.34 411.04,88 411.11,88.66 411.19,89.3 411.26,89.94 411.33,90.57 411.4,91.19 411.47,91.8 411.54,92.4 411.62,93 411.69,93.59 411.76,94.17 411.83,94.75 411.9,95.31 411.97,95.87 412.04,96.43 412.12,96.97 412.26,98.05 412.4,99.09 412.55,100.11 412.69,101.1 412.83,102.07 412.97,103.02 413.12,103.94 413.26,104.84 413.4,105.71 413.55,106.57 413.69,107.4 413.83,108.21 413.98,108.99 414.12,109.76 414.26,110.51 414.41,111.23 414.55,111.94 414.69,112.63 414.84,113.29 414.98,113.94 415.12,114.57 415.26,115.18 415.41,115.76 415.55,116.33 415.69,116.88 415.91,117.67 416.12,118.42 416.34,119.12 416.55,119.77 416.77,120.38 416.98,120.95 417.2,121.46 417.48,122.07 417.77,122.58 418.13,123.07 418.56,123.42 419.13,123.42 419.56,122.99 419.84,122.43 420.06,121.86 420.27,121.12 420.42,120.53 420.56,119.84 420.7,119.05 420.85,118.14 420.99,117.1 421.06,116.52 421.13,115.91 421.2,115.25 421.27,114.54 421.35,113.79 421.42,112.98 421.49,112.11 421.56,111.18 421.63,110.19 421.7,109.11 421.78,107.96 421.85,106.72 421.92,105.38 421.99,103.94 422.06,102.37 422.13,100.68 422.2,98.84 422.28,96.84 422.35,94.65 422.42,92.26 422.49,89.63 422.56,86.74 422.63,83.54 422.71,79.99 422.78,76.03 422.85,71.58 422.92,66.57 422.99,60.87 423.06,54.36 423.13,46.83 423.21,38.05 423.28,27.68" fill="none" stroke="none" marker-start="url(#mr)" marker-mid="url(#mr)" marker-end="url(#mr)"/>
<polyline points="424.57,382.39 424.64,353.73 424.71,331.73 424.78,314.31 424.85,300.18 424.92,288.51 425,278.71 425.07,270.36 425.14,263.18 425.21,256.93 425.28,251.46 425.35,246.62 425.42,242.32 425.5,238.47 425.57,235.01 425.64,231.88 425.71,229.04 425.78,226.46 425.85,224.1 425.93,221.93 426,219.94 426.07,218.11 426.14,216.41 426.21,214.84 426.28,213.38 426.35,212.02 426.43,210.75 426.5,209.57 426.57,208.46 426.64,207.43 426.71,206.46 426.78,205.55 426.86,204.69 426.93,203.88 427,203.12 427.07,202.41 427.14,201.73 427.21,201.09 427.28,200.49 427.36,199.92 427.5,198.86 427.64,197.91 427.79,197.06 427.93,196.29 428.07,195.6 428.21,194.97 428.36,194.4 428.57,193.65 428.79,192.99 429,192.43 429.29,191.8 429.57,191.29 429.93,190.79 430.36,190.34 430.86,190.01 431.43,189.8 432.01,189.76 432.58,189.83 433.15,189.99 433.72,190.23 434.23,190.49 434.73,190.78 435.23,191.11 435.73,191.47 436.23,191.85 436.73,192.25 437.16,192.6 437.59,192.97 438.02,193.35 438.45,193.73 438.88,194.13 439.31,194.53 439.73,194.94 440.16,195.35 440.59,195.77 441.02,196.19 441.45,196.62 441.88,197.05 442.31,197.49 442.74,197.93 443.17,198.37 443.6,198.82 444.03,199.27 444.46,199.73 444.89,200.19 445.32,200.65 445.74,201.12 446.17,201.59 446.6,202.06 447.03,202.54 447.46,203.02 447.89,203.5 448.32,203.99 448.75,204.48 449.18,204.98 449.61,205.48 449.97,205.9 450.32,206.33 450.68,206.76 451.04,207.19 451.4,207.62 451.75,208.06 452.11,208.5 452.47,208.95 452.83,209.4 453.19,209.85 453.54,210.31 453.9,210.78 454.26,211.24 454.62,211.72 454.97,212.2 455.33,212.68 455.69,213.17 456.05,213.66 456.41,214.16 456.76,214.67 457.12,215.18 457.48,215.7 457.84,216.23 458.19,216.76 458.55,217.3 458.91,217.85 459.27,218.4 459.63,218.96 459.98,219.54 460.34,220.12 460.63,220.59 460.91,221.06 461.2,221.54 461.49,222.03 461.77,222.53 462.06,223.03 462.34,223.54 462.63,224.05 462.92,224.58 463.2,225.11 463.49,225.65 463.78,226.19 464.06,226.75 464.35,227.31 464.63,227.88 464.92,228.46 465.21,229.05 465.49,229.65 465.78,230.26 466.06,230.88 466.35,231.52 466.64,232.16 466.92,232.81 467.21,233.48 467.42,233.98 467.64,234.5 467.85,235.02 468.07,235.55 468.28,236.09 468.5,236.63 468.71,237.18 468.93,237.74 469.14,238.31 469.36,238.89 469.57,239.48 469.79,240.07 470,240.68 470.21,241.29 470.43,241.92 470.64,242.55 470.86,243.2 471.07,243.86 471.29,244.53 471.5,245.21 471.72,245.9 471.93,246.6 472.15,247.32 472.36,248.05 472.58,248.79 472.79,249.55 473.01,250.32 473.22,251.11 473.36,251.64 473.51,252.18 473.65,252.73 473.79,253.28 473.94,253.84 474.08,254.41 474.22,254.99 474.36,255.57 474.51,256.17 474.65,256.77 474.79,257.38 474.94,258 475.08,258.62 475.22,259.26 475.37,259.9 475.51,260.56 475.65,261.22 475.8,261.9 475.94,262.58 476.08,263.28 476.22,263.99 476.37,264.7 476.51,265.43 476.65,266.17 476.8,266.92 476.94,267.69 477.08,268.46 477.23,269.25 477.37,270.06 477.51,270.87 477.66,271.7 477.8,272.55 477.94,273.41 478.09,274.28 478.23,275.17 478.37,276.07 478.51,277 478.66,277.93 478.8,278.89 478.94,279.86 479.09,280.86 479.23,281.87 479.37,282.9 479.52,283.95 479.66,285.02 479.8,286.11 479.87,286.67 479.95,287.23 480.02,287.79 480.09,288.36 480.16,288.94 480.23,289.53 480.3,290.12 480.37,290.71 480.45,291.31 480.52,291.92 480.59,292.54 480.66,293.16 480.73,293.78 480.8,294.42 480.88,295.06 480.95,295.71 481.02,296.36 481.09,297.03 481.16,297.7 481.23,298.38 481.31,299.06 481.38,299.75 481.45,300.45 481.52,301.16 481.59,301.88 481.66,302.61 481.73,303.34 481.81,304.08 481.88,304.83 481.95,305.6 482.02,306.36 482.09,307.14 482.16,307.93 482.24,308.73 482.31,309.54 482.38,310.36 482.45,311.18 482.52,312.02 482.59,312.87 482.66,313.73 482.74,314.6 482.81,315.48 482.88,316.38 482.95,317.28 483.02,318.2 483.09,319.13 483.17,320.07 483.24,321.02 483.31,321.99 483.38,322.97 483.45,323.96 483.52,324.97 483.59,325.99 483.67,327.03 483.74,328.08 483.81,329.14 483.88,330.23 483.95,331.32 484.02,332.43 484.1,333.56 484.17,334.71 484.24,335.87 484.31,337.05 484.38,338.25 484.45,339.47 484.52,340.7 484.6,341.95 484.67,343.23 484.74,344.52 484.81,345.84 484.88,347.17 484.95,348.53 485.03,349.91 485.1,351.31 485.17,352.74 485.24,354.18 485.31,355.66 485.38,357.16 485.45,358.68 485.53,360.23 485.6,361.81 485.67,363.42 485.74,365.05 485.81,366.71 485.88,368.41 485.96,370.13 486.03,371.89 486.1,373.68 486.17,375.5 486.24,377.36 486.31,379.26 486.39,381.19 486.46,383.15 486.53,385.16 486.6,387.21 486.67,389.3 486.74,391.43 486.81,393.61 486.89,395.83" fill="none" stroke="none" marker-start="url(#mr)" marker-mid="url(#mr)" marker-end="url(#mr)"/>
<polyline points="502.48,21.12 502.56,22.46 502.63,23.78 502.7,25.08 502.77,26.36 502.84,27.62 502.91,28.86 502.98,30.08 503.06,31.28 503.13,32.47 503.2,33.63 503.27,34.78 503.34,35.92 503.41,37.03 503.49,38.13 503.56,39.22 503.63,40.29 503.7,41.34 503.77,42.38 503.84,43.4 503.91,44.41 503.99,45.41 504.06,46.39 504.13,47.36 504.2,48.32 504.27,49.26 504.34,50.19 504.42,51.11 504.49,52.01 504.56,52.91 504.63,53.79 504.7,54.66 504.77,55.52 504.84,56.37 504.92,57.21 504.99,58.04 505.06,58.86 505.13,59.66 505.2,60.46 505.27,61.25 505.35,62.03 505.42,62.8 505.49,63.56 505.56,64.31 505.63,65.05 505.7,65.78 505.78,66.51 505.85,67.22 505.92,67.93 505.99,68.63 506.06,69.32 506.13,70.01 506.2,70.68 506.28,71.35 506.35,72.01 506.42,72.67 506.49,73.31 506.56,73.95 506.63,74.58 506.71,75.21 506.78,75.83 506.85,76.44 506.92,77.05 506.99,77.64 507.06,78.24 507.13,78.82 507.21,79.4 507.28,79.98 507.35,80.55 507.42,81.11 507.49,81.67 507.56,82.22 507.64,82.76 507.78,83.84 507.92,84.89 508.06,85.93 508.21,86.94 508.35,87.93 508.49,88.91 508.64,89.86 508.78,90.8 508.92,91.72 509.07,92.63 509.21,93.52 509.35,94.39 509.5,95.25 509.64,96.09 509.78,96.91 509.93,97.73 510.07,98.52 510.21,99.31 510.35,100.08 510.5,100.84 510.64,101.59 510.78,102.32 510.93,103.04 511.07,103.75 511.21,104.45 511.36,105.14 511.5,105.82 511.64,106.48 511.79,107.14 511.93,107.79 512.07,108.42 512.21,109.05 512.36,109.67 512.5,110.28 512.64,110.88 512.79,111.47 512.93,112.05 513.07,112.62 513.22,113.19 513.36,113.75 513.5,114.29 513.65,114.84 513.79,115.37 514,116.16 514.22,116.93 514.43,117.69 514.65,118.43 514.86,119.16 515.08,119.87 515.29,120.57 515.51,121.25 515.72,121.93 515.94,122.59 516.15,123.23 516.36,123.87 516.58,124.49 516.79,125.11 517.01,125.71 517.22,126.3 517.44,126.88 517.65,127.45 517.87,128.02 518.08,128.57 518.3,129.11 518.51,129.64 518.73,130.17 518.94,130.69 519.15,131.19 519.44,131.86 519.73,132.51 520.01,133.15 520.3,133.77 520.59,134.38 520.87,134.98 521.16,135.57 521.44,136.14 521.73,136.71 522.02,137.26 522.3,137.8 522.59,138.33 522.88,138.86 523.16,139.37 523.45,139.87 523.73,140.37 524.02,140.85 524.31,141.33 524.66,141.91 525.02,142.48 525.38,143.04 525.74,143.59 526.1,144.13 526.45,144.65 526.81,145.17 527.17,145.67 527.53,146.16 527.88,146.65 528.24,147.12 528.6,147.59 528.96,148.04 529.32,148.49 529.67,148.93 530.03,149.36 530.39,149.79 530.82,150.28 531.25,150.77 531.68,151.25 532.11,151.72 532.53,152.17 532.96,152.62 533.39,153.06 533.82,153.49 534.25,153.91 534.68,154.33 535.11,154.73 535.54,155.13 535.97,155.52 536.4,155.91 536.83,156.28 537.26,156.65 537.69,157.01 538.12,157.37 538.55,157.72 538.97,158.06 539.48,158.46 539.98,158.84 540.48,159.22 540.98,159.59 541.48,159.96 541.98,160.31 542.48,160.66 542.98,161.01 543.48,161.35 543.98,161.68 544.48,162 544.98,162.32 545.49,162.64 545.99,162.94 546.49,163.25 546.99,163.55 547.49,163.84 547.99,164.13 548.49,164.41 548.99,164.69 549.49,164.96 549.99,165.23 550.49,165.5 550.99,165.76 551.5,166.02 552,166.27 552.5,166.52 553,166.77 553.5,167.01 554,167.25 554.5,167.48 555,167.71 555.5,167.94 556.07,168.2 556.65,168.45 557.22,168.7 557.79,168.94 558.36,169.18 558.94,169.42 559.51,169.66 560.08,169.89 560.65,170.11 561.23,170.33 561.8,170.55 562.37,170.77 562.94,170.98 563.52,171.19 564.09,171.4 564.66,171.61 565.23,171.81 565.81,172.01 566.38,172.2 566.95,172.39 567.52,172.58 568.1,172.77 568.67,172.96 569.24,173.14 569.81,173.32 570.38,173.5 570.96,173.68 571.53,173.85 572.1,174.02 572.67,174.19 573.25,174.36 573.82,174.52 574.39,174.69 574.96,174.85 575.54,175.01 576.11,175.16 576.68,175.32 577.25,175.47 577.83,175.62 578.4,175.77 578.97,175.92 579.54,176.07 580.12,176.21 580.69,176.36 581.26,176.5 581.83,176.64 582.41,176.78 582.98,176.91 583.55,177.05 584.12,177.18 584.69,177.31 585.27,177.45 585.84,177.58 586.41,177.7 586.98,177.83 587.56,177.96 588.13,178.08 588.7,178.2 589.27,178.33 589.85,178.45 590.42,178.57 590.99,178.68 591.56,178.8 592.14,178.92 592.71,179.03 593.28,179.15 593.85,179.26 594.43,179.37 595,179.48 595.57,179.59 596.14,179.7 596.72,179.8 597.29,179.91 597.86,180.02 598.43,180.12 599,180.22 599.58,180.33 600.15,180.43 600.72,180.53 601.29,180.63 601.87,180.73 602.44,180.82 603.01,180.92 603.58,181.02 604.16,181.11 604.73,181.21 605.3,181.3 605.87,181.39 606.45,181.49 607.02,181.58 607.59,181.67 608.16,181.76 608.74,181.85 609.31,181.93 609.88,182.02 610.45,182.11 611.03,182.19 611.6,182.28 612.17,182.36 612.74,182.45 613.31,182.53 613.89,182.62 614.46,182.7 615.03,182.78 615.6,182.86 616.18,182.94 616.75,183.02" fill="none" stroke="none" marker-start="url(#mr)" marker-mid="url(#mr)" marker-end="url(#mr)"/>
<g clip-path="url(#box)"><path d="M44.85,234.43 45.28,234.51 45.71,234.58 46.14,234.66 46.57,234.74 47,234.82 47.43,234.89 47.86,234.97 48.28,235.05 48.71,235.13 49.14,235.21 49.57,235.29 50,235.38 50.43,235.46 50.86,235.54 51.29,235.63 51.72,235.71 52.15,235.79 52.58,235.88 53.01,235.96 53.44,236.05 53.87,236.14 54.29,236.23 54.72,236.31 55.15,236.4 55.58,236.49 56.01,236.58 56.44,236.67 56.87,236.77 57.3,236.86 57.73,236.95 58.16,237.05 58.59,237.14 59.02,237.24 59.45,237.33 59.88,237.43 60.3,237.53 60.73,237.62 61.16,237.72 61.59,237.82 62.02,237.92 62.45,238.03 62.88,238.13 63.31,238.23 63.74,238.34 64.17,238.44 64.6,238.55 65.03,238.65 65.46,238.76 65.89,238.87 66.31,238.98 66.74,239.09 67.17,239.2 67.6,239.31 68.03,239.42 68.46,239.54 68.89,239.65 69.32,239.77 69.75,239.89 70.18,240.01 70.61,240.12 71.04,240.24 71.47,240.37 71.9,240.49 72.33,240.61 72.75,240.74 73.18,240.86 73.61,240.99 74.04,241.12 74.47,241.25 74.9,241.38 75.33,241.51 75.76,241.64 76.19,241.78 76.62,241.91 77.05,242.05 77.48,242.19 77.91,242.33 78.34,242.47 78.76,242.61 79.19,242.76 79.62,242.9 80.05,243.05 80.48,243.2 80.91,243.35 81.34,243.5 81.77,243.65 82.2,243.81 82.63,243.96 83.06,244.12 83.49,244.28 83.92,244.44 84.35,244.61 84.77,244.77 85.2,244.94 85.63,245.11 86.06,245.28 86.49,245.45 86.92,245.63 87.35,245.8 87.78,245.98 88.21,246.16 88.64,246.35 89.07,246.53 89.5,246.72 89.93,246.91 90.36,247.1 90.79,247.29 91.21,247.49 91.64,247.69 92.07,247.89 92.5,248.09 92.93,248.3 93.36,248.51 93.79,248.72 94.22,248.94 94.58,249.12 94.94,249.3 95.29,249.48 95.65,249.67 96.01,249.86 96.37,250.05 96.72,250.24 97.08,250.44 97.44,250.64 97.8,250.84 98.15,251.04 98.51,251.25 98.87,251.45 99.23,251.66 99.59,251.87 99.94,252.09 100.3,252.31 100.66,252.53 101.02,252.75 101.37,252.97 101.73,253.2 102.09,253.43 102.45,253.67 102.81,253.91 103.16,254.15 103.52,254.39 103.88,254.64 104.24,254.89 104.59,255.14 104.95,255.4 105.31,255.66 105.67,255.92 106.03,256.19 106.38,256.46 106.74,256.73 107.1,257.01 107.46,257.29 107.81,257.58 108.17,257.87 108.53,258.17 108.89,258.47 109.25,258.77 109.6,259.08 109.96,259.39 110.32,259.71 110.68,260.03 111.03,260.36 111.39,260.69 111.75,261.03 112.11,261.38 112.46,261.73 112.75,262.01 113.04,262.3 113.32,262.59 113.61,262.88 113.9,263.18 114.18,263.49 114.47,263.79 114.75,264.1 115.04,264.42 115.33,264.74 115.61,265.07 115.9,265.4 116.19,265.73 116.47,266.07 116.76,266.41 117.04,266.76 117.33,267.12 117.62,267.48 117.9,267.84 118.19,268.21 118.47,268.59 118.76,268.97 119.05,269.36 119.33,269.76 119.62,270.16 119.91,270.57 120.19,270.98 120.48,271.4 120.76,271.83 121.05,272.27 121.34,272.71 121.62,273.16 121.84,273.5 122.05,273.85 122.27,274.2 122.48,274.56 122.7,274.92 122.91,275.28 123.13,275.66 123.34,276.03 123.56,276.41 123.77,276.8 123.98,277.19 124.2,277.59 124.41,277.99 124.63,278.4 124.84,278.82 125.06,279.24 125.27,279.67 125.49,280.1 125.7,280.54 125.92,280.99 126.13,281.44 126.35,281.9 126.56,282.37 126.77,282.84 126.99,283.33 127.2,283.82 127.42,284.31 127.63,284.82 127.85,285.34 128.06,285.86 128.28,286.39 128.49,286.93 128.71,287.48 128.92,288.04 129.06,288.42 129.21,288.8 129.35,289.19 129.49,289.58 129.64,289.97 129.78,290.37 129.92,290.78 130.07,291.19 130.21,291.6 130.35,292.02 130.5,292.45 130.64,292.88 130.78,293.32 130.92,293.76 131.07,294.2 131.21,294.66 131.35,295.12 131.5,295.58 131.64,296.05 131.78,296.53 131.93,297.01 132.07,297.5 132.21,297.99 132.36,298.5 132.5,299 132.64,299.52 132.78,300.04 132.93,300.57 133.07,301.11 133.21,301.66 133.36,302.21 133.5,302.77 133.64,303.34 133.79,303.92 133.93,304.5 134.07,305.1 134.22,305.7 134.36,306.31 134.5,306.93 134.65,307.56 134.79,308.2 134.93,308.85 135.07,309.51 135.22,310.18 135.36,310.87 135.5,311.56 135.65,312.26 135.79,312.98 135.93,313.7 136.08,314.44 136.22,315.19 136.36,315.95 136.51,316.73 136.65,317.52 136.72,317.92 136.79,318.32 136.86,318.73 136.93,319.14 137.01,319.55 137.08,319.97 137.15,320.39 137.22,320.82 137.29,321.25 137.36,321.68 137.44,322.12 137.51,322.56 137.58,323 137.65,323.45 137.72,323.9 137.79,324.36 137.87,324.82 137.94,325.29 138.01,325.76 138.08,326.23 138.15,326.71 138.22,327.19 138.29,327.68 138.37,328.17 138.44,328.67 138.51,329.17 138.58,329.68 138.65,330.19 138.72,330.71 138.8,331.23 138.87,331.76 138.94,332.29 139.01,332.83 139.08,333.38 139.15,333.93 139.22,334.48 139.3,335.04 139.37,335.61 139.44,336.18 139.51,336.76 139.58,337.34 139.65,337.93 139.73,338.53 139.8,339.13 139.87,339.74 139.94,340.36 140.01,340.98 140.08,341.61 140.15,342.25 140.23,342.89 140.3,343.54 140.37,344.2 140.44,344.87 140.51,345.54 140.58,346.22 140.66,346.91 140.73,347.61 140.8,348.31 140.87,349.03 140.94,349.75 141.01,350.48 141.08,351.22 141.16,351.96 141.23,352.72 141.3,353.49 141.37,354.26 141.44,355.05 141.51,355.84 141.59,356.64 141.66,357.46 141.73,358.28 141.8,359.12 141.87,359.96 141.94,360.82 142.01,361.69 142.09,362.57 142.16,363.46 142.23,364.36 142.3,365.27 142.37,366.2 142.44,367.14 142.52,368.09 142.59,369.05 142.66,370.03 142.73,371.02 142.8,372.03 142.87,373.05 142.95,374.08 143.02,375.13 143.09,376.19 143.16,377.27 143.23,378.37 143.3,379.48 143.37,380.6 143.45,381.75 143.52,382.91 143.59,384.09 143.66,385.28 143.73,386.5 143.8,387.73 143.88,388.99 143.95,390.26 144.02,391.55 144.09,392.87 144.16,394.2 144.23,395.56 144.3,396.94 144.38,398.34 144.45,399.77 144.52,401.22 144.59,402.69 144.66,404.19 144.73,405.72 144.81,407.27 144.88,408.85 144.95,410.46 145.02,412.1 145.09,413.77 145.16,415.46 145.23,417.19 145.31,418.95 145.38,420.75 145.45,422.57 145.52,424.44 145.59,426.33 145.66,428.27M158.76,-12.34 158.83,-9.34 158.9,-6.4 158.97,-3.54 159.04,-0.74 159.12,1.99 159.19,4.66 159.26,7.27 159.33,9.82 159.4,12.32 159.47,14.76 159.54,17.15 159.62,19.49 159.69,21.78 159.76,24.02 159.83,26.22 159.9,28.37 159.97,30.48 160.05,32.54 160.12,34.57 160.19,36.56 160.26,38.5 160.33,40.41 160.4,42.29 160.47,44.13 160.55,45.93 160.62,47.7 160.69,49.44 160.76,51.15 160.83,52.82 160.9,54.47 160.98,56.09 161.05,57.68 161.12,59.24 161.19,60.78 161.26,62.29 161.33,63.77 161.4,65.23 161.48,66.67 161.55,68.08 161.62,69.47 161.69,70.84 161.76,72.18 161.83,73.51 161.91,74.81 161.98,76.09 162.05,77.35 162.12,78.6 162.19,79.82 162.26,81.03 162.34,82.22 162.41,83.39 162.48,84.54 162.55,85.68 162.62,86.8 162.69,87.9 162.76,88.99 162.84,90.06 162.91,91.12 162.98,92.16 163.05,93.19 163.12,94.21 163.19,95.21 163.27,96.19 163.34,97.17 163.41,98.13 163.48,99.07 163.55,100.01 163.62,100.93 163.69,101.84 163.77,102.74 163.84,103.63 163.91,104.51 163.98,105.37 164.05,106.23 164.12,107.07 164.2,107.91 164.27,108.73 164.34,109.54 164.41,110.35 164.48,111.14 164.55,111.92 164.62,112.7 164.7,113.47 164.77,114.22 164.84,114.97 164.91,115.71 164.98,116.44 165.05,117.16 165.13,117.88 165.2,118.58 165.27,119.28 165.34,119.97 165.41,120.66 165.48,121.33 165.55,122 165.63,122.66 165.7,123.31 165.77,123.96 165.84,124.6 165.91,125.23 165.98,125.86 166.06,126.48 166.13,127.09 166.2,127.7 166.27,128.3 166.34,128.89 166.41,129.48 166.49,130.06 166.56,130.64 166.63,131.21 166.7,131.78 166.77,132.33 166.84,132.89 166.91,133.44 166.99,133.98 167.06,134.52 167.13,135.05 167.2,135.58 167.27,136.1 167.34,136.62 167.42,137.13 167.49,137.64 167.56,138.14 167.63,138.64 167.7,139.14 167.77,139.63 167.84,140.11 167.92,140.59 167.99,141.07 168.06,141.54 168.13,142.01 168.2,142.47 168.27,142.93 168.35,143.39 168.42,143.84 168.49,144.29 168.56,144.73 168.63,145.17 168.7,145.61 168.77,146.04 168.85,146.47 168.92,146.9 168.99,147.32 169.06,147.74 169.13,148.15 169.2,148.56 169.28,148.97 169.35,149.38 169.42,149.78 169.49,150.18 169.56,150.57 169.7,151.35 169.85,152.12 169.99,152.88 170.13,153.62 170.28,154.36 170.42,155.08 170.56,155.79 170.71,156.49 170.85,157.18 170.99,157.86 171.14,158.53 171.28,159.2 171.42,159.85 171.57,160.49 171.71,161.13 171.85,161.75 171.99,162.37 172.14,162.98 172.28,163.58 172.42,164.17 172.57,164.76 172.71,165.33 172.85,165.9 173,166.47 173.14,167.02 173.28,167.57 173.43,168.11 173.57,168.65 173.71,169.18 173.85,169.7 174,170.22 174.14,170.73 174.28,171.23 174.43,171.73 174.57,172.22 174.71,172.71 174.86,173.19 175,173.67 175.14,174.14 175.29,174.61 175.43,175.07 175.57,175.52 175.71,175.97 175.86,176.42 176,176.86 176.14,177.3 176.29,177.73 176.43,178.16 176.57,178.59 176.72,179.01 176.86,179.42 177,179.83 177.15,180.24 177.29,180.64 177.43,181.04 177.58,181.44 177.72,181.83 177.86,182.22 178,182.61 178.15,182.99 178.29,183.37 178.43,183.74 178.65,184.3 178.86,184.85 179.08,185.39 179.29,185.93 179.51,186.46 179.72,186.98 179.94,187.5 180.15,188.01 180.37,188.51 180.58,189.01 180.8,189.5 181.01,189.99 181.22,190.47 181.44,190.95 181.65,191.42 181.87,191.89 182.08,192.35 182.3,192.81 182.51,193.26 182.73,193.71 182.94,194.15 183.16,194.59 183.37,195.03 183.59,195.46 183.8,195.89 184.01,196.32 184.23,196.74 184.44,197.15 184.66,197.57 184.87,197.98 185.09,198.39 185.3,198.79 185.52,199.19 185.73,199.59 185.95,199.99 186.16,200.38 186.38,200.77 186.59,201.15 186.81,201.54 187.02,201.92 187.23,202.3 187.45,202.68 187.66,203.05 187.88,203.42 188.09,203.79 188.31,204.16 188.52,204.53 188.74,204.89 188.95,205.26 189.17,205.62 189.38,205.97 189.6,206.33 189.81,206.69 190.02,207.04 190.24,207.39 190.45,207.74 190.67,208.09 190.88,208.44 191.1,208.79 191.31,209.13 191.53,209.48 191.74,209.82 191.96,210.16 192.17,210.51 192.39,210.85 192.6,211.19 192.82,211.52 193.03,211.86 193.32,212.31 193.6,212.76 193.89,213.21 194.17,213.65 194.46,214.1 194.75,214.54 195.03,214.98 195.32,215.43 195.61,215.87 195.89,216.31 196.18,216.75 196.46,217.19 196.75,217.64 197.04,218.08 197.32,218.52 197.61,218.96 197.9,219.41 198.18,219.85 198.47,220.29 198.75,220.74 199.04,221.19 199.33,221.63 199.61,222.08 199.9,222.53 200.11,222.87 200.33,223.21 200.54,223.55 200.76,223.89 200.97,224.23 201.19,224.58 201.4,224.92 201.62,225.27 201.83,225.61 202.05,225.96 202.26,226.31 202.47,226.66 202.69,227.01 202.9,227.37 203.12,227.72 203.33,228.08 203.55,228.44 203.76,228.8 203.98,229.16 204.19,229.52 204.41,229.89 204.62,230.26 204.84,230.63 205.05,231 205.27,231.37 205.48,231.75 205.69,232.13 205.91,232.51 206.12,232.9 206.34,233.28 206.55,233.67 206.77,234.07 206.98,234.46 207.2,234.86 207.41,235.26 207.63,235.67 207.84,236.07 208.06,236.48 208.27,236.9 208.48,237.32 208.7,237.74 208.91,238.16 209.13,238.59 209.34,239.02 209.56,239.46 209.77,239.9 209.99,240.35 210.2,240.8 210.42,241.25 210.63,241.71 210.85,242.17 211.06,242.64 211.28,243.11 211.49,243.59 211.7,244.08 211.92,244.56 212.13,245.06 212.35,245.56 212.56,246.07 212.78,246.58 212.99,247.1 213.21,247.62 213.42,248.15 213.64,248.69 213.85,249.24 214.07,249.79 214.28,250.35 214.42,250.73 214.57,251.11 214.71,251.49 214.85,251.88 215,252.27 215.14,252.67 215.28,253.07 215.43,253.47 215.57,253.88 215.71,254.29 215.85,254.71 216,255.13 216.14,255.55 216.28,255.98 216.43,256.41 216.57,256.85 216.71,257.29 216.86,257.74 217,258.19 217.14,258.65 217.29,259.11 217.43,259.57 217.57,260.05 217.71,260.52 217.86,261.01 218,261.49 218.14,261.99 218.29,262.49 218.43,262.99 218.57,263.51 218.72,264.02 218.86,264.55 219,265.08 219.15,265.62 219.29,266.16 219.43,266.71 219.58,267.27 219.72,267.84 219.86,268.41 220,268.99 220.15,269.58 220.29,270.18 220.43,270.79 220.58,271.4 220.72,272.02 220.86,272.65 221.01,273.29 221.15,273.94 221.29,274.6 221.44,275.27 221.58,275.95 221.72,276.64 221.86,277.34 222.01,278.05 222.15,278.77 222.29,279.5 222.44,280.25 222.58,281 222.72,281.77 222.87,282.55 222.94,282.95 223.01,283.34 223.08,283.75 223.15,284.15 223.22,284.56 223.3,284.97 223.37,285.39 223.44,285.81 223.51,286.23 223.58,286.66 223.65,287.09 223.73,287.52 223.8,287.96 223.87,288.4 223.94,288.84 224.01,289.29 224.08,289.75 224.15,290.21 224.23,290.67 224.3,291.13 224.37,291.6 224.44,292.08 224.51,292.56 224.58,293.04 224.66,293.53 224.73,294.02 224.8,294.52 224.87,295.02 224.94,295.53 225.01,296.04 225.08,296.56 225.16,297.08 225.23,297.61 225.3,298.14 225.37,298.68 225.44,299.22 225.51,299.77 225.59,300.32 225.66,300.88 225.73,301.45 225.8,302.02 225.87,302.6 225.94,303.18 226.01,303.77 226.09,304.37 226.16,304.97 226.23,305.58 226.3,306.19 226.37,306.82 226.44,307.44 226.52,308.08 226.59,308.72 226.66,309.37 226.73,310.03 226.8,310.69 226.87,311.37 226.94,312.05 227.02,312.73 227.09,313.43 227.16,314.13 227.23,314.85 227.3,315.57 227.37,316.3 227.45,317.03 227.52,317.78 227.59,318.54 227.66,319.3 227.73,320.07 227.8,320.86 227.87,321.65 227.95,322.46 228.02,323.27 228.09,324.09 228.16,324.93 228.23,325.78 228.3,326.63 228.38,327.5 228.45,328.38 228.52,329.27 228.59,330.17 228.66,331.09 228.73,332.02 228.81,332.96 228.88,333.91 228.95,334.88 229.02,335.86 229.09,336.85 229.16,337.86 229.23,338.88 229.31,339.92 229.38,340.97 229.45,342.04 229.52,343.12 229.59,344.23 229.66,345.34 229.74,346.48 229.81,347.63 229.88,348.79 229.95,349.98 230.02,351.19 230.09,352.41 230.16,353.66 230.24,354.92 230.31,356.2 230.38,357.51 230.45,358.84 230.52,360.19 230.59,361.56 230.67,362.95 230.74,364.37 230.81,365.82 230.88,367.28 230.95,368.78 231.02,370.3 231.09,371.85 231.17,373.42 231.24,375.03 231.31,376.66 231.38,378.33 231.45,380.02 231.52,381.75 231.6,383.51 231.67,385.31 231.74,387.14 231.81,389.01 231.88,390.91 231.95,392.85 232.02,394.83 232.1,396.86 232.17,398.92 232.24,401.03 232.31,403.18 232.38,405.38 232.45,407.63 232.53,409.93 232.6,412.27 232.67,414.67 232.74,417.13 232.81,419.64 232.88,422.21 232.95,424.84 233.03,427.54M245.05,-13.1 245.12,-10.53 245.19,-8.02 245.26,-5.57 245.33,-3.17 245.4,-0.82 245.48,1.47 245.55,3.71 245.62,5.91 245.69,8.06 245.76,10.17 245.83,12.23 245.91,14.25 245.98,16.23 246.05,18.17 246.12,20.07 246.19,21.93 246.26,23.76 246.33,25.55 246.41,27.31 246.48,29.03 246.55,30.72 246.62,32.39 246.69,34.02 246.76,35.62 246.84,37.19 246.91,38.73 246.98,40.25 247.05,41.74 247.12,43.21 247.19,44.65 247.26,46.06 247.34,47.45 247.41,48.82 247.48,50.16 247.55,51.49 247.62,52.79 247.69,54.07 247.77,55.33 247.84,56.57 247.91,57.79 247.98,58.99 248.05,60.17 248.12,61.33 248.2,62.48 248.27,63.61 248.34,64.72 248.41,65.82 248.48,66.9 248.55,67.96 248.62,69.01 248.7,70.04 248.77,71.06 248.84,72.06 248.91,73.05 248.98,74.02 249.05,74.99 249.13,75.93 249.2,76.87 249.27,77.79 249.34,78.7 249.41,79.6 249.48,80.48 249.55,81.36 249.63,82.22 249.7,83.07 249.77,83.91 249.84,84.74 249.91,85.56 249.98,86.37 250.06,87.17 250.13,87.95 250.2,88.73 250.27,89.5 250.34,90.26 250.41,91.01 250.48,91.75 250.56,92.48 250.63,93.2 250.7,93.92 250.77,94.62 250.84,95.32 250.91,96.01 250.99,96.69 251.06,97.36 251.13,98.03 251.2,98.69 251.27,99.34 251.34,99.98 251.41,100.62 251.49,101.25 251.56,101.87 251.63,102.48 251.7,103.09 251.77,103.69 251.84,104.29 251.92,104.88 251.99,105.46 252.06,106.04 252.13,106.61 252.2,107.17 252.27,107.73 252.35,108.28 252.42,108.83 252.49,109.37 252.56,109.91 252.63,110.44 252.7,110.96 252.77,111.48 252.85,112 252.92,112.5 252.99,113.01 253.06,113.51 253.13,114 253.2,114.49 253.28,114.98 253.35,115.46 253.42,115.93 253.49,116.4 253.56,116.87 253.63,117.33 253.7,117.79 253.78,118.24 253.85,118.69 253.92,119.14 253.99,119.58 254.06,120.02 254.13,120.45 254.21,120.88 254.28,121.3 254.35,121.73 254.42,122.14 254.49,122.56 254.56,122.97 254.63,123.37 254.71,123.78 254.78,124.18 254.85,124.57 254.99,125.36 255.14,126.13 255.28,126.88 255.42,127.62 255.56,128.36 255.71,129.07 255.85,129.78 255.99,130.48 256.14,131.16 256.28,131.84 256.42,132.5 256.57,133.15 256.71,133.8 256.85,134.43 257,135.06 257.14,135.67 257.28,136.28 257.43,136.87 257.57,137.46 257.71,138.04 257.85,138.61 258,139.17 258.14,139.73 258.28,140.27 258.43,140.81 258.57,141.35 258.71,141.87 258.86,142.39 259,142.9 259.14,143.4 259.29,143.9 259.43,144.39 259.57,144.88 259.71,145.35 259.86,145.83 260,146.29 260.14,146.75 260.29,147.21 260.43,147.65 260.57,148.1 260.72,148.53 260.86,148.97 261,149.39 261.15,149.82 261.29,150.23 261.43,150.64 261.57,151.05 261.72,151.45 261.86,151.85 262,152.24 262.15,152.63 262.29,153.02 262.43,153.4 262.58,153.77 262.79,154.33 263.01,154.88 263.22,155.41 263.44,155.94 263.65,156.46 263.86,156.98 264.08,157.48 264.29,157.98 264.51,158.47 264.72,158.95 264.94,159.42 265.15,159.89 265.37,160.35 265.58,160.8 265.8,161.25 266.01,161.69 266.23,162.13 266.44,162.55 266.66,162.98 266.87,163.39 267.08,163.8 267.3,164.21 267.51,164.61 267.73,165 267.94,165.39 268.16,165.78 268.37,166.16 268.59,166.53 268.8,166.9 269.02,167.27 269.23,167.63 269.45,167.99 269.66,168.34 269.87,168.68 270.09,169.03 270.3,169.37 270.59,169.81 270.88,170.25 271.16,170.69 271.45,171.11 271.74,171.53 272.02,171.95 272.31,172.35 272.59,172.75 272.88,173.15 273.17,173.54 273.45,173.92 273.74,174.3 274.02,174.68 274.31,175.05 274.6,175.41 274.88,175.77 275.17,176.13 275.46,176.48 275.74,176.82 276.03,177.16 276.31,177.5 276.6,177.83 276.89,178.16 277.17,178.49 277.46,178.81 277.75,179.12 278.03,179.44 278.32,179.75 278.6,180.05 278.89,180.35 279.18,180.65 279.46,180.95 279.75,181.24 280.03,181.53 280.32,181.82 280.61,182.1 280.89,182.38 281.25,182.73 281.61,183.07 281.97,183.41 282.32,183.74 282.68,184.07 283.04,184.39 283.4,184.72 283.76,185.03 284.11,185.35 284.47,185.66 284.83,185.96 285.19,186.27 285.54,186.57 285.9,186.86 286.26,187.16 286.62,187.45 286.98,187.73 287.33,188.02 287.69,188.3 288.05,188.58 288.41,188.86 288.76,189.13 289.12,189.4 289.48,189.67 289.84,189.93 290.19,190.2 290.55,190.46 290.91,190.72 291.27,190.97 291.63,191.23 291.98,191.48 292.34,191.73 292.7,191.97 293.06,192.22 293.41,192.46 293.77,192.71 294.13,192.95 294.49,193.18 294.85,193.42 295.2,193.66 295.56,193.89 295.92,194.12 296.28,194.35 296.63,194.58 296.99,194.8 297.35,195.03 297.71,195.25 298.07,195.48 298.42,195.7 298.78,195.92 299.14,196.13 299.5,196.35 299.85,196.57 300.21,196.78 300.57,196.99 300.93,197.21 301.29,197.42 301.64,197.63 302,197.84 302.36,198.04 302.72,198.25 303.07,198.46 303.43,198.66 303.79,198.86 304.15,199.07 304.5,199.27 304.86,199.47 305.22,199.67 305.58,199.87 305.94,200.07 306.29,200.27 306.65,200.46 307.01,200.66 307.37,200.86 307.72,201.05 308.08,201.25 308.44,201.44 308.8,201.63 309.16,201.83 309.51,202.02 309.87,202.21 310.23,202.4 310.59,202.59 310.94,202.78 311.3,202.97 311.66,203.16 312.02,203.35 312.38,203.54 312.73,203.73 313.09,203.92 313.45,204.1 313.81,204.29 314.16,204.48 314.52,204.67 314.88,204.85 315.24,205.04 315.6,205.22 315.95,205.41 316.31,205.6 316.67,205.78 317.03,205.97 317.38,206.15 317.74,206.34 318.1,206.52 318.46,206.71 318.81,206.89 319.17,207.08 319.53,207.26 319.89,207.45 320.25,207.63 320.6,207.82 320.96,208 321.32,208.19 321.68,208.38 322.03,208.56 322.39,208.75 322.75,208.93 323.11,209.12 323.47,209.31 323.82,209.49 324.18,209.68 324.54,209.87 324.9,210.05 325.25,210.24 325.61,210.43 325.97,210.62 326.33,210.81 326.69,211 327.04,211.19 327.4,211.38 327.76,211.57 328.12,211.76 328.47,211.95 328.83,212.14 329.19,212.34 329.55,212.53 329.91,212.72 330.26,212.92 330.62,213.11 330.98,213.31 331.34,213.5 331.69,213.7 332.05,213.9 332.41,214.1 332.77,214.3 333.12,214.5 333.48,214.7 333.84,214.9 334.2,215.1 334.56,215.31 334.91,215.51 335.27,215.72 335.63,215.92 335.99,216.13 336.34,216.34 336.7,216.55 337.06,216.76 337.42,216.97 337.78,217.18 338.13,217.4 338.49,217.61 338.85,217.83 339.21,218.05 339.56,218.27 339.92,218.49 340.28,218.71 340.64,218.93 341,219.16 341.35,219.39 341.71,219.61 342.07,219.84 342.43,220.08 342.78,220.31 343.14,220.54 343.5,220.78 343.86,221.02 344.22,221.26 344.57,221.5 344.93,221.74 345.29,221.99 345.65,222.24 346,222.49 346.36,222.74 346.72,222.99 347.08,223.25 347.43,223.51 347.79,223.77 348.15,224.03 348.51,224.3 348.87,224.56 349.22,224.83 349.58,225.11 349.94,225.38 350.3,225.66 350.65,225.94 351.01,226.23 351.37,226.52 351.73,226.81 352.09,227.1 352.44,227.4 352.8,227.7 353.16,228 353.52,228.31 353.87,228.62 354.23,228.93 354.59,229.25 354.95,229.57 355.31,229.9 355.66,230.23 356.02,230.56 356.38,230.9 356.74,231.24 357.09,231.59 357.38,231.87 357.67,232.15 357.95,232.44 358.24,232.73 358.53,233.02 358.81,233.32 359.1,233.62 359.38,233.92 359.67,234.23 359.96,234.54 360.24,234.85 360.53,235.17 360.81,235.49 361.1,235.82 361.39,236.15 361.67,236.48 361.96,236.82 362.25,237.16 362.53,237.51 362.82,237.86 363.1,238.21 363.39,238.58 363.68,238.94 363.96,239.31 364.25,239.69 364.54,240.07 364.82,240.45 365.11,240.85 365.39,241.24 365.68,241.65 365.97,242.06 366.25,242.47 366.54,242.89 366.82,243.32 367.11,243.76 367.4,244.2 367.68,244.65 367.9,244.99 368.11,245.33 368.33,245.68 368.54,246.04 368.76,246.39 368.97,246.76 369.19,247.12 369.4,247.5 369.62,247.87 369.83,248.25 370.04,248.64 370.26,249.03 370.47,249.43 370.69,249.83 370.9,250.24 371.12,250.65 371.33,251.07 371.55,251.5 371.76,251.93 371.98,252.37 372.19,252.81 372.41,253.26 372.62,253.72 372.84,254.18 373.05,254.65 373.26,255.13 373.48,255.62 373.69,256.11 373.91,256.61 374.12,257.12 374.34,257.63 374.55,258.16 374.77,258.69 374.98,259.23 375.2,259.79 375.41,260.35 375.55,260.72 375.7,261.11 375.84,261.5 375.98,261.89 376.13,262.28 376.27,262.68 376.41,263.09 376.56,263.5 376.7,263.92 376.84,264.34 376.99,264.76 377.13,265.19 377.27,265.63 377.41,266.07 377.56,266.52 377.7,266.97 377.84,267.43 377.99,267.89 378.13,268.36 378.27,268.84 378.42,269.32 378.56,269.81 378.7,270.31 378.85,270.81 378.99,271.32 379.13,271.83 379.27,272.36 379.42,272.89 379.56,273.42 379.7,273.97 379.85,274.52 379.99,275.08 380.13,275.65 380.28,276.23 380.42,276.81 380.56,277.41 380.71,278.01 380.85,278.62 380.99,279.24 381.13,279.87 381.28,280.51 381.42,281.16 381.56,281.82 381.71,282.49 381.85,283.18 381.99,283.87 382.14,284.57 382.28,285.29 382.42,286.02 382.57,286.75 382.71,287.51 382.85,288.27 383,289.05 383.07,289.44 383.14,289.84 383.21,290.24 383.28,290.64 383.35,291.05 383.42,291.46 383.5,291.88 383.57,292.3 383.64,292.72 383.71,293.15 383.78,293.58 383.85,294.01 383.93,294.45 384,294.89 384.07,295.34 384.14,295.79 384.21,296.24 384.28,296.7 384.35,297.16 384.43,297.63 384.5,298.1 384.57,298.58 384.64,299.06 384.71,299.55 384.78,300.04 384.86,300.53 384.93,301.03 385,301.54 385.07,302.05 385.14,302.57 385.21,303.09 385.28,303.61 385.36,304.14 385.43,304.68 385.5,305.22 385.57,305.77 385.64,306.32 385.71,306.88 385.79,307.45 385.86,308.02 385.93,308.6 386,309.18 386.07,309.77 386.14,310.37 386.22,310.97 386.29,311.58 386.36,312.19 386.43,312.82 386.5,313.45 386.57,314.08 386.64,314.73 386.72,315.38 386.79,316.04 386.86,316.7 386.93,317.38 387,318.06 387.07,318.75 387.15,319.45 387.22,320.15 387.29,320.87 387.36,321.59 387.43,322.32 387.5,323.06 387.57,323.81 387.65,324.57 387.72,325.34 387.79,326.12 387.86,326.91 387.93,327.7 388,328.51 388.08,329.33 388.15,330.16 388.22,331 388.29,331.85 388.36,332.71 388.43,333.58 388.5,334.47 388.58,335.37 388.65,336.27 388.72,337.2 388.79,338.13 388.86,339.08 388.93,340.04 389.01,341.01 389.08,342 389.15,343 389.22,344.02 389.29,345.05 389.36,346.09 389.43,347.15 389.51,348.23 389.58,349.32 389.65,350.43 389.72,351.56 389.79,352.7 389.86,353.86 389.94,355.04 390.01,356.24 390.08,357.45 390.15,358.69 390.22,359.95 390.29,361.22 390.36,362.52 390.44,363.84 390.51,365.18 390.58,366.54 390.65,367.92 390.72,369.33 390.79,370.76 390.87,372.22 390.94,373.7 391.01,375.21 391.08,376.75 391.15,378.31 391.22,379.91 391.3,381.53 391.37,383.18 391.44,384.86 391.51,386.57 391.58,388.32 391.65,390.1 391.72,391.91 391.8,393.76 391.87,395.65 391.94,397.57 392.01,399.54 392.08,401.54 392.15,403.58 392.23,405.67 392.3,407.8 392.37,409.98 392.44,412.2 392.51,414.47 392.58,416.79 392.65,419.17 392.73,421.6 392.8,424.08 392.87,426.62 392.94,429.21M405.18,-12.28 405.25,-9.71 405.32,-7.2 405.39,-4.74 405.46,-2.34 405.53,0.01 405.61,2.31 405.68,4.56 405.75,6.76 405.82,8.91 405.89,11.02 405.96,13.09 406.03,15.12 406.11,17.1 406.18,19.05 406.25,20.96 406.32,22.83 406.39,24.66 406.46,26.46 406.54,28.23 406.61,29.96 406.68,31.66 406.75,33.33 406.82,34.97 406.89,36.57 406.96,38.16 407.04,39.71 407.11,41.23 407.18,42.73 407.25,44.2 407.32,45.65 407.39,47.08 407.47,48.48 407.54,49.85 407.61,51.21 407.68,52.54 407.75,53.85 407.82,55.14 407.89,56.4 407.97,57.65 408.04,58.88 408.11,60.09 408.18,61.28 408.25,62.46 408.32,63.61 408.4,64.75 408.47,65.87 408.54,66.97 408.61,68.06 408.68,69.13 408.75,70.19 408.82,71.23 408.9,72.26 408.97,73.27 409.04,74.27 409.11,75.25 409.18,76.22 409.25,77.18 409.33,78.12 409.4,79.05 409.47,79.97 409.54,80.88 409.61,81.77 409.68,82.66 409.76,83.53 409.83,84.39 409.9,85.24 409.97,86.07 410.04,86.9 410.11,87.72 410.18,88.52 410.26,89.32 410.33,90.11 410.4,90.89 410.47,91.65 410.54,92.41 410.61,93.16 410.69,93.9 410.76,94.63 410.83,95.36 410.9,96.07 410.97,96.78 411.04,97.47 411.11,98.16 411.19,98.85 411.26,99.52 411.33,100.19 411.4,100.85 411.47,101.5 411.54,102.14 411.62,102.78 411.69,103.41 411.76,104.03 411.83,104.65 411.9,105.26 411.97,105.86 412.04,106.46 412.12,107.05 412.19,107.64 412.26,108.22 412.33,108.79 412.4,109.36 412.47,109.92 412.55,110.47 412.62,111.02 412.69,111.57 412.76,112.1 412.83,112.64 412.9,113.17 412.97,113.69 413.05,114.21 413.12,114.72 413.19,115.23 413.26,115.73 413.33,116.23 413.4,116.72 413.48,117.21 413.55,117.69 413.62,118.17 413.69,118.65 413.76,119.12 413.83,119.58 413.9,120.05 413.98,120.5 414.05,120.96 414.12,121.41 414.19,121.85 414.26,122.29 414.33,122.73 414.41,123.16 414.48,123.59 414.55,124.02 414.62,124.44 414.69,124.86 414.76,125.28 414.84,125.69 414.91,126.1 414.98,126.5 415.05,126.9 415.12,127.3 415.19,127.7 415.34,128.47 415.48,129.24 415.62,129.99 415.77,130.74 415.91,131.47 416.05,132.19 416.19,132.89 416.34,133.59 416.48,134.28 416.62,134.95 416.77,135.62 416.91,136.27 417.05,136.92 417.2,137.55 417.34,138.18 417.48,138.8 417.63,139.41 417.77,140.01 417.91,140.6 418.05,141.19 418.2,141.76 418.34,142.33 418.48,142.89 418.63,143.45 418.77,143.99 418.91,144.53 419.06,145.06 419.2,145.59 419.34,146.11 419.49,146.62 419.63,147.13 419.77,147.62 419.92,148.12 420.06,148.61 420.2,149.09 420.34,149.56 420.49,150.03 420.63,150.5 420.77,150.96 420.92,151.41 421.06,151.86 421.2,152.3 421.35,152.74 421.49,153.17 421.63,153.6 421.78,154.03 421.92,154.45 422.06,154.86 422.2,155.27 422.35,155.68 422.49,156.08 422.63,156.48 422.78,156.87 422.92,157.26 423.06,157.65 423.21,158.03 423.35,158.41 423.49,158.78 423.71,159.34 423.92,159.88 424.14,160.42 424.35,160.95 424.57,161.48 424.78,162 425,162.5 425.21,163.01 425.42,163.5 425.64,163.99 425.85,164.48 426.07,164.95 426.28,165.43 426.5,165.89 426.71,166.35 426.93,166.81 427.14,167.25 427.36,167.7 427.57,168.14 427.79,168.57 428,169 428.21,169.42 428.43,169.84 428.64,170.26 428.86,170.67 429.07,171.07 429.29,171.48 429.5,171.87 429.72,172.27 429.93,172.66 430.15,173.04 430.36,173.43 430.58,173.8 430.79,174.18 431.01,174.55 431.22,174.92 431.43,175.28 431.65,175.65 431.86,176 432.08,176.36 432.29,176.71 432.51,177.06 432.72,177.41 432.94,177.75 433.15,178.09 433.37,178.43 433.65,178.88 433.94,179.32 434.23,179.76 434.51,180.2 434.8,180.63 435.08,181.06 435.37,181.48 435.66,181.9 435.94,182.31 436.23,182.73 436.51,183.14 436.8,183.54 437.09,183.95 437.37,184.35 437.66,184.74 437.95,185.14 438.23,185.53 438.52,185.92 438.8,186.31 439.09,186.69 439.38,187.08 439.66,187.46 439.95,187.83 440.24,188.21 440.52,188.59 440.81,188.96 441.09,189.33 441.38,189.7 441.67,190.07 441.95,190.44 442.24,190.8 442.52,191.17 442.81,191.53 443.1,191.89 443.38,192.25 443.67,192.61 443.96,192.97 444.24,193.33 444.53,193.69 444.81,194.04 445.1,194.4 445.39,194.76 445.67,195.11 445.96,195.47 446.25,195.82 446.53,196.17 446.82,196.53 447.1,196.88 447.39,197.24 447.68,197.59 447.96,197.95 448.25,198.3 448.54,198.66 448.82,199.01 449.11,199.37 449.39,199.72 449.68,200.08 449.97,200.44 450.25,200.8 450.54,201.16 450.82,201.52 451.11,201.88 451.4,202.24 451.68,202.6 451.97,202.97 452.26,203.33 452.54,203.7 452.83,204.07 453.11,204.44 453.4,204.81 453.69,205.18 453.97,205.56 454.26,205.94 454.55,206.31 454.83,206.7 455.12,207.08 455.4,207.46 455.69,207.85 455.98,208.24 456.26,208.63 456.55,209.03 456.83,209.43 457.12,209.83 457.41,210.23 457.69,210.64 457.98,211.05 458.27,211.46 458.55,211.88 458.84,212.3 459.12,212.72 459.41,213.15 459.7,213.58 459.98,214.01 460.27,214.45 460.56,214.9 460.84,215.35 461.06,215.69 461.27,216.03 461.49,216.37 461.7,216.72 461.91,217.07 462.13,217.42 462.34,217.78 462.56,218.14 462.77,218.5 462.99,218.87 463.2,219.24 463.42,219.61 463.63,219.98 463.85,220.36 464.06,220.75 464.28,221.13 464.49,221.52 464.71,221.92 464.92,222.32 465.13,222.72 465.35,223.13 465.56,223.54 465.78,223.95 465.99,224.37 466.21,224.8 466.42,225.23 466.64,225.66 466.85,226.1 467.07,226.55 467.28,227 467.5,227.45 467.71,227.91 467.93,228.38 468.14,228.85 468.35,229.33 468.57,229.81 468.78,230.3 469,230.8 469.21,231.31 469.43,231.82 469.64,232.33 469.86,232.86 470.07,233.39 470.29,233.93 470.5,234.48 470.72,235.04 470.86,235.41 471,235.79 471.14,236.17 471.29,236.56 471.43,236.95 471.57,237.34 471.72,237.74 471.86,238.14 472,238.55 472.15,238.96 472.29,239.38 472.43,239.8 472.58,240.22 472.72,240.65 472.86,241.09 473.01,241.53 473.15,241.97 473.29,242.42 473.43,242.88 473.58,243.34 473.72,243.8 473.86,244.27 474.01,244.75 474.15,245.23 474.29,245.72 474.44,246.21 474.58,246.71 474.72,247.22 474.87,247.73 475.01,248.25 475.15,248.77 475.29,249.31 475.44,249.85 475.58,250.39 475.72,250.95 475.87,251.51 476.01,252.08 476.15,252.65 476.3,253.24 476.44,253.83 476.58,254.43 476.73,255.04 476.87,255.66 477.01,256.29 477.16,256.92 477.3,257.57 477.44,258.22 477.58,258.89 477.73,259.56 477.87,260.25 478.01,260.94 478.16,261.65 478.3,262.37 478.44,263.1 478.59,263.84 478.73,264.59 478.87,265.36 479.02,266.13 479.09,266.53 479.16,266.92 479.23,267.32 479.3,267.73 479.37,268.13 479.44,268.54 479.52,268.96 479.59,269.38 479.66,269.8 479.73,270.22 479.8,270.65 479.87,271.08 479.95,271.52 480.02,271.96 480.09,272.4 480.16,272.85 480.23,273.3 480.3,273.76 480.37,274.22 480.45,274.68 480.52,275.15 480.59,275.62 480.66,276.1 480.73,276.58 480.8,277.07 480.88,277.56 480.95,278.06 481.02,278.56 481.09,279.06 481.16,279.57 481.23,280.09 481.31,280.61 481.38,281.13 481.45,281.66 481.52,282.2 481.59,282.74 481.66,283.28 481.73,283.84 481.81,284.39 481.88,284.96 481.95,285.52 482.02,286.1 482.09,286.68 482.16,287.27 482.24,287.86 482.31,288.46 482.38,289.06 482.45,289.68 482.52,290.29 482.59,290.92 482.66,291.55 482.74,292.19 482.81,292.84 482.88,293.49 482.95,294.15 483.02,294.82 483.09,295.49 483.17,296.18 483.24,296.87 483.31,297.57 483.38,298.27 483.45,298.99 483.52,299.71 483.59,300.45 483.67,301.19 483.74,301.94 483.81,302.69 483.88,303.46 483.95,304.24 484.02,305.03 484.1,305.82 484.17,306.63 484.24,307.45 484.31,308.27 484.38,309.11 484.45,309.96 484.52,310.82 484.6,311.69 484.67,312.57 484.74,313.46 484.81,314.37 484.88,315.29 484.95,316.21 485.03,317.16 485.1,318.11 485.17,319.08 485.24,320.06 485.31,321.05 485.38,322.06 485.45,323.09 485.53,324.12 485.6,325.18 485.67,326.24 485.74,327.33 485.81,328.43 485.88,329.54 485.96,330.67 486.03,331.82 486.1,332.99 486.17,334.17 486.24,335.38 486.31,336.6 486.39,337.84 486.46,339.1 486.53,340.38 486.6,341.68 486.67,343 486.74,344.34 486.81,345.71 486.89,347.1 486.96,348.51 487.03,349.94 487.1,351.4 487.17,352.88 487.24,354.39 487.32,355.93 487.39,357.49 487.46,359.08 487.53,360.7 487.6,362.35 487.67,364.03 487.74,365.74 487.82,367.49 487.89,369.26 487.96,371.07 488.03,372.91 488.1,374.79 488.17,376.71 488.25,378.66 488.32,380.66 488.39,382.69 488.46,384.77 488.53,386.89 488.6,389.05 488.67,391.26 488.75,393.51 488.82,395.81 488.89,398.17 488.96,400.57 489.03,403.03 489.1,405.55 489.18,408.12 489.25,410.75 489.32,413.45 489.39,416.2 489.46,419.03 489.53,421.92 489.6,424.88 489.68,427.91M502.48,-13.68 502.56,-11.68 502.63,-9.72 502.7,-7.8 502.77,-5.91 502.84,-4.06 502.91,-2.25 502.98,-0.47 503.06,1.28 503.13,3 503.2,4.68 503.27,6.34 503.34,7.96 503.41,9.56 503.49,11.12 503.56,12.66 503.63,14.18 503.7,15.66 503.77,17.13 503.84,18.56 503.91,19.98 503.99,21.37 504.06,22.73 504.13,24.08 504.2,25.4 504.27,26.7 504.34,27.99 504.42,29.25 504.49,30.49 504.56,31.71 504.63,32.91 504.7,34.1 504.77,35.27 504.84,36.41 504.92,37.55 504.99,38.66 505.06,39.76 505.13,40.84 505.2,41.91 505.27,42.96 505.35,44 505.42,45.02 505.49,46.03 505.56,47.03 505.63,48.01 505.7,48.97 505.78,49.93 505.85,50.87 505.92,51.79 505.99,52.71 506.06,53.61 506.13,54.5 506.2,55.38 506.28,56.25 506.35,57.11 506.42,57.95 506.49,58.79 506.56,59.61 506.63,60.43 506.71,61.23 506.78,62.03 506.85,62.81 506.92,63.58 506.99,64.35 507.06,65.11 507.13,65.85 507.21,66.59 507.28,67.32 507.35,68.04 507.42,68.75 507.49,69.45 507.56,70.15 507.64,70.84 507.71,71.52 507.78,72.19 507.85,72.85 507.92,73.51 507.99,74.16 508.06,74.8 508.14,75.44 508.21,76.06 508.28,76.68 508.35,77.3 508.42,77.91 508.49,78.51 508.57,79.1 508.64,79.69 508.71,80.27 508.78,80.85 508.85,81.42 508.92,81.98 508.99,82.54 509.07,83.09 509.14,83.64 509.21,84.18 509.28,84.71 509.35,85.24 509.42,85.77 509.5,86.29 509.57,86.8 509.64,87.31 509.71,87.82 509.78,88.32 509.85,88.81 509.93,89.3 510,89.79 510.07,90.27 510.14,90.74 510.21,91.21 510.28,91.68 510.35,92.14 510.43,92.6 510.5,93.06 510.57,93.51 510.64,93.95 510.71,94.39 510.78,94.83 510.86,95.26 510.93,95.69 511,96.12 511.07,96.54 511.14,96.96 511.21,97.37 511.28,97.78 511.36,98.19 511.43,98.59 511.5,98.99 511.57,99.39 511.71,100.17 511.86,100.94 512,101.7 512.14,102.44 512.29,103.18 512.43,103.9 512.57,104.6 512.72,105.3 512.86,105.99 513,106.66 513.14,107.32 513.29,107.98 513.43,108.62 513.57,109.25 513.72,109.88 513.86,110.49 514,111.1 514.15,111.69 514.29,112.28 514.43,112.86 514.58,113.43 514.72,113.99 514.86,114.55 515.01,115.09 515.15,115.63 515.29,116.16 515.43,116.69 515.58,117.2 515.72,117.71 515.86,118.21 516.01,118.71 516.15,119.2 516.29,119.68 516.44,120.16 516.58,120.63 516.72,121.09 516.87,121.55 517.01,122 517.15,122.45 517.29,122.89 517.44,123.32 517.58,123.75 517.72,124.18 517.87,124.6 518.01,125.01 518.15,125.42 518.3,125.83 518.44,126.22 518.58,126.62 518.73,127.01 518.87,127.39 519.01,127.78 519.15,128.15 519.37,128.71 519.58,129.26 519.8,129.79 520.01,130.32 520.23,130.84 520.44,131.35 520.66,131.86 520.87,132.35 521.09,132.84 521.3,133.32 521.52,133.79 521.73,134.25 521.95,134.71 522.16,135.16 522.37,135.6 522.59,136.04 522.8,136.47 523.02,136.89 523.23,137.31 523.45,137.72 523.66,138.13 523.88,138.53 524.09,138.92 524.31,139.31 524.52,139.69 524.74,140.07 524.95,140.44 525.17,140.81 525.38,141.17 525.59,141.53 525.81,141.88 526.02,142.23 526.24,142.58 526.45,142.91 526.74,143.36 527.03,143.8 527.31,144.23 527.6,144.65 527.88,145.07 528.17,145.48 528.46,145.88 528.74,146.27 529.03,146.66 529.32,147.05 529.6,147.42 529.89,147.8 530.17,148.16 530.46,148.52 530.75,148.88 531.03,149.23 531.32,149.57 531.6,149.91 531.89,150.24 532.18,150.57 532.46,150.9 532.75,151.22 533.04,151.53 533.32,151.84 533.61,152.15 533.89,152.45 534.18,152.75 534.47,153.04 534.75,153.33 535.04,153.62 535.33,153.9 535.68,154.25 536.04,154.59 536.4,154.93 536.76,155.26 537.11,155.59 537.47,155.91 537.83,156.22 538.19,156.53 538.55,156.84 538.9,157.14 539.26,157.44 539.62,157.73 539.98,158.02 540.33,158.31 540.69,158.59 541.05,158.86 541.41,159.13 541.76,159.4 542.12,159.67 542.48,159.93 542.84,160.19 543.2,160.44 543.55,160.69 543.91,160.94 544.27,161.18 544.63,161.42 544.98,161.66 545.34,161.89 545.7,162.12 546.06,162.35 546.42,162.58 546.77,162.8 547.13,163.02 547.49,163.24 547.85,163.45 548.2,163.66 548.56,163.87 548.92,164.08 549.28,164.28 549.64,164.49 549.99,164.69 550.35,164.88 550.71,165.08 551.07,165.27 551.42,165.46 551.78,165.65 552.14,165.84 552.5,166.02 552.86,166.2 553.21,166.38 553.64,166.59 554.07,166.81 554.5,167.01 554.93,167.22 555.36,167.42 555.79,167.62 556.22,167.82 556.65,168.01 557.08,168.21 557.51,168.4 557.94,168.58 558.36,168.77 558.79,168.95 559.22,169.13 559.65,169.31 560.08,169.49 560.51,169.67 560.94,169.84 561.37,170.01 561.8,170.18 562.23,170.35 562.66,170.51 563.09,170.68 563.52,170.84 563.95,171 564.37,171.15 564.8,171.31 565.23,171.47 565.66,171.62 566.09,171.77 566.52,171.92 566.95,172.07 567.38,172.22 567.81,172.36 568.24,172.5 568.67,172.65 569.1,172.79 569.53,172.93 569.96,173.06 570.38,173.2 570.81,173.34 571.24,173.47 571.67,173.6 572.1,173.73 572.53,173.86 572.96,173.99 573.39,174.12 573.82,174.25 574.25,174.37 574.68,174.5 575.11,174.62 575.54,174.74 575.97,174.86 576.39,174.98 576.82,175.1 577.25,175.22 577.68,175.33 578.11,175.45 578.54,175.56 578.97,175.68 579.4,175.79 579.83,175.9 580.26,176.01 580.69,176.12 581.12,176.23 581.55,176.34 581.98,176.44 582.41,176.55 582.83,176.65 583.26,176.76 583.69,176.86 584.12,176.96 584.55,177.06 584.98,177.17 585.41,177.26 585.84,177.36 586.27,177.46 586.7,177.56 587.13,177.66 587.56,177.75 587.99,177.85 588.42,177.94 588.84,178.03 589.27,178.13 589.7,178.22 590.13,178.31 590.56,178.4 590.99,178.49 591.42,178.58 591.85,178.67 592.28,178.76 592.71,178.85 593.14,178.93 593.57,179.02 594,179.1 594.43,179.19 594.85,179.27 595.28,179.36 595.71,179.44 596.14,179.52 596.57,179.6 597,179.69 597.43,179.77 597.86,179.85 598.29,179.93 598.72,180 599.15,180.08 599.58,180.16 600.01,180.24 600.44,180.31 600.87,180.39 601.29,180.47 601.72,180.54 602.15,180.62 602.58,180.69 603.01,180.76 603.44,180.84 603.87,180.91 604.3,180.98 604.73,181.05 605.16,181.13 605.59,181.2 606.02,181.27 606.45,181.34 606.88,181.41 607.3,181.48 607.73,181.54 608.16,181.61 608.59,181.68 609.02,181.75 609.45,181.81 609.88,181.88 610.31,181.95 610.74,182.01 611.17,182.08 611.6,182.14 612.03,182.21 612.46,182.27 612.89,182.34 613.31,182.4 613.74,182.46 614.17,182.52 614.6,182.59 615.03,182.65 615.46,182.71 615.89,182.77 616.32,182.83 616.75,182.89 617.18,182.95 617.25,182.96M173.9,600L174.0,162M467.3,257.9L467.4,139.4" fill="none" stroke="#5ba72b" stroke-width="1.8" stroke-linejoin="round"/></g>
<polyline points="44.85,234.43 45.49,234.55 46.14,234.66 46.78,234.78 47.43,234.89 48.07,235.01 48.71,235.13 49.36,235.25 50,235.38 50.65,235.5 51.29,235.63 51.93,235.75 52.58,235.88 53.22,236.01 53.87,236.14 54.51,236.27 55.15,236.4 55.8,236.54 56.44,236.67 57.09,236.81 57.73,236.95 58.37,237.09 59.02,237.24 59.66,237.38 60.3,237.53 60.95,237.67 61.59,237.82 62.24,237.97 62.88,238.13 63.52,238.28 64.17,238.44 64.81,238.6 65.46,238.76 66.1,238.92 66.74,239.09 67.39,239.26 68.03,239.42 68.68,239.6 69.32,239.77 69.96,239.95 70.61,240.12 71.25,240.31 71.9,240.49 72.54,240.67 73.18,240.86 73.83,241.05 74.47,241.25 75.12,241.44 75.76,241.64 76.4,241.85 76.98,242.03 77.55,242.21 78.12,242.4 78.69,242.59 79.27,242.78 79.84,242.98 80.41,243.17 80.98,243.37 81.56,243.58 82.13,243.78 82.7,243.99 83.27,244.2 83.84,244.42 84.42,244.64 84.99,244.86 85.56,245.08 86.13,245.31 86.71,245.54 87.28,245.77 87.85,246.01 88.42,246.25 89,246.5 89.57,246.75 90.14,247 90.71,247.26 91.29,247.52 91.86,247.79 92.43,248.06 93,248.34 93.58,248.62 94.15,248.9 94.72,249.19 95.29,249.48 95.87,249.78 96.44,250.09 97.01,250.4 97.58,250.72 98.15,251.04 98.73,251.37 99.3,251.7 99.87,252.05 100.44,252.39 101.02,252.75 101.59,253.11 102.16,253.48 102.73,253.86 103.23,254.19 103.74,254.54 104.24,254.89 104.74,255.24 105.24,255.6 105.74,255.97 106.24,256.35 106.74,256.73 107.24,257.12 107.74,257.52 108.24,257.93 108.74,258.34 109.25,258.77 109.75,259.2 110.25,259.65 110.75,260.1 111.25,260.56 111.75,261.03 112.25,261.51 112.68,261.94 113.11,262.37 113.54,262.81 113.97,263.26 114.4,263.72 114.83,264.18 115.26,264.66 115.68,265.15 116.11,265.65 116.54,266.16 116.97,266.68 117.4,267.21 117.83,267.75 118.26,268.31 118.69,268.88 119.05,269.36 119.41,269.86 119.76,270.36 120.12,270.88 120.48,271.4 120.84,271.94 121.19,272.49 121.55,273.05 121.91,273.62 122.27,274.2 122.62,274.8 122.98,275.41 123.34,276.03 123.7,276.67 124.06,277.32 124.34,277.86 124.63,278.4 124.91,278.96 125.2,279.52 125.49,280.1 125.77,280.69 126.06,281.29 126.35,281.9 126.63,282.53 126.92,283.16 127.2,283.82 127.49,284.48 127.78,285.16 128.06,285.86 128.35,286.57 128.64,287.29 128.92,288.04 129.14,288.61 129.35,289.19 129.57,289.77 129.78,290.37 129.99,290.98 130.21,291.6 130.42,292.24 130.64,292.88 130.85,293.54 131.07,294.2 131.28,294.89 131.5,295.58 131.71,296.29 131.93,297.01 132.14,297.74 132.36,298.5 132.57,299.26 132.78,300.04 133,300.84 133.21,301.66 133.43,302.49 133.64,303.34 133.86,304.21 134,304.8 134.14,305.4 134.29,306 134.43,306.62 134.57,307.25 134.72,307.88 134.86,308.53 135,309.18 135.15,309.85 135.29,310.52 135.43,311.21 135.58,311.91 135.72,312.62 135.86,313.34 136,314.07 136.15,314.81 136.29,315.57 136.43,316.34 136.58,317.12 136.72,317.92 136.86,318.73 137.01,319.55 137.15,320.39 137.29,321.25 137.44,322.12 137.58,323 137.72,323.9 137.87,324.82 138.01,325.76 138.15,326.71 138.29,327.68 138.44,328.67 138.58,329.68 138.72,330.71 138.87,331.76 139.01,332.83 139.15,333.93 139.3,335.04 139.44,336.18 139.58,337.34 139.73,338.53 139.8,339.13 139.87,339.74 139.94,340.36 140.01,340.98 140.08,341.61 140.15,342.25 140.23,342.89 140.3,343.54 140.37,344.2 140.44,344.87 140.51,345.54 140.58,346.22 140.66,346.91 140.73,347.61 140.8,348.31 140.87,349.03 140.94,349.75 141.01,350.48 141.08,351.22 141.16,351.96 141.23,352.72 141.3,353.49 141.37,354.26 141.44,355.05 141.51,355.84 141.59,356.64 141.66,357.46 141.73,358.28 141.8,359.12 141.87,359.96 141.94,360.82 142.01,361.69 142.09,362.57 142.16,363.46 142.23,364.36 142.3,365.27 142.37,366.2 142.44,367.14 142.52,368.09 142.59,369.05 142.66,370.03 142.73,371.02 142.8,372.03 142.87,373.05 142.95,374.08 143.02,375.13 143.09,376.19 143.16,377.27 143.23,378.37 143.3,379.48 143.37,380.6 143.45,381.75 143.52,382.91 143.59,384.09 143.66,385.28 143.73,386.5 143.8,387.73 143.88,388.99 143.95,390.26 144.02,391.55 144.09,392.87 144.16,394.2 144.23,395.56 144.3,396.94" fill="none" stroke="none" marker-start="url(#mg)" marker-mid="url(#mg)" marker-end="url(#mg)"/>
<polyline points="159.69,21.78 159.76,24.02 159.83,26.22 159.9,28.37 159.97,30.48 160.05,32.54 160.12,34.57 160.19,36.56 160.26,38.5 160.33,40.41 160.4,42.29 160.47,44.13 160.55,45.93 160.62,47.7 160.69,49.44 160.76,51.15 160.83,52.82 160.9,54.47 160.98,56.09 161.05,57.68 161.12,59.24 161.19,60.78 161.26,62.29 161.33,63.77 161.4,65.23 161.48,66.67 161.55,68.08 161.62,69.47 161.69,70.84 161.76,72.18 161.83,73.51 161.91,74.81 161.98,76.09 162.05,77.35 162.12,78.6 162.19,79.82 162.26,81.03 162.34,82.22 162.41,83.39 162.48,84.54 162.55,85.68 162.62,86.8 162.69,87.9 162.76,88.99 162.84,90.06 162.91,91.12 162.98,92.16 163.05,93.19 163.12,94.21 163.19,95.21 163.27,96.19 163.34,97.17 163.41,98.13 163.48,99.07 163.55,100.01 163.62,100.93 163.69,101.84 163.77,102.74 163.84,103.63 163.91,104.51 163.98,105.37 164.05,106.23 164.12,107.07 164.2,107.91 164.27,108.73 164.34,109.54 164.41,110.35 164.48,111.14 164.55,111.92 164.62,112.7 164.7,113.47 164.77,114.22 164.84,114.97 164.91,115.71 164.98,116.44 165.05,117.16 165.13,117.88 165.2,118.58 165.27,119.28 165.34,119.97 165.41,120.66 165.48,121.33 165.55,122 165.63,122.66 165.7,123.31 165.77,123.96 165.84,124.6 165.91,125.23 165.98,125.86 166.06,126.48 166.13,127.09 166.2,127.7 166.27,128.3 166.41,129.48 166.56,130.64 166.7,131.78 166.84,132.89 166.99,133.98 167.13,135.05 167.27,136.1 167.42,137.13 167.56,138.14 167.7,139.14 167.84,140.11 167.99,141.07 168.13,142.01 168.27,142.93 168.42,143.84 168.56,144.73 168.7,145.61 168.85,146.47 168.99,147.32 169.13,148.15 169.28,148.97 169.42,149.78 169.56,150.57 169.7,151.35 169.85,152.12 169.99,152.88 170.13,153.62 170.28,154.36 170.42,155.08 170.56,155.79 170.71,156.49 170.85,157.18 170.99,157.86 171.14,158.53 171.28,159.2 171.42,159.85 171.57,160.49 171.71,161.13 171.85,161.75 171.99,162.37 172.14,162.98 172.28,163.58 172.42,164.17 172.57,164.76 172.78,165.62 173,166.47 173.21,167.3 173.43,168.11 173.64,168.91 173.85,169.7 174.07,170.47 174.28,171.23 174.5,171.98 174.71,172.71 174.93,173.43 175.14,174.14 175.36,174.84 175.57,175.52 175.79,176.2 176,176.86 176.22,177.52 176.43,178.16 176.65,178.8 176.86,179.42 177.07,180.04 177.29,180.64 177.5,181.24 177.72,181.83 177.93,182.42 178.15,182.99 178.36,183.56 178.65,184.3 178.93,185.03 179.22,185.75 179.51,186.46 179.79,187.15 180.08,187.84 180.37,188.51 180.65,189.17 180.94,189.83 181.22,190.47 181.51,191.11 181.8,191.73 182.08,192.35 182.37,192.96 182.66,193.56 182.94,194.15 183.23,194.74 183.51,195.32 183.8,195.89 184.09,196.46 184.37,197.02 184.66,197.57 184.94,198.12 185.23,198.66 185.52,199.19 185.8,199.72 186.16,200.38 186.52,201.03 186.88,201.67 187.23,202.3 187.59,202.93 187.95,203.55 188.31,204.16 188.67,204.77 189.02,205.38 189.38,205.97 189.74,206.57 190.1,207.16 190.45,207.74 190.81,208.33 191.17,208.9 191.53,209.48 191.89,210.05 192.24,210.62 192.6,211.19 192.96,211.75 193.32,212.31 193.67,212.87 194.03,213.43 194.39,213.98 194.75,214.54 195.11,215.09 195.46,215.65 195.82,216.2 196.18,216.75 196.54,217.3 196.89,217.86 197.25,218.41 197.61,218.96 197.97,219.52 198.32,220.07 198.68,220.63 199.04,221.19 199.4,221.75 199.76,222.31 200.11,222.87 200.47,223.44 200.83,224 201.19,224.58 201.54,225.15 201.9,225.73 202.26,226.31 202.62,226.89 202.98,227.48 203.33,228.08 203.69,228.68 204.05,229.28 204.41,229.89 204.76,230.5 205.12,231.12 205.48,231.75 205.84,232.39 206.2,233.03 206.55,233.67 206.91,234.33 207.2,234.86 207.48,235.4 207.77,235.94 208.06,236.48 208.34,237.04 208.63,237.6 208.91,238.16 209.2,238.73 209.49,239.31 209.77,239.9 210.06,240.5 210.35,241.1 210.63,241.71 210.92,242.33 211.2,242.96 211.49,243.59 211.78,244.24 212.06,244.89 212.35,245.56 212.63,246.24 212.92,246.92 213.21,247.62 213.49,248.33 213.78,249.06 214.07,249.79 214.35,250.54 214.57,251.11 214.78,251.69 215,252.27 215.21,252.87 215.43,253.47 215.64,254.09 215.85,254.71 216.07,255.34 216.28,255.98 216.5,256.63 216.71,257.29 216.93,257.96 217.14,258.65 217.36,259.34 217.57,260.05 217.79,260.76 218,261.49 218.22,262.24 218.43,262.99 218.64,263.76 218.86,264.55 219.07,265.35 219.29,266.16 219.5,266.99 219.72,267.84 219.93,268.7 220.08,269.29 220.22,269.88 220.36,270.48 220.51,271.09 220.65,271.71 220.79,272.34 220.93,272.97 221.08,273.62 221.22,274.27 221.36,274.94 221.51,275.61 221.65,276.29 221.79,276.99 221.94,277.69 222.08,278.41 222.22,279.13 222.37,279.87 222.51,280.62 222.65,281.38 222.79,282.16 222.94,282.95 223.08,283.75 223.22,284.56 223.37,285.39 223.51,286.23 223.65,287.09 223.8,287.96 223.94,288.84 224.08,289.75 224.23,290.67 224.37,291.6 224.51,292.56 224.66,293.53 224.8,294.52 224.94,295.53 225.08,296.56 225.23,297.61 225.37,298.68 225.51,299.77 225.66,300.88 225.8,302.02 225.94,303.18 226.09,304.37 226.16,304.97 226.23,305.58 226.3,306.19 226.37,306.82 226.44,307.44 226.52,308.08 226.59,308.72 226.66,309.37 226.73,310.03 226.8,310.69 226.87,311.37 226.94,312.05 227.02,312.73 227.09,313.43 227.16,314.13 227.23,314.85 227.3,315.57 227.37,316.3 227.45,317.03 227.52,317.78 227.59,318.54 227.66,319.3 227.73,320.07 227.8,320.86 227.87,321.65 227.95,322.46 228.02,323.27 228.09,324.09 228.16,324.93 228.23,325.78 228.3,326.63 228.38,327.5 228.45,328.38 228.52,329.27 228.59,330.17 228.66,331.09 228.73,332.02 228.81,332.96 228.88,333.91 228.95,334.88 229.02,335.86 229.09,336.85 229.16,337.86 229.23,338.88 229.31,339.92 229.38,340.97 229.45,342.04 229.52,343.12 229.59,344.23 229.66,345.34 229.74,346.48 229.81,347.63 229.88,348.79 229.95,349.98 230.02,351.19 230.09,352.41 230.16,353.66 230.24,354.92 230.31,356.2 230.38,357.51 230.45,358.84 230.52,360.19 230.59,361.56 230.67,362.95 230.74,364.37 230.81,365.82 230.88,367.28 230.95,368.78 231.02,370.3 231.09,371.85 231.17,373.42 231.24,375.03 231.31,376.66 231.38,378.33 231.45,380.02 231.52,381.75 231.6,383.51 231.67,385.31 231.74,387.14 231.81,389.01 231.88,390.91 231.95,392.85 232.02,394.83 232.1,396.86" fill="none" stroke="none" marker-start="url(#mg)" marker-mid="url(#mg)" marker-end="url(#mg)"/>
<polyline points="246.06,18.35 246.12,20.07 246.19,21.93 246.26,23.76 246.33,25.55 246.41,27.31 246.48,29.03 246.55,30.72 246.62,32.39 246.69,34.02 246.76,35.62 246.84,37.19 246.91,38.73 246.98,40.25 247.05,41.74 247.12,43.21 247.19,44.65 247.26,46.06 247.34,47.45 247.41,48.82 247.48,50.16 247.55,51.49 247.62,52.79 247.69,54.07 247.77,55.33 247.84,56.57 247.91,57.79 247.98,58.99 248.05,60.17 248.12,61.33 248.2,62.48 248.27,63.61 248.34,64.72 248.41,65.82 248.48,66.9 248.55,67.96 248.62,69.01 248.7,70.04 248.77,71.06 248.84,72.06 248.91,73.05 248.98,74.02 249.05,74.99 249.13,75.93 249.2,76.87 249.27,77.79 249.34,78.7 249.41,79.6 249.48,80.48 249.55,81.36 249.63,82.22 249.7,83.07 249.77,83.91 249.84,84.74 249.91,85.56 249.98,86.37 250.06,87.17 250.13,87.95 250.2,88.73 250.27,89.5 250.34,90.26 250.41,91.01 250.48,91.75 250.56,92.48 250.63,93.2 250.7,93.92 250.77,94.62 250.84,95.32 250.91,96.01 250.99,96.69 251.06,97.36 251.13,98.03 251.2,98.69 251.27,99.34 251.34,99.98 251.41,100.62 251.49,101.25 251.56,101.87 251.63,102.48 251.7,103.09 251.77,103.69 251.92,104.88 252.06,106.04 252.2,107.17 252.35,108.28 252.49,109.37 252.63,110.44 252.77,111.48 252.92,112.5 253.06,113.51 253.2,114.49 253.35,115.46 253.49,116.4 253.63,117.33 253.78,118.24 253.92,119.14 254.06,120.02 254.21,120.88 254.35,121.73 254.49,122.56 254.63,123.37 254.78,124.18 254.92,124.97 255.06,125.74 255.21,126.5 255.35,127.25 255.49,127.99 255.64,128.72 255.78,129.43 255.92,130.13 256.07,130.82 256.21,131.5 256.35,132.17 256.49,132.83 256.64,133.48 256.78,134.12 256.92,134.74 257.07,135.36 257.21,135.97 257.35,136.57 257.5,137.17 257.64,137.75 257.85,138.61 258.07,139.45 258.28,140.27 258.5,141.08 258.71,141.87 258.93,142.65 259.14,143.4 259.36,144.15 259.57,144.88 259.79,145.59 260,146.29 260.22,146.98 260.43,147.65 260.64,148.32 260.86,148.97 261.07,149.61 261.29,150.23 261.5,150.85 261.72,151.45 261.93,152.05 262.15,152.63 262.36,153.21 262.58,153.77 262.86,154.51 263.15,155.24 263.44,155.94 263.72,156.63 264.01,157.31 264.29,157.98 264.58,158.63 264.87,159.26 265.15,159.89 265.44,160.5 265.72,161.1 266.01,161.69 266.3,162.27 266.58,162.84 266.87,163.39 267.16,163.94 267.44,164.48 267.73,165 268.09,165.65 268.44,166.28 268.8,166.9 269.16,167.51 269.52,168.1 269.87,168.68 270.23,169.25 270.59,169.81 270.95,170.36 271.31,170.9 271.66,171.43 272.02,171.95 272.38,172.45 272.74,172.95 273.09,173.44 273.45,173.92 273.88,174.49 274.31,175.05 274.74,175.59 275.17,176.13 275.6,176.65 276.03,177.16 276.46,177.67 276.89,178.16 277.32,178.65 277.75,179.12 278.17,179.59 278.6,180.05 279.03,180.5 279.46,180.95 279.89,181.39 280.32,181.82 280.75,182.24 281.25,182.73 281.75,183.2 282.25,183.67 282.75,184.13 283.25,184.59 283.76,185.03 284.26,185.47 284.76,185.9 285.26,186.33 285.76,186.75 286.26,187.16 286.76,187.56 287.26,187.96 287.76,188.36 288.26,188.74 288.76,189.13 289.26,189.51 289.77,189.88 290.27,190.25 290.77,190.61 291.27,190.97 291.77,191.33 292.27,191.68 292.77,192.02 293.27,192.37 293.77,192.71 294.27,193.04 294.77,193.37 295.35,193.75 295.92,194.12 296.49,194.49 297.06,194.85 297.64,195.21 298.21,195.56 298.78,195.92 299.35,196.26 299.93,196.61 300.5,196.95 301.07,197.29 301.64,197.63 302.22,197.96 302.79,198.29 303.36,198.62 303.93,198.95 304.5,199.27 305.08,199.59 305.65,199.91 306.22,200.23 306.79,200.54 307.37,200.86 307.94,201.17 308.51,201.48 309.08,201.79 309.66,202.1 310.23,202.4 310.8,202.71 311.37,203.01 311.95,203.31 312.52,203.62 313.09,203.92 313.66,204.22 314.24,204.52 314.81,204.81 315.38,205.11 315.95,205.41 316.53,205.71 317.1,206 317.67,206.3 318.24,206.6 318.81,206.89 319.39,207.19 319.96,207.49 320.53,207.78 321.1,208.08 321.68,208.38 322.25,208.67 322.82,208.97 323.39,209.27 323.97,209.57 324.54,209.87 325.11,210.17 325.68,210.47 326.26,210.77 326.83,211.07 327.4,211.38 327.97,211.68 328.55,211.99 329.12,212.3 329.69,212.61 330.26,212.92 330.84,213.23 331.41,213.54 331.98,213.86 332.55,214.18 333.12,214.5 333.7,214.82 334.27,215.14 334.84,215.47 335.41,215.8 335.99,216.13 336.56,216.47 337.13,216.8 337.7,217.14 338.28,217.49 338.85,217.83 339.42,218.18 339.99,218.53 340.57,218.89 341.14,219.25 341.71,219.61 342.28,219.98 342.86,220.35 343.43,220.73 343.93,221.06 344.43,221.4 344.93,221.74 345.43,222.09 345.93,222.44 346.43,222.79 346.93,223.14 347.43,223.51 347.94,223.87 348.44,224.24 348.94,224.62 349.44,225 349.94,225.38 350.44,225.77 350.94,226.17 351.44,226.57 351.94,226.98 352.44,227.4 352.94,227.82 353.45,228.25 353.95,228.68 354.45,229.12 354.95,229.57 355.45,230.03 355.95,230.49 356.45,230.97 356.95,231.45 357.38,231.87 357.81,232.3 358.24,232.73 358.67,233.17 359.1,233.62 359.53,234.07 359.96,234.54 360.39,235.01 360.81,235.49 361.24,235.98 361.67,236.48 362.1,236.99 362.53,237.51 362.96,238.04 363.39,238.58 363.82,239.13 364.25,239.69 364.68,240.26 365.04,240.75 365.39,241.24 365.75,241.75 366.11,242.26 366.47,242.79 366.82,243.32 367.18,243.87 367.54,244.42 367.9,244.99 368.26,245.56 368.61,246.15 368.97,246.76 369.33,247.37 369.69,248 370.04,248.64 370.4,249.3 370.69,249.83 370.97,250.38 371.26,250.93 371.55,251.5 371.83,252.08 372.12,252.66 372.41,253.26 372.69,253.87 372.98,254.5 373.26,255.13 373.55,255.78 373.84,256.44 374.12,257.12 374.41,257.81 374.7,258.51 374.98,259.23 375.27,259.97 375.48,260.53 375.7,261.11 375.91,261.69 376.13,262.28 376.34,262.89 376.56,263.5 376.77,264.13 376.99,264.76 377.2,265.41 377.41,266.07 377.63,266.74 377.84,267.43 378.06,268.13 378.27,268.84 378.49,269.57 378.7,270.31 378.92,271.06 379.13,271.83 379.35,272.62 379.56,273.42 379.78,274.24 379.99,275.08 380.2,275.94 380.42,276.81 380.56,277.41 380.71,278.01 380.85,278.62 380.99,279.24 381.13,279.87 381.28,280.51 381.42,281.16 381.56,281.82 381.71,282.49 381.85,283.18 381.99,283.87 382.14,284.57 382.28,285.29 382.42,286.02 382.57,286.75 382.71,287.51 382.85,288.27 383,289.05 383.14,289.84 383.28,290.64 383.42,291.46 383.57,292.3 383.71,293.15 383.85,294.01 384,294.89 384.14,295.79 384.28,296.7 384.43,297.63 384.57,298.58 384.71,299.55 384.86,300.53 385,301.54 385.14,302.57 385.28,303.61 385.43,304.68 385.57,305.77 385.71,306.88 385.86,308.02 386,309.18 386.14,310.37 386.22,310.97 386.29,311.58 386.36,312.19 386.43,312.82 386.5,313.45 386.57,314.08 386.64,314.73 386.72,315.38 386.79,316.04 386.86,316.7 386.93,317.38 387,318.06 387.07,318.75 387.15,319.45 387.22,320.15 387.29,320.87 387.36,321.59 387.43,322.32 387.5,323.06 387.57,323.81 387.65,324.57 387.72,325.34 387.79,326.12 387.86,326.91 387.93,327.7 388,328.51 388.08,329.33 388.15,330.16 388.22,331 388.29,331.85 388.36,332.71 388.43,333.58 388.5,334.47 388.58,335.37 388.65,336.27 388.72,337.2 388.79,338.13 388.86,339.08 388.93,340.04 389.01,341.01 389.08,342 389.15,343 389.22,344.02 389.29,345.05 389.36,346.09 389.43,347.15 389.51,348.23 389.58,349.32 389.65,350.43 389.72,351.56 389.79,352.7 389.86,353.86 389.94,355.04 390.01,356.24 390.08,357.45 390.15,358.69 390.22,359.95 390.29,361.22 390.36,362.52 390.44,363.84 390.51,365.18 390.58,366.54 390.65,367.92 390.72,369.33 390.79,370.76 390.87,372.22 390.94,373.7 391.01,375.21 391.08,376.75 391.15,378.31 391.22,379.91 391.3,381.53 391.37,383.18 391.44,384.86 391.51,386.57 391.58,388.32 391.65,390.1 391.72,391.91 391.8,393.76 391.87,395.65" fill="none" stroke="none" marker-start="url(#mg)" marker-mid="url(#mg)" marker-end="url(#mg)"/>
<polyline points="406.15,18.35 406.18,19.05 406.25,20.96 406.32,22.83 406.39,24.66 406.46,26.46 406.54,28.23 406.61,29.96 406.68,31.66 406.75,33.33 406.82,34.97 406.89,36.57 406.96,38.16 407.04,39.71 407.11,41.23 407.18,42.73 407.25,44.2 407.32,45.65 407.39,47.08 407.47,48.48 407.54,49.85 407.61,51.21 407.68,52.54 407.75,53.85 407.82,55.14 407.89,56.4 407.97,57.65 408.04,58.88 408.11,60.09 408.18,61.28 408.25,62.46 408.32,63.61 408.4,64.75 408.47,65.87 408.54,66.97 408.61,68.06 408.68,69.13 408.75,70.19 408.82,71.23 408.9,72.26 408.97,73.27 409.04,74.27 409.11,75.25 409.18,76.22 409.25,77.18 409.33,78.12 409.4,79.05 409.47,79.97 409.54,80.88 409.61,81.77 409.68,82.66 409.76,83.53 409.83,84.39 409.9,85.24 409.97,86.07 410.04,86.9 410.11,87.72 410.18,88.52 410.26,89.32 410.33,90.11 410.4,90.89 410.47,91.65 410.54,92.41 410.61,93.16 410.69,93.9 410.76,94.63 410.83,95.36 410.9,96.07 410.97,96.78 411.04,97.47 411.11,98.16 411.19,98.85 411.26,99.52 411.33,100.19 411.4,100.85 411.47,101.5 411.54,102.14 411.62,102.78 411.69,103.41 411.76,104.03 411.83,104.65 411.9,105.26 411.97,105.86 412.04,106.46 412.19,107.64 412.33,108.79 412.47,109.92 412.62,111.02 412.76,112.1 412.9,113.17 413.05,114.21 413.19,115.23 413.33,116.23 413.48,117.21 413.62,118.17 413.76,119.12 413.9,120.05 414.05,120.96 414.19,121.85 414.33,122.73 414.48,123.59 414.62,124.44 414.76,125.28 414.91,126.1 415.05,126.9 415.19,127.7 415.34,128.47 415.48,129.24 415.62,129.99 415.77,130.74 415.91,131.47 416.05,132.19 416.19,132.89 416.34,133.59 416.48,134.28 416.62,134.95 416.77,135.62 416.91,136.27 417.05,136.92 417.2,137.55 417.34,138.18 417.48,138.8 417.63,139.41 417.77,140.01 417.91,140.6 418.05,141.19 418.27,142.05 418.48,142.89 418.7,143.72 418.91,144.53 419.13,145.33 419.34,146.11 419.56,146.87 419.77,147.62 419.99,148.36 420.2,149.09 420.42,149.8 420.63,150.5 420.85,151.18 421.06,151.86 421.27,152.52 421.49,153.17 421.7,153.82 421.92,154.45 422.13,155.07 422.35,155.68 422.56,156.28 422.78,156.87 422.99,157.46 423.21,158.03 423.42,158.6 423.71,159.34 423.99,160.06 424.28,160.78 424.57,161.48 424.85,162.17 425.14,162.84 425.42,163.5 425.71,164.16 426,164.8 426.28,165.43 426.57,166.05 426.86,166.66 427.14,167.25 427.43,167.85 427.71,168.43 428,169 428.29,169.56 428.57,170.12 428.86,170.67 429.15,171.21 429.43,171.74 429.79,172.4 430.15,173.04 430.5,173.68 430.86,174.3 431.22,174.92 431.58,175.53 431.94,176.12 432.29,176.71 432.65,177.29 433.01,177.87 433.37,178.43 433.72,178.99 434.08,179.54 434.44,180.09 434.8,180.63 435.16,181.16 435.51,181.69 435.87,182.21 436.23,182.73 436.59,183.24 436.94,183.74 437.3,184.25 437.66,184.74 438.02,185.24 438.38,185.73 438.73,186.21 439.16,186.79 439.59,187.36 440.02,187.93 440.45,188.49 440.88,189.05 441.31,189.61 441.74,190.16 442.17,190.71 442.6,191.26 443.03,191.8 443.46,192.34 443.88,192.88 444.31,193.42 444.74,193.95 445.17,194.49 445.6,195.02 446.03,195.55 446.46,196.09 446.89,196.62 447.32,197.15 447.75,197.68 448.18,198.21 448.61,198.75 449.04,199.28 449.47,199.81 449.89,200.35 450.32,200.89 450.75,201.43 451.18,201.97 451.61,202.51 452.04,203.06 452.47,203.61 452.9,204.16 453.33,204.72 453.76,205.28 454.19,205.84 454.62,206.41 455.05,206.98 455.48,207.56 455.83,208.05 456.19,208.54 456.55,209.03 456.91,209.53 457.26,210.03 457.62,210.54 457.98,211.05 458.34,211.56 458.7,212.09 459.05,212.61 459.41,213.15 459.77,213.69 460.13,214.23 460.48,214.79 460.84,215.35 461.2,215.91 461.56,216.49 461.91,217.07 462.27,217.66 462.63,218.26 462.99,218.87 463.35,219.48 463.7,220.11 464.06,220.75 464.42,221.39 464.78,222.05 465.06,222.58 465.35,223.13 465.64,223.67 465.92,224.23 466.21,224.8 466.49,225.37 466.78,225.95 467.07,226.55 467.35,227.15 467.64,227.76 467.93,228.38 468.21,229.01 468.5,229.65 468.78,230.3 469.07,230.97 469.36,231.65 469.64,232.33 469.93,233.04 470.21,233.75 470.5,234.48 470.79,235.22 471,235.79 471.22,236.36 471.43,236.95 471.65,237.54 471.86,238.14 472.08,238.76 472.29,239.38 472.5,240.01 472.72,240.65 472.93,241.31 473.15,241.97 473.36,242.65 473.58,243.34 473.79,244.04 474.01,244.75 474.22,245.47 474.44,246.21 474.65,246.96 474.87,247.73 475.08,248.51 475.29,249.31 475.51,250.12 475.72,250.95 475.94,251.79 476.15,252.65 476.3,253.24 476.44,253.83 476.58,254.43 476.73,255.04 476.87,255.66 477.01,256.29 477.16,256.92 477.3,257.57 477.44,258.22 477.58,258.89 477.73,259.56 477.87,260.25 478.01,260.94 478.16,261.65 478.3,262.37 478.44,263.1 478.59,263.84 478.73,264.59 478.87,265.36 479.02,266.13 479.16,266.92 479.3,267.73 479.44,268.54 479.59,269.38 479.73,270.22 479.87,271.08 480.02,271.96 480.16,272.85 480.3,273.76 480.45,274.68 480.59,275.62 480.73,276.58 480.88,277.56 481.02,278.56 481.16,279.57 481.31,280.61 481.45,281.66 481.59,282.74 481.73,283.84 481.88,284.96 482.02,286.1 482.16,287.27 482.31,288.46 482.38,289.06 482.45,289.68 482.52,290.29 482.59,290.92 482.66,291.55 482.74,292.19 482.81,292.84 482.88,293.49 482.95,294.15 483.02,294.82 483.09,295.49 483.17,296.18 483.24,296.87 483.31,297.57 483.38,298.27 483.45,298.99 483.52,299.71 483.59,300.45 483.67,301.19 483.74,301.94 483.81,302.69 483.88,303.46 483.95,304.24 484.02,305.03 484.1,305.82 484.17,306.63 484.24,307.45 484.31,308.27 484.38,309.11 484.45,309.96 484.52,310.82 484.6,311.69 484.67,312.57 484.74,313.46 484.81,314.37 484.88,315.29 484.95,316.21 485.03,317.16 485.1,318.11 485.17,319.08 485.24,320.06 485.31,321.05 485.38,322.06 485.45,323.09 485.53,324.12 485.6,325.18 485.67,326.24 485.74,327.33 485.81,328.43 485.88,329.54 485.96,330.67 486.03,331.82 486.1,332.99 486.17,334.17 486.24,335.38 486.31,336.6 486.39,337.84 486.46,339.1 486.53,340.38 486.6,341.68 486.67,343 486.74,344.34 486.81,345.71 486.89,347.1 486.96,348.51 487.03,349.94 487.1,351.4 487.17,352.88 487.24,354.39 487.32,355.93 487.39,357.49 487.46,359.08 487.53,360.7 487.6,362.35 487.67,364.03 487.74,365.74 487.82,367.49 487.89,369.26 487.96,371.07 488.03,372.91 488.1,374.79 488.17,376.71 488.25,378.66 488.32,380.66 488.39,382.69 488.46,384.77 488.53,386.89 488.6,389.05 488.67,391.26 488.75,393.51 488.82,395.81" fill="none" stroke="none" marker-start="url(#mg)" marker-mid="url(#mg)" marker-end="url(#mg)"/>
<polyline points="503.83,18.35 503.84,18.56 503.91,19.98 503.99,21.37 504.06,22.73 504.13,24.08 504.2,25.4 504.27,26.7 504.34,27.99 504.42,29.25 504.49,30.49 504.56,31.71 504.63,32.91 504.7,34.1 504.77,35.27 504.84,36.41 504.92,37.55 504.99,38.66 505.06,39.76 505.13,40.84 505.2,41.91 505.27,42.96 505.35,44 505.42,45.02 505.49,46.03 505.56,47.03 505.63,48.01 505.7,48.97 505.78,49.93 505.85,50.87 505.92,51.79 505.99,52.71 506.06,53.61 506.13,54.5 506.2,55.38 506.28,56.25 506.35,57.11 506.42,57.95 506.49,58.79 506.56,59.61 506.63,60.43 506.71,61.23 506.78,62.03 506.85,62.81 506.92,63.58 506.99,64.35 507.06,65.11 507.13,65.85 507.21,66.59 507.28,67.32 507.35,68.04 507.42,68.75 507.49,69.45 507.56,70.15 507.64,70.84 507.71,71.52 507.78,72.19 507.85,72.85 507.92,73.51 507.99,74.16 508.06,74.8 508.14,75.44 508.21,76.06 508.28,76.68 508.35,77.3 508.42,77.91 508.49,78.51 508.64,79.69 508.78,80.85 508.92,81.98 509.07,83.09 509.21,84.18 509.35,85.24 509.5,86.29 509.64,87.31 509.78,88.32 509.93,89.3 510.07,90.27 510.21,91.21 510.35,92.14 510.5,93.06 510.64,93.95 510.78,94.83 510.93,95.69 511.07,96.54 511.21,97.37 511.36,98.19 511.5,98.99 511.64,99.78 511.79,100.56 511.93,101.32 512.07,102.07 512.21,102.81 512.36,103.54 512.5,104.25 512.64,104.95 512.79,105.64 512.93,106.32 513.07,106.99 513.22,107.65 513.36,108.3 513.5,108.94 513.65,109.57 513.79,110.19 513.93,110.8 514.07,111.4 514.22,111.99 514.36,112.57 514.58,113.43 514.79,114.27 515.01,115.09 515.22,115.9 515.43,116.69 515.65,117.46 515.86,118.21 516.08,118.96 516.29,119.68 516.51,120.39 516.72,121.09 516.94,121.78 517.15,122.45 517.37,123.11 517.58,123.75 517.8,124.39 518.01,125.01 518.22,125.62 518.44,126.22 518.65,126.81 518.87,127.39 519.08,127.96 519.37,128.71 519.66,129.44 519.94,130.15 520.23,130.84 520.51,131.52 520.8,132.19 521.09,132.84 521.37,133.48 521.66,134.1 521.95,134.71 522.23,135.31 522.52,135.9 522.8,136.47 523.09,137.03 523.38,137.59 523.66,138.13 523.95,138.66 524.31,139.31 524.66,139.95 525.02,140.57 525.38,141.17 525.74,141.77 526.1,142.35 526.45,142.91 526.81,143.47 527.17,144.01 527.53,144.55 527.88,145.07 528.24,145.58 528.6,146.08 528.96,146.57 529.39,147.14 529.82,147.7 530.25,148.25 530.67,148.79 531.1,149.31 531.53,149.82 531.96,150.33 532.39,150.82 532.82,151.3 533.25,151.76 533.68,152.22 534.11,152.68 534.54,153.12 534.97,153.55 535.4,153.97 535.9,154.46 536.4,154.93 536.9,155.39 537.4,155.84 537.9,156.29 538.4,156.72 538.9,157.14 539.4,157.56 539.9,157.96 540.41,158.36 540.91,158.75 541.41,159.13 541.91,159.51 542.41,159.88 542.91,160.24 543.41,160.59 543.91,160.94 544.41,161.28 544.91,161.61 545.49,161.99 546.06,162.35 546.63,162.71 547.2,163.06 547.77,163.41 548.35,163.75 548.92,164.08 549.49,164.41 550.06,164.73 550.64,165.04 551.21,165.35 551.78,165.65 552.35,165.95 552.93,166.24 553.5,166.52 554.07,166.81 554.64,167.08 555.22,167.35 555.79,167.62 556.36,167.88 556.93,168.14 557.51,168.4 558.08,168.65 558.65,168.89 559.22,169.13 559.8,169.37 560.37,169.61 560.94,169.84 561.51,170.07 562.08,170.29 562.66,170.51 563.23,170.73 563.8,170.94 564.37,171.15 564.95,171.36 565.52,171.57 566.09,171.77 566.66,171.97 567.24,172.17 567.81,172.36 568.38,172.55 568.95,172.74 569.53,172.93 570.1,173.11 570.67,173.29 571.31,173.49 571.96,173.69 572.6,173.89 573.25,174.08 573.89,174.27 574.53,174.46 575.18,174.64 575.82,174.82 576.47,175 577.11,175.18 577.75,175.35 578.4,175.53 579.04,175.7 579.69,175.86 580.33,176.03 580.97,176.19 581.62,176.35 582.26,176.51 582.91,176.67 583.55,176.83 584.19,176.98 584.84,177.13 585.48,177.28 586.13,177.43 586.77,177.58 587.41,177.72 588.06,177.86 588.7,178 589.35,178.14 589.99,178.28 590.63,178.42 591.28,178.55 591.92,178.68 592.57,178.82 593.21,178.95 593.85,179.08 594.5,179.2 595.14,179.33 595.79,179.45 596.43,179.58 597.07,179.7 597.72,179.82 598.36,179.94 599,180.06 599.65,180.17 600.29,180.29 600.94,180.4 601.58,180.52 602.22,180.63 602.87,180.74 603.51,180.85 604.16,180.96 604.8,181.07 605.44,181.17 606.09,181.28 606.73,181.38 607.38,181.49 608.02,181.59 608.66,181.69 609.31,181.79 609.95,181.89 610.6,181.99 611.24,182.09 611.88,182.19 612.53,182.28 613.17,182.38 613.82,182.47 614.46,182.57 615.1,182.66 615.75,182.75 616.39,182.84 617.04,182.93" fill="none" stroke="none" marker-start="url(#mg)" marker-mid="url(#mg)" marker-end="url(#mg)"/>
<rect x="171.65" y="175.50" width="4.4" height="4.4" fill="#5ba72b"/>
<rect x="171.70" y="202.40" width="4.4" height="4.4" fill="#5ba72b"/>
<rect x="171.90" y="160.40" width="4.4" height="4.4" fill="#5ba72b"/>
<rect x="465.10" y="255.70" width="4.4" height="4.4" fill="#5ba72b"/>
<rect x="465.20" y="137.20" width="4.4" height="4.4" fill="#5ba72b"/>
<rect x="465.30" y="199.70" width="4.4" height="4.4" fill="#5ba72b"/>
<rect x="250.15" y="96.60" width="4.4" height="4.4" fill="#5ba72b"/>
<rect x="250.10" y="116.60" width="4.4" height="4.4" fill="#5ba72b"/>
<rect x="468" y="297.8" width="148.69999999999993" height="93.69999999999999" fill="#fff"/>
<path d="M486.1,309.4H523.9" stroke="#000000" stroke-width="1.7"/><circle cx="505.0" cy="309.4" r="2.1" fill="#000000"/>
<path d="M486.1,332.8H523.9" stroke="#0060ad" stroke-width="1.8" stroke-dasharray="14.8 6 3.6 5.2 20"/>
<path d="M486.1,356.4H523.9" stroke="#dd181f" stroke-width="1.8"/><path d="M502.9,354.29999999999995L507.1,358.5M502.9,358.5L507.1,354.29999999999995" stroke="#dd181f" stroke-width="1.3"/>
<path d="M486.1,379.8H523.9" stroke="#5ba72b" stroke-width="1.8"/><rect x="502.55" y="377.35" width="4.9" height="4.9" fill="#5ba72b"/>
<g font-family="Liberation Serif, serif" font-size="17.8px" fill="#000">
<text x="535.3" y="315.3">Exact <tspan font-style="italic">g</tspan></text>
<text x="535.3" y="339.0">[1,1] Padé</text>
<text x="535.3" y="362.7">[1,2] Padé</text>
<text x="535.3" y="385.8">[2,2] Padé</text>
<text x="44.85" y="421.6" text-anchor="middle">−4</text>
<text x="116.40" y="421.6" text-anchor="middle">−3</text>
<text x="187.95" y="421.6" text-anchor="middle">−2</text>
<text x="259.50" y="421.6" text-anchor="middle">−1</text>
<text x="333.35" y="421.6" text-anchor="middle">0</text>
<text x="404.90" y="421.6" text-anchor="middle">1</text>
<text x="476.45" y="421.6" text-anchor="middle">2</text>
<text x="548.00" y="421.6" text-anchor="middle">3</text>
<text x="619.55" y="421.6" text-anchor="middle">4</text>
<text x="332.3" y="448.3" text-anchor="middle" font-style="italic" stroke="#000" stroke-width="0.35">ω</text>
<text transform="translate(22.9,207.9) rotate(-90)" text-anchor="middle"><tspan font-style="italic">g</tspan>(<tspan font-style="italic" stroke="#000" stroke-width="0.35">ω</tspan>)</text>
</g>
<path d="M44.85,397.3v-5.8M44.85,18.0v5.8M116.40,397.3v-5.8M116.40,18.0v5.8M187.95,397.3v-5.8M187.95,18.0v5.8M259.50,397.3v-5.8M259.50,18.0v5.8M331.05,397.3v-5.8M331.05,18.0v5.8M402.60,397.3v-5.8M402.60,18.0v5.8M474.15,397.3v-5.8M474.15,18.0v5.8M545.70,397.3v-5.8M545.70,18.0v5.8M617.25,397.3v-5.8M617.25,18.0v5.8" stroke="#222" stroke-width="1" fill="none"/>
<rect x="44.85" y="18.0" width="572.4499999999999" height="379.3" fill="none" stroke="#000" stroke-width="1.25"/>
</svg>
</body></html>
